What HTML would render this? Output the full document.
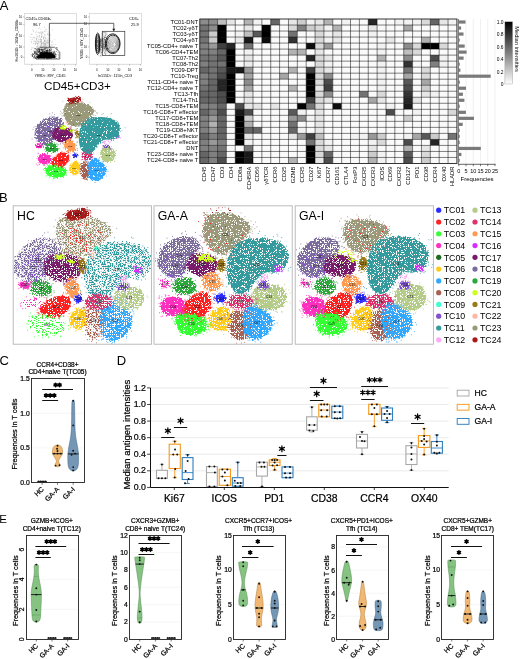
<!DOCTYPE html><html><head><meta charset="utf-8"><style>html,body{margin:0;padding:0;background:#fff;overflow:hidden}svg{display:block;will-change:transform}text{font-family:"Liberation Sans",sans-serif;fill:#000}.b text,text.b{stroke:#000;stroke-width:0.22px}</style></head><body>
<svg width="520" height="659" viewBox="0 0 520 659">
<rect width="520" height="659" fill="#fff"/>
<defs><filter id="sp0" x="-10%" y="-10%" width="120%" height="120%" color-interpolation-filters="sRGB"><feTurbulence type="fractalNoise" baseFrequency="0.5" numOctaves="2" seed="3" result="n"/><feDisplacementMap in="SourceGraphic" in2="n" scale="6" xChannelSelector="R" yChannelSelector="G" result="d"/><feTurbulence type="fractalNoise" baseFrequency="1.5" numOctaves="1" seed="11" result="n2"/><feColorMatrix in="n2" type="matrix" values="0 0 0 0 0 0 0 0 0 0 0 0 0 0 0 25 0 0 0 -7.750" result="m"/><feComposite in="d" in2="m" operator="in"/></filter><filter id="sp1" x="-10%" y="-10%" width="120%" height="120%" color-interpolation-filters="sRGB"><feTurbulence type="fractalNoise" baseFrequency="0.5" numOctaves="2" seed="4" result="n"/><feDisplacementMap in="SourceGraphic" in2="n" scale="6" xChannelSelector="R" yChannelSelector="G" result="d"/><feTurbulence type="fractalNoise" baseFrequency="1.5" numOctaves="1" seed="12" result="n2"/><feColorMatrix in="n2" type="matrix" values="0 0 0 0 0 0 0 0 0 0 0 0 0 0 0 25 0 0 0 -9.750" result="m"/><feComposite in="d" in2="m" operator="in"/></filter><filter id="sp2" x="-10%" y="-10%" width="120%" height="120%" color-interpolation-filters="sRGB"><feTurbulence type="fractalNoise" baseFrequency="0.5" numOctaves="2" seed="5" result="n"/><feDisplacementMap in="SourceGraphic" in2="n" scale="6" xChannelSelector="R" yChannelSelector="G" result="d"/><feTurbulence type="fractalNoise" baseFrequency="1.5" numOctaves="1" seed="13" result="n2"/><feColorMatrix in="n2" type="matrix" values="0 0 0 0 0 0 0 0 0 0 0 0 0 0 0 25 0 0 0 -11.125" result="m"/><feComposite in="d" in2="m" operator="in"/></filter><filter id="sp3" x="-10%" y="-10%" width="120%" height="120%" color-interpolation-filters="sRGB"><feTurbulence type="fractalNoise" baseFrequency="0.5" numOctaves="2" seed="6" result="n"/><feDisplacementMap in="SourceGraphic" in2="n" scale="6" xChannelSelector="R" yChannelSelector="G" result="d"/><feTurbulence type="fractalNoise" baseFrequency="1.5" numOctaves="1" seed="14" result="n2"/><feColorMatrix in="n2" type="matrix" values="0 0 0 0 0 0 0 0 0 0 0 0 0 0 0 25 0 0 0 -12.175" result="m"/><feComposite in="d" in2="m" operator="in"/></filter><filter id="sp4" x="-10%" y="-10%" width="120%" height="120%" color-interpolation-filters="sRGB"><feTurbulence type="fractalNoise" baseFrequency="0.5" numOctaves="2" seed="7" result="n"/><feDisplacementMap in="SourceGraphic" in2="n" scale="6" xChannelSelector="R" yChannelSelector="G" result="d"/><feTurbulence type="fractalNoise" baseFrequency="1.5" numOctaves="1" seed="15" result="n2"/><feColorMatrix in="n2" type="matrix" values="0 0 0 0 0 0 0 0 0 0 0 0 0 0 0 25 0 0 0 -13.175" result="m"/><feComposite in="d" in2="m" operator="in"/></filter><filter id="sp5" x="-10%" y="-10%" width="120%" height="120%" color-interpolation-filters="sRGB"><feTurbulence type="fractalNoise" baseFrequency="0.5" numOctaves="2" seed="8" result="n"/><feDisplacementMap in="SourceGraphic" in2="n" scale="6" xChannelSelector="R" yChannelSelector="G" result="d"/><feTurbulence type="fractalNoise" baseFrequency="1.5" numOctaves="1" seed="16" result="n2"/><feColorMatrix in="n2" type="matrix" values="0 0 0 0 0 0 0 0 0 0 0 0 0 0 0 25 0 0 0 -14.075" result="m"/><feComposite in="d" in2="m" operator="in"/></filter><filter id="sp6" x="-10%" y="-10%" width="120%" height="120%" color-interpolation-filters="sRGB"><feTurbulence type="fractalNoise" baseFrequency="0.5" numOctaves="2" seed="9" result="n"/><feDisplacementMap in="SourceGraphic" in2="n" scale="6" xChannelSelector="R" yChannelSelector="G" result="d"/><feTurbulence type="fractalNoise" baseFrequency="1.5" numOctaves="1" seed="17" result="n2"/><feColorMatrix in="n2" type="matrix" values="0 0 0 0 0 0 0 0 0 0 0 0 0 0 0 25 0 0 0 -15.250" result="m"/><feComposite in="d" in2="m" operator="in"/></filter><filter id="sp7" x="-10%" y="-10%" width="120%" height="120%" color-interpolation-filters="sRGB"><feTurbulence type="fractalNoise" baseFrequency="0.5" numOctaves="2" seed="10" result="n"/><feDisplacementMap in="SourceGraphic" in2="n" scale="6" xChannelSelector="R" yChannelSelector="G" result="d"/><feTurbulence type="fractalNoise" baseFrequency="1.5" numOctaves="1" seed="18" result="n2"/><feColorMatrix in="n2" type="matrix" values="0 0 0 0 0 0 0 0 0 0 0 0 0 0 0 25 0 0 0 -16.500" result="m"/><feComposite in="d" in2="m" operator="in"/></filter><filter id="spa0" x="-10%" y="-10%" width="120%" height="120%" color-interpolation-filters="sRGB"><feTurbulence type="fractalNoise" baseFrequency="0.8" numOctaves="2" seed="3" result="n"/><feDisplacementMap in="SourceGraphic" in2="n" scale="4" xChannelSelector="R" yChannelSelector="G" result="d"/><feTurbulence type="fractalNoise" baseFrequency="1.8" numOctaves="1" seed="11" result="n2"/><feColorMatrix in="n2" type="matrix" values="0 0 0 0 0 0 0 0 0 0 0 0 0 0 0 25 0 0 0 -7.750" result="m"/><feComposite in="d" in2="m" operator="in"/></filter><filter id="spa1" x="-10%" y="-10%" width="120%" height="120%" color-interpolation-filters="sRGB"><feTurbulence type="fractalNoise" baseFrequency="0.8" numOctaves="2" seed="4" result="n"/><feDisplacementMap in="SourceGraphic" in2="n" scale="4" xChannelSelector="R" yChannelSelector="G" result="d"/><feTurbulence type="fractalNoise" baseFrequency="1.8" numOctaves="1" seed="12" result="n2"/><feColorMatrix in="n2" type="matrix" values="0 0 0 0 0 0 0 0 0 0 0 0 0 0 0 25 0 0 0 -9.750" result="m"/><feComposite in="d" in2="m" operator="in"/></filter><filter id="spa2" x="-10%" y="-10%" width="120%" height="120%" color-interpolation-filters="sRGB"><feTurbulence type="fractalNoise" baseFrequency="0.8" numOctaves="2" seed="5" result="n"/><feDisplacementMap in="SourceGraphic" in2="n" scale="4" xChannelSelector="R" yChannelSelector="G" result="d"/><feTurbulence type="fractalNoise" baseFrequency="1.8" numOctaves="1" seed="13" result="n2"/><feColorMatrix in="n2" type="matrix" values="0 0 0 0 0 0 0 0 0 0 0 0 0 0 0 25 0 0 0 -11.125" result="m"/><feComposite in="d" in2="m" operator="in"/></filter><filter id="spa3" x="-10%" y="-10%" width="120%" height="120%" color-interpolation-filters="sRGB"><feTurbulence type="fractalNoise" baseFrequency="0.8" numOctaves="2" seed="6" result="n"/><feDisplacementMap in="SourceGraphic" in2="n" scale="4" xChannelSelector="R" yChannelSelector="G" result="d"/><feTurbulence type="fractalNoise" baseFrequency="1.8" numOctaves="1" seed="14" result="n2"/><feColorMatrix in="n2" type="matrix" values="0 0 0 0 0 0 0 0 0 0 0 0 0 0 0 25 0 0 0 -12.175" result="m"/><feComposite in="d" in2="m" operator="in"/></filter><filter id="spa4" x="-10%" y="-10%" width="120%" height="120%" color-interpolation-filters="sRGB"><feTurbulence type="fractalNoise" baseFrequency="0.8" numOctaves="2" seed="7" result="n"/><feDisplacementMap in="SourceGraphic" in2="n" scale="4" xChannelSelector="R" yChannelSelector="G" result="d"/><feTurbulence type="fractalNoise" baseFrequency="1.8" numOctaves="1" seed="15" result="n2"/><feColorMatrix in="n2" type="matrix" values="0 0 0 0 0 0 0 0 0 0 0 0 0 0 0 25 0 0 0 -13.175" result="m"/><feComposite in="d" in2="m" operator="in"/></filter><filter id="spa5" x="-10%" y="-10%" width="120%" height="120%" color-interpolation-filters="sRGB"><feTurbulence type="fractalNoise" baseFrequency="0.8" numOctaves="2" seed="8" result="n"/><feDisplacementMap in="SourceGraphic" in2="n" scale="4" xChannelSelector="R" yChannelSelector="G" result="d"/><feTurbulence type="fractalNoise" baseFrequency="1.8" numOctaves="1" seed="16" result="n2"/><feColorMatrix in="n2" type="matrix" values="0 0 0 0 0 0 0 0 0 0 0 0 0 0 0 25 0 0 0 -14.075" result="m"/><feComposite in="d" in2="m" operator="in"/></filter><filter id="spa6" x="-10%" y="-10%" width="120%" height="120%" color-interpolation-filters="sRGB"><feTurbulence type="fractalNoise" baseFrequency="0.8" numOctaves="2" seed="9" result="n"/><feDisplacementMap in="SourceGraphic" in2="n" scale="4" xChannelSelector="R" yChannelSelector="G" result="d"/><feTurbulence type="fractalNoise" baseFrequency="1.8" numOctaves="1" seed="17" result="n2"/><feColorMatrix in="n2" type="matrix" values="0 0 0 0 0 0 0 0 0 0 0 0 0 0 0 25 0 0 0 -15.250" result="m"/><feComposite in="d" in2="m" operator="in"/></filter><filter id="spa7" x="-10%" y="-10%" width="120%" height="120%" color-interpolation-filters="sRGB"><feTurbulence type="fractalNoise" baseFrequency="0.8" numOctaves="2" seed="10" result="n"/><feDisplacementMap in="SourceGraphic" in2="n" scale="4" xChannelSelector="R" yChannelSelector="G" result="d"/><feTurbulence type="fractalNoise" baseFrequency="1.8" numOctaves="1" seed="18" result="n2"/><feColorMatrix in="n2" type="matrix" values="0 0 0 0 0 0 0 0 0 0 0 0 0 0 0 25 0 0 0 -16.500" result="m"/><feComposite in="d" in2="m" operator="in"/></filter></defs>
<text x="-0.30" y="9.60" font-size="13" text-anchor="start" >A</text>
<text x="-0.90" y="202.30" font-size="13" text-anchor="start" >B</text>
<text x="-0.60" y="365.00" font-size="13" text-anchor="start" >C</text>
<text x="116.80" y="364.80" font-size="13" text-anchor="start" >D</text>
<text x="-0.80" y="522.60" font-size="11.5" text-anchor="start" >E</text>
<rect x="24.4" y="13.5" width="52.1" height="50.7" fill="none" stroke="#d0d0d0" stroke-width="0.7"/>
<line x1="23.0" y1="57.3" x2="24.4" y2="57.3" stroke="#888" stroke-width="0.5"/>
<text x="22.20" y="58.30" font-size="2.8" text-anchor="end" fill="#666">0</text>
<line x1="23.0" y1="46.9" x2="24.4" y2="46.9" stroke="#888" stroke-width="0.5"/>
<text x="22.20" y="47.90" font-size="2.8" text-anchor="end" fill="#666">10</text>
<line x1="23.0" y1="36.0" x2="24.4" y2="36.0" stroke="#888" stroke-width="0.5"/>
<text x="22.20" y="37.00" font-size="2.8" text-anchor="end" fill="#666">10</text>
<line x1="23.0" y1="24.4" x2="24.4" y2="24.4" stroke="#888" stroke-width="0.5"/>
<text x="22.20" y="25.40" font-size="2.8" text-anchor="end" fill="#666">10</text>
<line x1="23.0" y1="16.9" x2="24.4" y2="16.9" stroke="#888" stroke-width="0.5"/>
<text x="22.20" y="17.90" font-size="2.8" text-anchor="end" fill="#666">10</text>
<line x1="31.9" y1="64.2" x2="31.9" y2="65.6" stroke="#888" stroke-width="0.5"/>
<text x="31.90" y="70.80" font-size="2.8" text-anchor="middle" fill="#666">0</text>
<line x1="42.8" y1="64.2" x2="42.8" y2="65.6" stroke="#888" stroke-width="0.5"/>
<text x="42.80" y="70.80" font-size="2.8" text-anchor="middle" fill="#666">10</text>
<line x1="53.7" y1="64.2" x2="53.7" y2="65.6" stroke="#888" stroke-width="0.5"/>
<text x="53.70" y="70.80" font-size="2.8" text-anchor="middle" fill="#666">10</text>
<line x1="64.6" y1="64.2" x2="64.6" y2="65.6" stroke="#888" stroke-width="0.5"/>
<text x="64.60" y="70.80" font-size="2.8" text-anchor="middle" fill="#666">10</text>
<line x1="75.4" y1="64.2" x2="75.4" y2="65.6" stroke="#888" stroke-width="0.5"/>
<text x="75.40" y="70.80" font-size="2.8" text-anchor="middle" fill="#666">10</text>
<line x1="27.4" y1="64.2" x2="27.4" y2="64.9" stroke="#aaa" stroke-width="0.3"/>
<line x1="29.6" y1="64.2" x2="29.6" y2="64.9" stroke="#aaa" stroke-width="0.3"/>
<line x1="31.8" y1="64.2" x2="31.8" y2="64.9" stroke="#aaa" stroke-width="0.3"/>
<line x1="34.0" y1="64.2" x2="34.0" y2="64.9" stroke="#aaa" stroke-width="0.3"/>
<line x1="36.2" y1="64.2" x2="36.2" y2="64.9" stroke="#aaa" stroke-width="0.3"/>
<line x1="38.4" y1="64.2" x2="38.4" y2="64.9" stroke="#aaa" stroke-width="0.3"/>
<line x1="40.6" y1="64.2" x2="40.6" y2="64.9" stroke="#aaa" stroke-width="0.3"/>
<line x1="42.8" y1="64.2" x2="42.8" y2="64.9" stroke="#aaa" stroke-width="0.3"/>
<line x1="45.0" y1="64.2" x2="45.0" y2="64.9" stroke="#aaa" stroke-width="0.3"/>
<line x1="47.2" y1="64.2" x2="47.2" y2="64.9" stroke="#aaa" stroke-width="0.3"/>
<line x1="49.4" y1="64.2" x2="49.4" y2="64.9" stroke="#aaa" stroke-width="0.3"/>
<line x1="51.6" y1="64.2" x2="51.6" y2="64.9" stroke="#aaa" stroke-width="0.3"/>
<line x1="53.8" y1="64.2" x2="53.8" y2="64.9" stroke="#aaa" stroke-width="0.3"/>
<line x1="56.0" y1="64.2" x2="56.0" y2="64.9" stroke="#aaa" stroke-width="0.3"/>
<line x1="58.2" y1="64.2" x2="58.2" y2="64.9" stroke="#aaa" stroke-width="0.3"/>
<line x1="60.4" y1="64.2" x2="60.4" y2="64.9" stroke="#aaa" stroke-width="0.3"/>
<line x1="62.6" y1="64.2" x2="62.6" y2="64.9" stroke="#aaa" stroke-width="0.3"/>
<line x1="64.8" y1="64.2" x2="64.8" y2="64.9" stroke="#aaa" stroke-width="0.3"/>
<line x1="67.0" y1="64.2" x2="67.0" y2="64.9" stroke="#aaa" stroke-width="0.3"/>
<line x1="69.2" y1="64.2" x2="69.2" y2="64.9" stroke="#aaa" stroke-width="0.3"/>
<line x1="71.4" y1="64.2" x2="71.4" y2="64.9" stroke="#aaa" stroke-width="0.3"/>
<line x1="73.6" y1="64.2" x2="73.6" y2="64.9" stroke="#aaa" stroke-width="0.3"/>
<line x1="75.8" y1="64.2" x2="75.8" y2="64.9" stroke="#aaa" stroke-width="0.3"/>
<rect x="89.4" y="13.5" width="52.1" height="50.7" fill="none" stroke="#d0d0d0" stroke-width="0.7"/>
<line x1="88.0" y1="57.3" x2="89.4" y2="57.3" stroke="#888" stroke-width="0.5"/>
<text x="87.20" y="58.30" font-size="2.8" text-anchor="end" fill="#666">0</text>
<line x1="88.0" y1="46.9" x2="89.4" y2="46.9" stroke="#888" stroke-width="0.5"/>
<text x="87.20" y="47.90" font-size="2.8" text-anchor="end" fill="#666">10</text>
<line x1="88.0" y1="36.0" x2="89.4" y2="36.0" stroke="#888" stroke-width="0.5"/>
<text x="87.20" y="37.00" font-size="2.8" text-anchor="end" fill="#666">10</text>
<line x1="88.0" y1="24.4" x2="89.4" y2="24.4" stroke="#888" stroke-width="0.5"/>
<text x="87.20" y="25.40" font-size="2.8" text-anchor="end" fill="#666">10</text>
<line x1="88.0" y1="16.9" x2="89.4" y2="16.9" stroke="#888" stroke-width="0.5"/>
<text x="87.20" y="17.90" font-size="2.8" text-anchor="end" fill="#666">10</text>
<line x1="96.9" y1="64.2" x2="96.9" y2="65.6" stroke="#888" stroke-width="0.5"/>
<text x="96.90" y="70.80" font-size="2.8" text-anchor="middle" fill="#666">0</text>
<line x1="107.8" y1="64.2" x2="107.8" y2="65.6" stroke="#888" stroke-width="0.5"/>
<text x="107.80" y="70.80" font-size="2.8" text-anchor="middle" fill="#666">10</text>
<line x1="118.7" y1="64.2" x2="118.7" y2="65.6" stroke="#888" stroke-width="0.5"/>
<text x="118.70" y="70.80" font-size="2.8" text-anchor="middle" fill="#666">10</text>
<line x1="129.6" y1="64.2" x2="129.6" y2="65.6" stroke="#888" stroke-width="0.5"/>
<text x="129.60" y="70.80" font-size="2.8" text-anchor="middle" fill="#666">10</text>
<line x1="140.4" y1="64.2" x2="140.4" y2="65.6" stroke="#888" stroke-width="0.5"/>
<text x="140.40" y="70.80" font-size="2.8" text-anchor="middle" fill="#666">10</text>
<line x1="92.4" y1="64.2" x2="92.4" y2="64.9" stroke="#aaa" stroke-width="0.3"/>
<line x1="94.6" y1="64.2" x2="94.6" y2="64.9" stroke="#aaa" stroke-width="0.3"/>
<line x1="96.8" y1="64.2" x2="96.8" y2="64.9" stroke="#aaa" stroke-width="0.3"/>
<line x1="99.0" y1="64.2" x2="99.0" y2="64.9" stroke="#aaa" stroke-width="0.3"/>
<line x1="101.2" y1="64.2" x2="101.2" y2="64.9" stroke="#aaa" stroke-width="0.3"/>
<line x1="103.4" y1="64.2" x2="103.4" y2="64.9" stroke="#aaa" stroke-width="0.3"/>
<line x1="105.6" y1="64.2" x2="105.6" y2="64.9" stroke="#aaa" stroke-width="0.3"/>
<line x1="107.8" y1="64.2" x2="107.8" y2="64.9" stroke="#aaa" stroke-width="0.3"/>
<line x1="110.0" y1="64.2" x2="110.0" y2="64.9" stroke="#aaa" stroke-width="0.3"/>
<line x1="112.2" y1="64.2" x2="112.2" y2="64.9" stroke="#aaa" stroke-width="0.3"/>
<line x1="114.4" y1="64.2" x2="114.4" y2="64.9" stroke="#aaa" stroke-width="0.3"/>
<line x1="116.6" y1="64.2" x2="116.6" y2="64.9" stroke="#aaa" stroke-width="0.3"/>
<line x1="118.8" y1="64.2" x2="118.8" y2="64.9" stroke="#aaa" stroke-width="0.3"/>
<line x1="121.0" y1="64.2" x2="121.0" y2="64.9" stroke="#aaa" stroke-width="0.3"/>
<line x1="123.2" y1="64.2" x2="123.2" y2="64.9" stroke="#aaa" stroke-width="0.3"/>
<line x1="125.4" y1="64.2" x2="125.4" y2="64.9" stroke="#aaa" stroke-width="0.3"/>
<line x1="127.6" y1="64.2" x2="127.6" y2="64.9" stroke="#aaa" stroke-width="0.3"/>
<line x1="129.8" y1="64.2" x2="129.8" y2="64.9" stroke="#aaa" stroke-width="0.3"/>
<line x1="132.0" y1="64.2" x2="132.0" y2="64.9" stroke="#aaa" stroke-width="0.3"/>
<line x1="134.2" y1="64.2" x2="134.2" y2="64.9" stroke="#aaa" stroke-width="0.3"/>
<line x1="136.4" y1="64.2" x2="136.4" y2="64.9" stroke="#aaa" stroke-width="0.3"/>
<line x1="138.6" y1="64.2" x2="138.6" y2="64.9" stroke="#aaa" stroke-width="0.3"/>
<line x1="140.8" y1="64.2" x2="140.8" y2="64.9" stroke="#aaa" stroke-width="0.3"/>
<text x="50.00" y="77.30" font-size="3.7" text-anchor="middle" fill="#333">Y89Di : 89Y_CD45</text>
<text x="115.00" y="77.30" font-size="3.7" text-anchor="middle" fill="#333">In115Di : 115In_CD3</text>
<text transform="translate(17.80,40.50) rotate(-90)" font-size="3.7" text-anchor="middle" fill="#333">Ho165Di : 165Ho_CD66b</text>
<text transform="translate(82.60,43.50) rotate(-90)" font-size="3.7" text-anchor="middle" fill="#333">Y89Di : 89Y_CD45</text>
<text x="25.60" y="19.80" font-size="3.9" text-anchor="start" fill="#222">CD45+CD66b-</text>
<text x="36.80" y="25.50" font-size="3.9" text-anchor="middle" fill="#222">96.7</text>
<text x="139.00" y="19.80" font-size="3.9" text-anchor="end" fill="#222">CD3+</text>
<text x="134.90" y="25.50" font-size="3.9" text-anchor="middle" fill="#222">25.9</text>
<path d="M40.6 45.6h0M40.8 39.8h0M36.9 40.5h0M48.1 45.0h0M47.7 43.7h0M44.2 43.3h0M32.8 48.0h0M44.8 45.5h0M32.7 29.8h0M37.1 38.7h0M43.7 41.7h0M44.9 37.5h0M43.7 44.8h0M45.1 50.4h0M38.6 36.8h0M40.1 41.3h0M45.5 43.7h0M39.5 35.3h0M39.1 50.5h0M37.6 43.7h0M44.3 31.6h0M42.3 51.1h0M30.9 39.7h0M41.4 36.3h0M44.7 41.6h0M33.9 47.8h0M45.7 48.6h0M49.9 44.5h0M42.7 32.9h0M45.4 37.7h0M39.5 33.1h0M36.7 38.3h0M49.1 27.8h0M34.0 43.7h0M49.9 46.0h0M44.0 36.8h0M35.8 48.8h0M48.1 43.1h0M43.4 45.0h0M50.8 46.3h0M44.9 45.8h0M33.4 51.0h0M47.3 45.7h0M31.1 37.6h0M46.6 29.3h0M41.0 49.1h0M45.0 40.9h0M43.8 46.5h0M42.7 50.0h0M38.4 39.1h0M47.7 42.2h0M37.2 48.6h0M50.1 38.9h0M34.4 41.1h0M41.2 39.9h0M49.7 34.8h0M48.9 33.1h0M37.7 46.4h0M48.2 48.0h0M43.9 43.0h0M42.8 46.0h0M41.0 43.9h0M45.1 42.0h0M46.2 46.0h0M53.1 44.3h0M39.6 39.4h0M41.9 48.5h0M40.1 44.7h0M35.8 43.7h0M44.2 43.7h0M39.6 46.6h0M43.6 38.3h0M55.4 44.5h0M39.0 41.3h0M40.8 41.6h0M47.5 33.8h0M41.6 48.7h0M32.6 39.5h0M40.1 46.4h0M48.0 31.9h0M45.8 31.6h0M43.0 50.4h0M41.2 43.3h0M46.4 43.0h0M47.8 39.9h0M47.0 40.1h0M42.7 46.9h0M43.2 46.5h0M33.6 31.4h0M45.4 35.3h0M36.4 31.7h0M49.0 47.2h0M50.1 35.4h0M42.0 34.0h0M47.4 40.8h0M31.2 51.8h0M41.5 37.8h0M44.2 44.9h0M50.2 34.9h0M50.0 40.7h0M37.9 49.1h0M42.6 42.9h0M49.8 40.2h0M31.8 47.7h0M43.7 37.7h0M41.9 47.8h0M42.4 51.3h0M41.7 49.3h0M38.3 48.2h0M31.7 34.4h0M31.2 49.5h0M35.2 41.9h0M40.9 41.8h0M38.7 43.6h0M51.9 42.3h0M44.9 49.0h0M40.9 33.2h0M38.9 49.5h0M32.9 37.8h0M47.5 47.5h0M42.0 47.6h0M42.9 33.7h0M33.4 37.5h0M47.1 38.0h0M37.0 36.6h0M33.6 41.2h0M35.5 44.5h0M38.5 28.4h0M46.0 40.1h0M43.6 38.8h0M46.3 47.2h0M45.7 44.3h0M49.3 46.6h0M44.5 27.4h0M46.9 51.2h0M40.4 38.7h0M52.7 29.7h0M36.9 46.8h0M52.4 41.2h0M45.1 48.3h0M37.0 41.4h0M43.6 47.8h0M41.8 40.6h0M36.4 39.5h0M46.9 42.7h0M37.3 36.1h0M45.4 45.4h0M51.3 45.0h0M41.6 45.7h0M31.3 49.2h0M43.8 37.1h0M34.3 37.3h0M43.6 43.3h0M39.8 35.2h0M53.7 49.3h0M35.4 32.6h0M51.4 48.9h0M52.0 47.7h0M37.2 43.8h0M30.1 36.8h0M41.7 45.7h0M38.0 41.1h0M44.5 44.6h0M45.5 43.5h0M40.2 47.5h0M42.3 36.2h0M38.6 42.0h0M41.4 43.1h0M42.0 43.2h0M41.3 33.2h0M44.3 49.4h0M44.4 40.7h0M44.5 35.2h0M31.6 42.4h0M36.9 47.2h0M39.9 32.4h0M37.8 45.6h0M44.7 43.2h0M50.2 46.9h0M41.9 46.2h0M51.1 48.8h0M47.6 34.4h0M41.2 47.1h0M40.4 49.5h0M45.3 48.4h0M48.8 40.5h0M40.1 48.1h0M47.4 42.0h0M35.6 43.3h0M44.0 49.9h0M46.3 42.2h0M46.7 45.8h0M43.1 42.4h0M40.7 46.8h0M36.2 37.6h0M42.0 31.8h0M39.6 27.9h0M38.2 46.0h0M45.1 41.6h0M40.7 32.1h0M52.1 45.6h0M48.0 35.8h0M41.0 29.3h0M46.3 48.5h0M31.6 41.6h0M45.5 29.7h0M32.0 34.5h0M38.5 32.2h0M42.2 43.7h0M45.5 46.9h0M50.3 50.2h0M34.8 38.5h0M36.2 34.5h0M41.6 42.0h0M44.7 30.9h0M35.2 41.8h0M40.9 39.8h0M41.7 36.7h0M45.9 44.5h0M41.5 37.3h0M36.6 42.3h0M33.7 43.4h0M42.8 32.4h0M40.6 39.8h0M44.5 46.3h0M41.8 36.0h0M41.2 41.5h0M46.0 44.1h0M38.0 32.5h0M39.9 36.8h0M35.9 41.2h0M39.3 42.7h0M44.9 39.1h0M54.8 39.7h0M48.1 42.9h0M37.9 43.7h0M43.8 51.0h0M46.2 48.6h0M44.8 40.9h0M44.8 34.5h0M48.5 34.9h0M40.8 42.1h0M48.4 42.2h0M37.6 43.8h0M45.2 47.0h0M51.2 42.1h0M43.5 39.0h0M49.8 37.1h0M45.7 38.6h0M38.2 47.0h0M49.3 41.9h0M38.3 47.7h0M41.7 44.2h0M50.4 49.9h0M42.0 47.5h0M38.4 41.7h0M49.5 33.5h0M33.7 30.7h0M48.5 38.8h0M41.7 39.8h0M41.3 34.4h0M42.1 31.9h0M41.6 44.2h0M44.6 40.4h0M37.0 43.1h0M46.2 41.2h0M39.4 37.1h0M36.8 39.5h0" stroke="#333" stroke-width="0.4" stroke-linecap="round" fill="none" opacity="0.55"/>
<path d="M46.6 55.8h0M41.1 54.5h0M42.1 54.9h0M45.8 55.6h0M43.7 55.5h0M45.3 56.5h0M34.6 52.2h0M45.0 51.8h0M39.3 56.1h0M41.4 56.2h0M49.1 55.3h0M47.8 54.2h0M37.2 54.4h0M47.5 53.1h0M44.5 56.4h0M40.2 56.2h0M55.2 53.1h0M45.8 54.1h0M53.5 55.3h0M49.9 52.7h0M44.9 54.5h0M35.2 58.2h0M49.9 50.0h0M49.1 54.2h0M47.5 55.5h0M36.8 53.9h0M53.2 53.0h0M39.4 51.0h0M38.3 55.4h0M54.3 55.6h0M42.1 52.7h0M47.9 55.9h0M39.4 51.5h0M46.6 55.1h0M37.8 54.0h0M42.0 55.7h0M44.4 54.3h0M43.1 57.2h0M52.6 53.5h0M49.7 52.5h0M45.4 56.4h0M53.3 53.5h0M44.6 55.0h0M36.8 54.5h0M41.3 55.5h0M38.8 49.4h0M45.2 55.2h0M42.0 56.8h0M43.5 52.9h0M47.6 50.4h0M41.3 54.4h0M49.7 54.1h0M46.7 52.8h0M41.5 54.5h0M46.0 57.2h0M38.2 49.0h0M48.3 56.6h0M46.1 55.2h0M50.1 55.5h0M54.2 51.3h0M49.5 53.5h0M45.0 53.8h0M42.3 52.3h0M41.5 56.2h0M45.2 54.7h0M44.0 56.9h0M47.7 54.1h0M48.7 54.1h0M38.7 58.3h0M47.6 52.0h0M50.9 55.4h0M36.4 58.7h0M46.8 56.8h0M46.1 54.1h0M36.5 57.0h0M45.2 53.8h0M46.9 54.7h0M48.7 53.5h0M44.8 48.9h0M42.7 56.3h0M52.4 53.6h0M44.3 58.6h0M43.2 56.4h0M54.2 54.6h0M51.7 52.7h0M46.1 54.3h0M45.6 57.4h0M58.1 52.8h0M41.8 55.8h0M39.2 55.8h0M48.1 53.8h0M47.9 50.5h0M49.2 50.5h0M41.2 53.1h0M42.8 56.7h0M45.4 53.5h0M48.0 58.6h0M45.0 55.5h0M51.8 55.2h0M57.1 49.3h0M44.8 55.6h0M50.3 56.2h0M43.5 51.8h0M45.6 57.2h0M39.0 51.8h0M44.9 49.5h0M43.6 53.4h0M47.5 52.7h0M40.1 53.5h0M44.7 52.8h0M45.1 56.5h0M40.7 53.4h0M41.0 54.4h0M47.9 51.0h0M47.6 54.4h0M35.0 55.3h0M51.6 49.6h0M49.4 55.0h0M47.6 55.6h0M52.2 53.9h0M49.8 53.4h0M49.0 52.4h0M47.5 54.1h0M38.7 52.4h0M46.1 56.9h0M47.3 55.9h0M44.8 58.0h0M42.9 53.1h0M49.9 54.7h0M43.5 53.0h0M43.6 56.1h0M46.9 51.4h0M47.3 55.0h0M39.5 56.5h0M43.5 53.6h0M49.4 57.9h0M41.2 55.6h0M42.3 57.6h0M41.4 56.6h0M57.2 47.9h0M42.6 55.8h0M44.5 52.8h0M56.8 54.7h0M36.0 56.7h0M35.5 57.5h0M41.8 54.9h0M51.9 54.8h0M37.3 50.1h0M51.5 56.4h0M40.5 56.7h0M47.7 56.2h0M32.6 53.7h0M50.0 56.4h0M49.8 48.1h0M45.9 55.8h0M43.2 54.6h0M49.9 53.3h0M51.3 52.5h0M46.5 53.1h0M45.9 52.7h0M36.2 57.3h0M46.7 53.0h0M46.1 57.1h0M39.6 54.2h0M48.0 55.9h0M43.2 49.0h0M51.8 55.4h0M45.1 53.8h0M46.4 53.4h0M39.4 52.6h0M41.7 52.9h0M38.6 56.2h0M37.8 56.2h0M39.4 55.4h0M52.6 55.0h0M41.0 54.6h0M45.8 50.0h0M41.7 54.9h0M42.4 54.7h0M49.0 56.5h0M50.0 56.0h0M43.4 54.5h0M43.5 53.7h0M44.0 50.0h0M43.2 54.4h0M39.6 54.4h0M47.8 54.1h0M56.4 47.7h0M43.9 49.8h0M31.2 54.8h0M47.9 53.7h0M48.0 48.7h0M49.7 55.5h0M45.1 53.0h0M48.5 53.2h0M46.2 53.2h0M32.6 54.4h0M46.1 56.5h0M40.2 54.4h0M48.4 54.9h0M40.0 49.5h0M49.7 58.5h0M50.1 56.6h0M41.6 52.6h0M49.9 52.1h0M35.0 51.9h0M41.2 52.6h0M46.3 52.6h0M52.2 54.3h0M39.0 57.9h0M41.8 55.1h0M44.9 53.7h0M46.8 52.7h0M34.9 48.8h0M38.0 52.5h0M44.9 54.6h0M48.1 54.8h0M40.6 52.7h0M33.3 54.1h0M47.7 55.9h0M44.3 54.0h0M50.1 54.5h0M49.1 56.0h0M46.2 57.9h0M41.9 53.6h0M40.6 52.4h0M45.1 56.0h0M51.5 56.6h0M51.6 51.2h0M41.5 55.7h0M52.9 54.8h0M40.3 53.6h0M41.4 52.3h0M53.3 52.9h0M51.5 55.4h0M41.6 55.6h0M53.9 56.1h0M51.9 54.8h0M47.8 54.0h0M47.3 57.9h0M37.1 54.3h0M46.3 53.0h0M43.3 56.5h0M56.0 56.1h0M46.8 50.5h0M55.6 54.7h0M44.8 51.6h0M44.7 51.7h0M45.4 55.7h0M45.2 55.2h0M40.3 58.2h0M41.4 49.8h0M44.0 52.5h0M39.4 53.6h0M46.6 51.4h0M44.2 58.2h0M48.8 54.1h0M45.7 54.2h0M44.7 56.4h0M44.5 48.2h0M44.9 52.2h0M48.6 52.9h0M39.2 51.6h0M37.2 48.3h0M34.7 55.4h0M41.5 49.6h0M36.8 56.1h0M40.7 53.5h0M46.8 58.0h0M55.7 57.2h0M45.8 55.0h0M54.9 58.2h0M43.3 55.7h0M46.6 54.6h0M42.2 51.1h0M42.1 50.5h0M51.7 55.9h0M38.4 58.1h0M49.9 49.5h0M55.1 56.6h0M56.4 51.3h0M47.9 55.6h0M46.1 54.9h0M50.8 50.6h0M38.2 50.9h0M41.9 52.9h0M47.0 55.2h0M45.2 52.7h0M42.6 57.0h0M49.2 54.8h0M43.2 58.5h0M41.7 56.2h0M51.3 53.8h0M49.5 51.6h0M50.6 55.0h0M36.3 56.2h0M40.1 57.8h0M41.3 54.1h0M46.6 53.6h0M46.4 53.1h0M48.7 54.5h0M46.2 47.3h0M51.4 54.6h0M35.2 54.7h0M47.6 57.3h0M39.0 58.5h0M44.2 56.3h0M43.0 51.6h0M51.0 56.9h0M53.5 56.7h0M41.8 50.2h0M41.4 52.7h0M40.5 56.0h0M46.8 53.8h0M45.9 54.1h0M46.2 56.5h0M50.3 52.7h0M36.7 58.2h0M45.6 57.4h0M36.0 53.6h0M45.1 50.8h0M42.2 56.4h0M50.9 58.6h0M40.3 50.9h0M47.9 56.9h0M46.1 51.1h0M49.3 56.6h0M48.0 53.2h0M46.7 56.6h0M41.9 49.7h0M46.8 55.8h0M45.1 56.8h0M41.8 54.3h0M43.3 56.0h0M53.8 53.8h0M56.3 58.5h0M49.3 56.0h0M54.7 54.0h0M44.4 51.7h0M47.6 58.0h0M47.9 55.6h0M43.9 54.9h0M37.2 57.2h0M42.7 51.6h0M40.9 52.4h0M49.7 57.3h0M37.5 56.9h0M49.9 53.0h0M36.8 52.6h0M41.5 55.4h0M43.0 49.2h0M46.3 50.5h0M50.0 51.4h0M41.2 52.3h0M42.0 57.9h0M49.7 56.1h0M46.8 50.5h0M42.1 53.1h0M39.6 55.8h0M40.9 52.7h0M39.3 49.2h0M48.3 58.0h0M46.0 52.0h0M51.7 55.3h0M50.1 58.3h0M51.2 53.4h0M50.8 56.5h0M36.5 53.4h0M37.2 54.2h0M48.2 51.7h0M33.7 57.9h0M47.1 58.3h0M37.7 57.3h0M43.8 55.2h0M44.2 57.1h0M50.7 54.7h0M37.5 56.4h0M42.4 56.1h0M46.4 58.7h0M51.3 53.3h0M42.0 55.6h0M51.5 57.8h0M47.9 51.1h0M38.1 55.1h0M40.3 57.5h0M49.2 50.2h0M40.5 54.9h0M42.3 54.1h0M47.6 52.4h0M47.6 52.8h0M42.0 55.9h0M41.8 55.2h0M53.8 54.6h0M44.2 56.4h0M43.0 57.3h0M37.9 56.1h0M42.2 52.4h0M54.7 52.3h0M54.7 56.2h0M53.0 52.0h0M51.6 58.3h0M44.4 54.2h0M58.5 55.0h0M42.7 52.9h0M47.5 55.4h0M43.2 55.7h0M53.0 51.9h0M37.5 51.6h0M39.3 49.7h0M47.5 49.7h0M47.7 58.3h0M36.1 53.7h0M34.5 56.5h0M40.9 53.8h0M45.3 55.9h0M43.1 54.5h0M42.0 54.8h0M38.6 54.7h0M34.4 53.2h0M55.5 54.7h0M38.1 55.2h0M39.7 50.2h0M40.9 56.4h0M47.1 54.2h0M39.9 51.7h0M52.4 55.1h0M39.8 49.0h0M38.7 54.3h0M46.2 54.1h0M43.5 50.9h0M40.8 56.7h0M35.7 53.8h0M46.4 57.2h0M38.8 56.0h0M47.1 52.6h0M47.6 52.2h0M40.6 54.5h0M39.5 50.7h0M42.7 56.5h0M42.8 57.8h0M38.6 51.1h0M53.5 55.5h0M50.2 52.4h0M49.4 55.2h0M48.6 54.6h0M51.6 52.8h0M39.7 50.7h0M51.4 52.6h0M39.3 52.1h0M42.6 51.2h0M43.4 52.9h0M42.0 52.0h0M45.2 53.3h0M45.6 55.1h0M46.9 48.8h0M42.1 52.4h0M49.3 50.4h0M41.1 53.7h0M43.2 57.1h0M42.6 57.0h0M36.9 49.8h0M51.7 55.6h0M47.7 54.8h0M47.7 51.3h0M50.2 53.1h0M50.4 54.7h0M34.1 51.2h0M51.2 54.1h0M42.8 55.1h0M42.7 53.1h0M45.6 54.9h0M53.3 54.6h0M54.4 57.3h0M45.7 54.9h0M44.2 52.6h0M44.6 52.8h0M54.0 55.9h0M42.5 49.5h0M44.7 53.4h0M39.0 51.5h0M32.6 56.0h0M44.8 54.1h0M52.9 54.8h0M45.9 53.5h0M41.7 58.4h0M43.1 54.6h0M40.2 57.0h0M37.3 56.0h0M51.0 58.2h0M39.8 57.3h0M41.1 52.5h0M37.7 57.5h0M54.1 53.0h0M40.8 53.6h0M58.8 57.1h0M42.0 49.8h0M41.3 57.6h0M55.3 53.8h0M41.2 53.2h0M34.6 56.9h0M39.0 57.3h0M35.6 51.2h0M46.6 52.5h0M49.3 54.5h0M38.5 56.1h0M49.6 49.5h0M55.0 55.8h0M49.2 49.7h0M41.0 53.6h0M50.9 50.7h0M40.1 49.2h0M43.7 55.4h0M35.7 53.0h0M47.8 58.6h0M48.7 53.7h0M38.5 52.1h0M41.3 54.9h0M46.6 51.7h0M53.5 57.0h0M45.6 52.6h0M34.7 51.8h0M50.0 52.4h0M37.7 55.0h0M46.3 56.1h0M48.6 58.2h0M40.4 57.0h0M39.6 56.3h0M46.0 55.1h0M50.3 54.5h0M51.1 56.8h0M45.7 53.0h0M40.9 53.1h0M43.9 54.4h0M49.2 52.3h0M41.1 53.7h0M46.1 51.8h0M53.9 53.0h0M50.9 48.4h0M45.0 55.2h0M46.1 56.1h0M46.5 54.9h0M34.6 52.6h0M32.1 56.1h0M46.7 54.0h0M40.5 53.0h0M44.7 57.8h0M36.3 49.5h0M42.3 52.2h0M41.9 55.0h0M45.3 55.2h0M44.8 56.9h0M54.8 51.3h0M45.9 53.8h0M47.0 50.5h0M35.3 48.5h0M47.9 55.0h0M45.4 48.3h0M42.9 52.5h0M37.2 52.1h0M48.8 55.9h0M44.9 55.8h0M41.7 54.7h0M45.2 55.9h0" stroke="#111" stroke-width="0.6" stroke-linecap="round" fill="none"/>
<path d="M36.5 58.2Q39 53.5 45 52.3Q51 51.8 54.5 55Q56 57 55 58.2Z" fill="#000"/>
<path d="M36.2 59H59.8V52.1L54.6 47.3H40L32.1 56Z" fill="none" stroke="#333" stroke-width="0.7"/>
<path d="M49.4 47.3V23.3H113.8V29.4" fill="none" stroke="#222" stroke-width="0.7"/>
<path d="M112.4 28.8L113.8 31.4L115.2 28.8Z" fill="#111"/>
<path d="M102.8 43.1h0M102.6 40.1h0M109.7 47.1h0M107.2 34.7h0M105.1 49.0h0M108.7 51.9h0M105.3 36.9h0M100.4 45.6h0M104.5 37.9h0M101.8 41.6h0M103.2 46.0h0M102.1 36.6h0M106.7 53.6h0M102.7 50.1h0M104.3 48.0h0M104.4 39.4h0M104.7 50.1h0M100.3 55.8h0M109.3 54.9h0M109.0 48.5h0M102.0 40.4h0M100.6 44.7h0M102.9 48.0h0M109.8 43.8h0M105.0 46.9h0M103.8 42.7h0M102.6 39.1h0M103.5 43.9h0M104.0 38.9h0M103.1 44.3h0M104.8 37.6h0M104.3 49.9h0M104.8 41.8h0M101.5 42.6h0M105.2 53.3h0M102.5 40.1h0M104.1 45.2h0M100.3 39.6h0M102.7 48.0h0M99.4 37.9h0M104.5 36.7h0M103.3 46.1h0M102.7 37.9h0M102.8 42.0h0M104.0 39.0h0M106.3 33.9h0M102.5 44.0h0M105.9 40.3h0M104.6 40.6h0M105.2 54.4h0M101.8 46.7h0M100.2 49.8h0M106.6 44.2h0M99.6 46.4h0M106.4 50.5h0M105.4 33.0h0M101.0 52.5h0M99.3 50.8h0M108.6 48.6h0M106.4 42.0h0M99.3 43.4h0M102.4 43.7h0M105.1 43.1h0M103.6 46.5h0M103.0 55.1h0M104.3 44.5h0M102.4 40.2h0M107.0 44.9h0M99.8 40.6h0M102.6 41.3h0M106.3 37.0h0M104.5 44.9h0M99.5 44.3h0M102.7 47.0h0M101.6 45.8h0M98.0 37.5h0M105.4 50.2h0M103.0 40.4h0M100.6 48.0h0M105.0 37.8h0M97.3 52.7h0M103.5 38.6h0M103.2 49.4h0M105.3 33.3h0M106.4 46.4h0M109.8 40.3h0M103.0 50.3h0M101.1 39.8h0M101.9 43.6h0M99.8 46.9h0M104.6 44.4h0M108.1 42.0h0M106.9 40.7h0M105.3 32.4h0M103.6 42.9h0M101.5 40.3h0M102.0 39.7h0M96.4 40.4h0M101.4 40.9h0M99.8 43.2h0M105.4 42.5h0M101.5 52.1h0M105.9 49.5h0M106.5 42.0h0M102.6 50.7h0M101.3 43.3h0M104.1 46.2h0M102.2 49.9h0M102.5 48.4h0M106.2 48.0h0M105.2 37.0h0M99.1 40.3h0M104.4 53.0h0M99.3 45.8h0M100.4 39.6h0M102.2 48.2h0M103.6 51.1h0M100.0 49.3h0M105.8 44.4h0M104.4 40.6h0M99.7 41.6h0M101.5 53.9h0M103.6 45.9h0M105.2 39.3h0M105.7 46.3h0M98.5 47.6h0M104.7 46.7h0M107.8 41.5h0M104.5 48.5h0M100.3 51.2h0M98.6 36.2h0M104.6 37.5h0M102.7 34.1h0M103.2 37.2h0M104.0 34.8h0M104.3 42.4h0M103.2 43.6h0M103.4 36.1h0M100.2 41.3h0M104.3 32.1h0M100.7 40.3h0M99.8 46.0h0M102.6 39.1h0M100.0 48.8h0M101.0 47.5h0M104.3 32.6h0M99.7 44.0h0M104.0 48.7h0M105.4 50.2h0M101.9 42.7h0M105.3 41.4h0M106.2 34.5h0M105.0 43.0h0M97.1 49.9h0M103.9 44.1h0M99.8 41.2h0M107.5 39.0h0M99.4 43.2h0M101.8 38.5h0M100.5 50.3h0M98.7 55.7h0M101.4 37.4h0M105.4 47.4h0M99.9 48.5h0M97.5 38.5h0M106.4 42.5h0M99.1 47.1h0M105.8 43.9h0M97.6 41.9h0M104.3 48.6h0M108.6 42.5h0M101.6 43.8h0M106.6 38.4h0M105.4 39.9h0M104.4 48.1h0M99.5 43.5h0M103.7 47.5h0M100.2 38.1h0M102.4 42.7h0M98.5 49.6h0M101.4 52.6h0M105.6 44.1h0M105.2 37.3h0M102.0 40.5h0M99.2 44.1h0M102.6 52.6h0M100.2 41.2h0M104.3 46.4h0M103.1 41.2h0M104.5 46.2h0M97.5 42.4h0M98.9 36.9h0M103.4 44.4h0M103.3 38.7h0M102.4 38.5h0M104.1 48.1h0M108.3 51.6h0M100.6 41.3h0M100.2 45.8h0M108.9 48.3h0M96.4 36.5h0M99.1 47.1h0M103.0 45.8h0M108.3 39.0h0M100.5 55.8h0M104.0 39.3h0M96.9 34.9h0M103.1 50.0h0M102.6 39.8h0M100.8 55.4h0M97.7 45.0h0M103.1 47.7h0M101.8 47.0h0M105.4 43.1h0M101.6 42.9h0M100.1 42.8h0M102.1 45.3h0M107.0 51.8h0M101.7 47.6h0M103.9 48.6h0M103.1 45.6h0M101.6 39.3h0M105.6 51.8h0M105.0 46.6h0M103.8 41.3h0M97.7 48.0h0M103.6 40.7h0M100.1 51.7h0M97.6 54.6h0M100.8 43.9h0M101.5 44.9h0M102.4 39.5h0M106.2 39.3h0M101.5 47.3h0M101.4 41.4h0M104.1 41.8h0M99.3 43.4h0M102.3 54.2h0M99.7 49.8h0M100.6 41.9h0M102.0 45.6h0M105.6 54.5h0M101.1 52.0h0M106.0 48.9h0M100.7 49.4h0M102.7 46.1h0M102.2 48.0h0M106.3 50.8h0M102.4 50.0h0M107.4 38.4h0M107.4 36.0h0M104.6 47.6h0M107.4 45.7h0M101.6 39.2h0M99.2 48.6h0M102.3 39.7h0M104.6 39.4h0M101.7 41.2h0M108.0 52.8h0M102.5 34.6h0M103.8 44.4h0M104.0 47.4h0M102.0 49.6h0M105.5 45.3h0M101.8 41.1h0M105.1 37.4h0M102.5 39.5h0M98.8 47.6h0M102.9 44.2h0M105.6 35.0h0M102.8 45.7h0M105.5 37.5h0M105.1 45.3h0M107.1 50.8h0M103.0 41.5h0M102.0 38.4h0M102.9 32.7h0M102.7 46.6h0M106.0 41.9h0M107.2 40.1h0M102.6 32.7h0M100.7 39.3h0M107.4 47.1h0M99.8 47.1h0M104.4 42.6h0M103.1 42.2h0M101.4 33.6h0M102.7 51.5h0M107.2 42.4h0M100.8 42.8h0M105.6 46.1h0M101.3 46.1h0M102.4 47.0h0M101.8 35.4h0M103.2 48.5h0M99.8 43.4h0M105.6 41.8h0M101.1 55.9h0M105.4 50.0h0M100.2 53.5h0M98.2 41.0h0M105.2 51.8h0M100.3 40.1h0M103.6 32.7h0M104.9 47.3h0M101.7 47.1h0M105.3 45.8h0M104.5 52.8h0M101.6 44.9h0M101.5 50.0h0M101.8 46.8h0M103.4 44.4h0M108.0 43.5h0M107.1 48.8h0M106.8 43.0h0M105.7 48.4h0M101.2 45.6h0M102.6 43.8h0M106.8 39.8h0M98.1 33.9h0M101.7 40.3h0M103.0 47.3h0M108.1 45.8h0M104.3 39.7h0M104.7 51.9h0M106.9 32.7h0M105.6 53.2h0M105.4 35.4h0M102.1 47.4h0M104.2 39.3h0M100.4 49.6h0M99.1 52.3h0M103.1 45.7h0M99.1 40.6h0M105.0 35.5h0M109.0 35.9h0" stroke="#444" stroke-width="0.5" stroke-linecap="round" fill="none" opacity="0.7"/>
<ellipse cx="97.7" cy="43.7" rx="2.30" ry="10.70" fill="none" stroke="#111" stroke-width="0.9"/>
<ellipse cx="97.7" cy="43.7" rx="1.91" ry="8.88" fill="none" stroke="#111" stroke-width="0.9"/>
<ellipse cx="97.7" cy="43.7" rx="1.52" ry="7.06" fill="none" stroke="#111" stroke-width="0.5"/>
<ellipse cx="97.7" cy="43.7" rx="1.13" ry="5.24" fill="none" stroke="#111" stroke-width="0.5"/>
<ellipse cx="97.7" cy="43.7" rx="0.74" ry="3.42" fill="none" stroke="#111" stroke-width="0.5"/>
<ellipse cx="112.70" cy="43.70" rx="7.40" ry="9.90" fill="none" stroke="#111" stroke-width="0.9"/>
<ellipse cx="112.95" cy="43.80" rx="6.55" ry="8.76" fill="none" stroke="#111" stroke-width="0.9"/>
<ellipse cx="113.20" cy="43.90" rx="5.70" ry="7.62" fill="none" stroke="#666" stroke-width="0.45"/>
<ellipse cx="113.45" cy="44.00" rx="4.85" ry="6.48" fill="none" stroke="#666" stroke-width="0.45"/>
<ellipse cx="113.70" cy="44.10" rx="4.00" ry="5.35" fill="none" stroke="#666" stroke-width="0.45"/>
<ellipse cx="113.95" cy="44.20" rx="3.14" ry="4.21" fill="none" stroke="#666" stroke-width="0.45"/>
<ellipse cx="114.20" cy="44.30" rx="2.29" ry="3.07" fill="none" stroke="#666" stroke-width="0.45"/>
<ellipse cx="114.45" cy="44.40" rx="1.44" ry="1.93" fill="none" stroke="#666" stroke-width="0.45"/>
<rect x="102.3" y="31.3" width="22.5" height="24.3" fill="none" stroke="#333" stroke-width="0.7"/>
<text x="77.40" y="89.80" font-size="11.7" text-anchor="middle" >CD45+CD3+</text>
<rect x="199.80" y="19.00" width="8.92" height="6.07" fill="rgb(140,140,140)"/>
<rect x="208.67" y="19.00" width="8.92" height="6.07" fill="rgb(140,140,140)"/>
<rect x="217.53" y="19.00" width="8.92" height="6.07" fill="rgb(191,191,191)"/>
<rect x="226.40" y="19.00" width="8.92" height="6.07" fill="rgb(230,230,230)"/>
<rect x="235.26" y="19.00" width="8.92" height="6.07" fill="rgb(250,250,250)"/>
<rect x="244.13" y="19.00" width="8.92" height="6.07" fill="rgb(178,178,178)"/>
<rect x="253.00" y="19.00" width="8.92" height="6.07" fill="rgb(242,242,242)"/>
<rect x="261.86" y="19.00" width="8.92" height="6.07" fill="rgb(250,250,250)"/>
<rect x="270.73" y="19.00" width="8.92" height="6.07" fill="rgb(102,102,102)"/>
<rect x="279.59" y="19.00" width="8.92" height="6.07" fill="rgb(250,250,250)"/>
<rect x="288.46" y="19.00" width="8.92" height="6.07" fill="rgb(230,230,230)"/>
<rect x="297.33" y="19.00" width="8.92" height="6.07" fill="rgb(204,204,204)"/>
<rect x="306.19" y="19.00" width="8.92" height="6.07" fill="rgb(242,242,242)"/>
<rect x="315.06" y="19.00" width="8.92" height="6.07" fill="rgb(230,230,230)"/>
<rect x="323.92" y="19.00" width="8.92" height="6.07" fill="rgb(178,178,178)"/>
<rect x="332.79" y="19.00" width="8.92" height="6.07" fill="rgb(250,250,250)"/>
<rect x="341.66" y="19.00" width="8.92" height="6.07" fill="rgb(242,242,242)"/>
<rect x="350.52" y="19.00" width="8.92" height="6.07" fill="rgb(250,250,250)"/>
<rect x="359.39" y="19.00" width="8.92" height="6.07" fill="rgb(250,250,250)"/>
<rect x="368.25" y="19.00" width="8.92" height="6.07" fill="rgb(38,38,38)"/>
<rect x="377.12" y="19.00" width="8.92" height="6.07" fill="rgb(250,250,250)"/>
<rect x="385.99" y="19.00" width="8.92" height="6.07" fill="rgb(250,250,250)"/>
<rect x="394.85" y="19.00" width="8.92" height="6.07" fill="rgb(242,242,242)"/>
<rect x="403.72" y="19.00" width="8.92" height="6.07" fill="rgb(242,242,242)"/>
<rect x="412.58" y="19.00" width="8.92" height="6.07" fill="rgb(242,242,242)"/>
<rect x="421.45" y="19.00" width="8.92" height="6.07" fill="rgb(217,217,217)"/>
<rect x="430.32" y="19.00" width="8.92" height="6.07" fill="rgb(102,102,102)"/>
<rect x="439.18" y="19.00" width="8.92" height="6.07" fill="rgb(230,230,230)"/>
<rect x="448.05" y="19.00" width="8.92" height="6.07" fill="rgb(242,242,242)"/>
<rect x="199.80" y="25.02" width="8.92" height="6.07" fill="rgb(115,115,115)"/>
<rect x="208.67" y="25.02" width="8.92" height="6.07" fill="rgb(140,140,140)"/>
<rect x="217.53" y="25.02" width="8.92" height="6.07" fill="rgb(0,0,0)"/>
<rect x="226.40" y="25.02" width="8.92" height="6.07" fill="rgb(250,250,250)"/>
<rect x="235.26" y="25.02" width="8.92" height="6.07" fill="rgb(250,250,250)"/>
<rect x="244.13" y="25.02" width="8.92" height="6.07" fill="rgb(230,230,230)"/>
<rect x="253.00" y="25.02" width="8.92" height="6.07" fill="rgb(250,250,250)"/>
<rect x="261.86" y="25.02" width="8.92" height="6.07" fill="rgb(0,0,0)"/>
<rect x="270.73" y="25.02" width="8.92" height="6.07" fill="rgb(250,250,250)"/>
<rect x="279.59" y="25.02" width="8.92" height="6.07" fill="rgb(250,250,250)"/>
<rect x="288.46" y="25.02" width="8.92" height="6.07" fill="rgb(217,217,217)"/>
<rect x="297.33" y="25.02" width="8.92" height="6.07" fill="rgb(128,128,128)"/>
<rect x="306.19" y="25.02" width="8.92" height="6.07" fill="rgb(204,204,204)"/>
<rect x="315.06" y="25.02" width="8.92" height="6.07" fill="rgb(217,217,217)"/>
<rect x="323.92" y="25.02" width="8.92" height="6.07" fill="rgb(242,242,242)"/>
<rect x="332.79" y="25.02" width="8.92" height="6.07" fill="rgb(178,178,178)"/>
<rect x="341.66" y="25.02" width="8.92" height="6.07" fill="rgb(250,250,250)"/>
<rect x="350.52" y="25.02" width="8.92" height="6.07" fill="rgb(250,250,250)"/>
<rect x="359.39" y="25.02" width="8.92" height="6.07" fill="rgb(250,250,250)"/>
<rect x="368.25" y="25.02" width="8.92" height="6.07" fill="rgb(230,230,230)"/>
<rect x="377.12" y="25.02" width="8.92" height="6.07" fill="rgb(250,250,250)"/>
<rect x="385.99" y="25.02" width="8.92" height="6.07" fill="rgb(250,250,250)"/>
<rect x="394.85" y="25.02" width="8.92" height="6.07" fill="rgb(250,250,250)"/>
<rect x="403.72" y="25.02" width="8.92" height="6.07" fill="rgb(166,166,166)"/>
<rect x="412.58" y="25.02" width="8.92" height="6.07" fill="rgb(250,250,250)"/>
<rect x="421.45" y="25.02" width="8.92" height="6.07" fill="rgb(250,250,250)"/>
<rect x="430.32" y="25.02" width="8.92" height="6.07" fill="rgb(250,250,250)"/>
<rect x="439.18" y="25.02" width="8.92" height="6.07" fill="rgb(250,250,250)"/>
<rect x="448.05" y="25.02" width="8.92" height="6.07" fill="rgb(250,250,250)"/>
<rect x="199.80" y="31.04" width="8.92" height="6.07" fill="rgb(115,115,115)"/>
<rect x="208.67" y="31.04" width="8.92" height="6.07" fill="rgb(204,204,204)"/>
<rect x="217.53" y="31.04" width="8.92" height="6.07" fill="rgb(0,0,0)"/>
<rect x="226.40" y="31.04" width="8.92" height="6.07" fill="rgb(250,250,250)"/>
<rect x="235.26" y="31.04" width="8.92" height="6.07" fill="rgb(242,242,242)"/>
<rect x="244.13" y="31.04" width="8.92" height="6.07" fill="rgb(191,191,191)"/>
<rect x="253.00" y="31.04" width="8.92" height="6.07" fill="rgb(89,89,89)"/>
<rect x="261.86" y="31.04" width="8.92" height="6.07" fill="rgb(0,0,0)"/>
<rect x="270.73" y="31.04" width="8.92" height="6.07" fill="rgb(250,250,250)"/>
<rect x="279.59" y="31.04" width="8.92" height="6.07" fill="rgb(250,250,250)"/>
<rect x="288.46" y="31.04" width="8.92" height="6.07" fill="rgb(115,115,115)"/>
<rect x="297.33" y="31.04" width="8.92" height="6.07" fill="rgb(250,250,250)"/>
<rect x="306.19" y="31.04" width="8.92" height="6.07" fill="rgb(250,250,250)"/>
<rect x="315.06" y="31.04" width="8.92" height="6.07" fill="rgb(217,217,217)"/>
<rect x="323.92" y="31.04" width="8.92" height="6.07" fill="rgb(242,242,242)"/>
<rect x="332.79" y="31.04" width="8.92" height="6.07" fill="rgb(230,230,230)"/>
<rect x="341.66" y="31.04" width="8.92" height="6.07" fill="rgb(250,250,250)"/>
<rect x="350.52" y="31.04" width="8.92" height="6.07" fill="rgb(250,250,250)"/>
<rect x="359.39" y="31.04" width="8.92" height="6.07" fill="rgb(250,250,250)"/>
<rect x="368.25" y="31.04" width="8.92" height="6.07" fill="rgb(242,242,242)"/>
<rect x="377.12" y="31.04" width="8.92" height="6.07" fill="rgb(250,250,250)"/>
<rect x="385.99" y="31.04" width="8.92" height="6.07" fill="rgb(250,250,250)"/>
<rect x="394.85" y="31.04" width="8.92" height="6.07" fill="rgb(250,250,250)"/>
<rect x="403.72" y="31.04" width="8.92" height="6.07" fill="rgb(250,250,250)"/>
<rect x="412.58" y="31.04" width="8.92" height="6.07" fill="rgb(250,250,250)"/>
<rect x="421.45" y="31.04" width="8.92" height="6.07" fill="rgb(250,250,250)"/>
<rect x="430.32" y="31.04" width="8.92" height="6.07" fill="rgb(250,250,250)"/>
<rect x="439.18" y="31.04" width="8.92" height="6.07" fill="rgb(250,250,250)"/>
<rect x="448.05" y="31.04" width="8.92" height="6.07" fill="rgb(250,250,250)"/>
<rect x="199.80" y="37.06" width="8.92" height="6.07" fill="rgb(115,115,115)"/>
<rect x="208.67" y="37.06" width="8.92" height="6.07" fill="rgb(204,204,204)"/>
<rect x="217.53" y="37.06" width="8.92" height="6.07" fill="rgb(0,0,0)"/>
<rect x="226.40" y="37.06" width="8.92" height="6.07" fill="rgb(250,250,250)"/>
<rect x="235.26" y="37.06" width="8.92" height="6.07" fill="rgb(235,235,235)"/>
<rect x="244.13" y="37.06" width="8.92" height="6.07" fill="rgb(25,25,25)"/>
<rect x="253.00" y="37.06" width="8.92" height="6.07" fill="rgb(250,250,250)"/>
<rect x="261.86" y="37.06" width="8.92" height="6.07" fill="rgb(13,13,13)"/>
<rect x="270.73" y="37.06" width="8.92" height="6.07" fill="rgb(250,250,250)"/>
<rect x="279.59" y="37.06" width="8.92" height="6.07" fill="rgb(250,250,250)"/>
<rect x="288.46" y="37.06" width="8.92" height="6.07" fill="rgb(51,51,51)"/>
<rect x="297.33" y="37.06" width="8.92" height="6.07" fill="rgb(250,250,250)"/>
<rect x="306.19" y="37.06" width="8.92" height="6.07" fill="rgb(250,250,250)"/>
<rect x="315.06" y="37.06" width="8.92" height="6.07" fill="rgb(217,217,217)"/>
<rect x="323.92" y="37.06" width="8.92" height="6.07" fill="rgb(242,242,242)"/>
<rect x="332.79" y="37.06" width="8.92" height="6.07" fill="rgb(230,230,230)"/>
<rect x="341.66" y="37.06" width="8.92" height="6.07" fill="rgb(250,250,250)"/>
<rect x="350.52" y="37.06" width="8.92" height="6.07" fill="rgb(250,250,250)"/>
<rect x="359.39" y="37.06" width="8.92" height="6.07" fill="rgb(250,250,250)"/>
<rect x="368.25" y="37.06" width="8.92" height="6.07" fill="rgb(250,250,250)"/>
<rect x="377.12" y="37.06" width="8.92" height="6.07" fill="rgb(250,250,250)"/>
<rect x="385.99" y="37.06" width="8.92" height="6.07" fill="rgb(230,230,230)"/>
<rect x="394.85" y="37.06" width="8.92" height="6.07" fill="rgb(250,250,250)"/>
<rect x="403.72" y="37.06" width="8.92" height="6.07" fill="rgb(250,250,250)"/>
<rect x="412.58" y="37.06" width="8.92" height="6.07" fill="rgb(250,250,250)"/>
<rect x="421.45" y="37.06" width="8.92" height="6.07" fill="rgb(178,178,178)"/>
<rect x="430.32" y="37.06" width="8.92" height="6.07" fill="rgb(250,250,250)"/>
<rect x="439.18" y="37.06" width="8.92" height="6.07" fill="rgb(250,250,250)"/>
<rect x="448.05" y="37.06" width="8.92" height="6.07" fill="rgb(250,250,250)"/>
<rect x="199.80" y="43.08" width="8.92" height="6.07" fill="rgb(128,128,128)"/>
<rect x="208.67" y="43.08" width="8.92" height="6.07" fill="rgb(153,153,153)"/>
<rect x="217.53" y="43.08" width="8.92" height="6.07" fill="rgb(64,64,64)"/>
<rect x="226.40" y="43.08" width="8.92" height="6.07" fill="rgb(38,38,38)"/>
<rect x="235.26" y="43.08" width="8.92" height="6.07" fill="rgb(250,250,250)"/>
<rect x="244.13" y="43.08" width="8.92" height="6.07" fill="rgb(115,115,115)"/>
<rect x="253.00" y="43.08" width="8.92" height="6.07" fill="rgb(250,250,250)"/>
<rect x="261.86" y="43.08" width="8.92" height="6.07" fill="rgb(250,250,250)"/>
<rect x="270.73" y="43.08" width="8.92" height="6.07" fill="rgb(250,250,250)"/>
<rect x="279.59" y="43.08" width="8.92" height="6.07" fill="rgb(250,250,250)"/>
<rect x="288.46" y="43.08" width="8.92" height="6.07" fill="rgb(250,250,250)"/>
<rect x="297.33" y="43.08" width="8.92" height="6.07" fill="rgb(250,250,250)"/>
<rect x="306.19" y="43.08" width="8.92" height="6.07" fill="rgb(13,13,13)"/>
<rect x="315.06" y="43.08" width="8.92" height="6.07" fill="rgb(217,217,217)"/>
<rect x="323.92" y="43.08" width="8.92" height="6.07" fill="rgb(153,153,153)"/>
<rect x="332.79" y="43.08" width="8.92" height="6.07" fill="rgb(250,250,250)"/>
<rect x="341.66" y="43.08" width="8.92" height="6.07" fill="rgb(250,250,250)"/>
<rect x="350.52" y="43.08" width="8.92" height="6.07" fill="rgb(250,250,250)"/>
<rect x="359.39" y="43.08" width="8.92" height="6.07" fill="rgb(250,250,250)"/>
<rect x="368.25" y="43.08" width="8.92" height="6.07" fill="rgb(250,250,250)"/>
<rect x="377.12" y="43.08" width="8.92" height="6.07" fill="rgb(242,242,242)"/>
<rect x="385.99" y="43.08" width="8.92" height="6.07" fill="rgb(250,250,250)"/>
<rect x="394.85" y="43.08" width="8.92" height="6.07" fill="rgb(250,250,250)"/>
<rect x="403.72" y="43.08" width="8.92" height="6.07" fill="rgb(140,140,140)"/>
<rect x="412.58" y="43.08" width="8.92" height="6.07" fill="rgb(217,217,217)"/>
<rect x="421.45" y="43.08" width="8.92" height="6.07" fill="rgb(0,0,0)"/>
<rect x="430.32" y="43.08" width="8.92" height="6.07" fill="rgb(0,0,0)"/>
<rect x="439.18" y="43.08" width="8.92" height="6.07" fill="rgb(217,217,217)"/>
<rect x="448.05" y="43.08" width="8.92" height="6.07" fill="rgb(250,250,250)"/>
<rect x="199.80" y="49.10" width="8.92" height="6.07" fill="rgb(128,128,128)"/>
<rect x="208.67" y="49.10" width="8.92" height="6.07" fill="rgb(128,128,128)"/>
<rect x="217.53" y="49.10" width="8.92" height="6.07" fill="rgb(102,102,102)"/>
<rect x="226.40" y="49.10" width="8.92" height="6.07" fill="rgb(0,0,0)"/>
<rect x="235.26" y="49.10" width="8.92" height="6.07" fill="rgb(250,250,250)"/>
<rect x="244.13" y="49.10" width="8.92" height="6.07" fill="rgb(242,242,242)"/>
<rect x="253.00" y="49.10" width="8.92" height="6.07" fill="rgb(250,250,250)"/>
<rect x="261.86" y="49.10" width="8.92" height="6.07" fill="rgb(250,250,250)"/>
<rect x="270.73" y="49.10" width="8.92" height="6.07" fill="rgb(250,250,250)"/>
<rect x="279.59" y="49.10" width="8.92" height="6.07" fill="rgb(250,250,250)"/>
<rect x="288.46" y="49.10" width="8.92" height="6.07" fill="rgb(178,178,178)"/>
<rect x="297.33" y="49.10" width="8.92" height="6.07" fill="rgb(178,178,178)"/>
<rect x="306.19" y="49.10" width="8.92" height="6.07" fill="rgb(250,250,250)"/>
<rect x="315.06" y="49.10" width="8.92" height="6.07" fill="rgb(230,230,230)"/>
<rect x="323.92" y="49.10" width="8.92" height="6.07" fill="rgb(250,250,250)"/>
<rect x="332.79" y="49.10" width="8.92" height="6.07" fill="rgb(250,250,250)"/>
<rect x="341.66" y="49.10" width="8.92" height="6.07" fill="rgb(250,250,250)"/>
<rect x="350.52" y="49.10" width="8.92" height="6.07" fill="rgb(250,250,250)"/>
<rect x="359.39" y="49.10" width="8.92" height="6.07" fill="rgb(250,250,250)"/>
<rect x="368.25" y="49.10" width="8.92" height="6.07" fill="rgb(250,250,250)"/>
<rect x="377.12" y="49.10" width="8.92" height="6.07" fill="rgb(242,242,242)"/>
<rect x="385.99" y="49.10" width="8.92" height="6.07" fill="rgb(250,250,250)"/>
<rect x="394.85" y="49.10" width="8.92" height="6.07" fill="rgb(250,250,250)"/>
<rect x="403.72" y="49.10" width="8.92" height="6.07" fill="rgb(191,191,191)"/>
<rect x="412.58" y="49.10" width="8.92" height="6.07" fill="rgb(217,217,217)"/>
<rect x="421.45" y="49.10" width="8.92" height="6.07" fill="rgb(250,250,250)"/>
<rect x="430.32" y="49.10" width="8.92" height="6.07" fill="rgb(250,250,250)"/>
<rect x="439.18" y="49.10" width="8.92" height="6.07" fill="rgb(250,250,250)"/>
<rect x="448.05" y="49.10" width="8.92" height="6.07" fill="rgb(250,250,250)"/>
<rect x="199.80" y="55.12" width="8.92" height="6.07" fill="rgb(115,115,115)"/>
<rect x="208.67" y="55.12" width="8.92" height="6.07" fill="rgb(115,115,115)"/>
<rect x="217.53" y="55.12" width="8.92" height="6.07" fill="rgb(89,89,89)"/>
<rect x="226.40" y="55.12" width="8.92" height="6.07" fill="rgb(0,0,0)"/>
<rect x="235.26" y="55.12" width="8.92" height="6.07" fill="rgb(250,250,250)"/>
<rect x="244.13" y="55.12" width="8.92" height="6.07" fill="rgb(230,230,230)"/>
<rect x="253.00" y="55.12" width="8.92" height="6.07" fill="rgb(250,250,250)"/>
<rect x="261.86" y="55.12" width="8.92" height="6.07" fill="rgb(250,250,250)"/>
<rect x="270.73" y="55.12" width="8.92" height="6.07" fill="rgb(250,250,250)"/>
<rect x="279.59" y="55.12" width="8.92" height="6.07" fill="rgb(250,250,250)"/>
<rect x="288.46" y="55.12" width="8.92" height="6.07" fill="rgb(250,250,250)"/>
<rect x="297.33" y="55.12" width="8.92" height="6.07" fill="rgb(250,250,250)"/>
<rect x="306.19" y="55.12" width="8.92" height="6.07" fill="rgb(38,38,38)"/>
<rect x="315.06" y="55.12" width="8.92" height="6.07" fill="rgb(217,217,217)"/>
<rect x="323.92" y="55.12" width="8.92" height="6.07" fill="rgb(230,230,230)"/>
<rect x="332.79" y="55.12" width="8.92" height="6.07" fill="rgb(250,250,250)"/>
<rect x="341.66" y="55.12" width="8.92" height="6.07" fill="rgb(250,250,250)"/>
<rect x="350.52" y="55.12" width="8.92" height="6.07" fill="rgb(250,250,250)"/>
<rect x="359.39" y="55.12" width="8.92" height="6.07" fill="rgb(250,250,250)"/>
<rect x="368.25" y="55.12" width="8.92" height="6.07" fill="rgb(250,250,250)"/>
<rect x="377.12" y="55.12" width="8.92" height="6.07" fill="rgb(178,178,178)"/>
<rect x="385.99" y="55.12" width="8.92" height="6.07" fill="rgb(250,250,250)"/>
<rect x="394.85" y="55.12" width="8.92" height="6.07" fill="rgb(250,250,250)"/>
<rect x="403.72" y="55.12" width="8.92" height="6.07" fill="rgb(140,140,140)"/>
<rect x="412.58" y="55.12" width="8.92" height="6.07" fill="rgb(250,250,250)"/>
<rect x="421.45" y="55.12" width="8.92" height="6.07" fill="rgb(250,250,250)"/>
<rect x="430.32" y="55.12" width="8.92" height="6.07" fill="rgb(77,77,77)"/>
<rect x="439.18" y="55.12" width="8.92" height="6.07" fill="rgb(242,242,242)"/>
<rect x="448.05" y="55.12" width="8.92" height="6.07" fill="rgb(250,250,250)"/>
<rect x="199.80" y="61.14" width="8.92" height="6.07" fill="rgb(128,128,128)"/>
<rect x="208.67" y="61.14" width="8.92" height="6.07" fill="rgb(115,115,115)"/>
<rect x="217.53" y="61.14" width="8.92" height="6.07" fill="rgb(115,115,115)"/>
<rect x="226.40" y="61.14" width="8.92" height="6.07" fill="rgb(0,0,0)"/>
<rect x="235.26" y="61.14" width="8.92" height="6.07" fill="rgb(250,250,250)"/>
<rect x="244.13" y="61.14" width="8.92" height="6.07" fill="rgb(235,235,235)"/>
<rect x="253.00" y="61.14" width="8.92" height="6.07" fill="rgb(250,250,250)"/>
<rect x="261.86" y="61.14" width="8.92" height="6.07" fill="rgb(250,250,250)"/>
<rect x="270.73" y="61.14" width="8.92" height="6.07" fill="rgb(250,250,250)"/>
<rect x="279.59" y="61.14" width="8.92" height="6.07" fill="rgb(250,250,250)"/>
<rect x="288.46" y="61.14" width="8.92" height="6.07" fill="rgb(250,250,250)"/>
<rect x="297.33" y="61.14" width="8.92" height="6.07" fill="rgb(250,250,250)"/>
<rect x="306.19" y="61.14" width="8.92" height="6.07" fill="rgb(250,250,250)"/>
<rect x="315.06" y="61.14" width="8.92" height="6.07" fill="rgb(217,217,217)"/>
<rect x="323.92" y="61.14" width="8.92" height="6.07" fill="rgb(242,242,242)"/>
<rect x="332.79" y="61.14" width="8.92" height="6.07" fill="rgb(250,250,250)"/>
<rect x="341.66" y="61.14" width="8.92" height="6.07" fill="rgb(250,250,250)"/>
<rect x="350.52" y="61.14" width="8.92" height="6.07" fill="rgb(250,250,250)"/>
<rect x="359.39" y="61.14" width="8.92" height="6.07" fill="rgb(250,250,250)"/>
<rect x="368.25" y="61.14" width="8.92" height="6.07" fill="rgb(250,250,250)"/>
<rect x="377.12" y="61.14" width="8.92" height="6.07" fill="rgb(242,242,242)"/>
<rect x="385.99" y="61.14" width="8.92" height="6.07" fill="rgb(250,250,250)"/>
<rect x="394.85" y="61.14" width="8.92" height="6.07" fill="rgb(250,250,250)"/>
<rect x="403.72" y="61.14" width="8.92" height="6.07" fill="rgb(51,51,51)"/>
<rect x="412.58" y="61.14" width="8.92" height="6.07" fill="rgb(250,250,250)"/>
<rect x="421.45" y="61.14" width="8.92" height="6.07" fill="rgb(250,250,250)"/>
<rect x="430.32" y="61.14" width="8.92" height="6.07" fill="rgb(128,128,128)"/>
<rect x="439.18" y="61.14" width="8.92" height="6.07" fill="rgb(242,242,242)"/>
<rect x="448.05" y="61.14" width="8.92" height="6.07" fill="rgb(250,250,250)"/>
<rect x="199.80" y="67.16" width="8.92" height="6.07" fill="rgb(102,102,102)"/>
<rect x="208.67" y="67.16" width="8.92" height="6.07" fill="rgb(115,115,115)"/>
<rect x="217.53" y="67.16" width="8.92" height="6.07" fill="rgb(89,89,89)"/>
<rect x="226.40" y="67.16" width="8.92" height="6.07" fill="rgb(25,25,25)"/>
<rect x="235.26" y="67.16" width="8.92" height="6.07" fill="rgb(25,25,25)"/>
<rect x="244.13" y="67.16" width="8.92" height="6.07" fill="rgb(153,153,153)"/>
<rect x="253.00" y="67.16" width="8.92" height="6.07" fill="rgb(250,250,250)"/>
<rect x="261.86" y="67.16" width="8.92" height="6.07" fill="rgb(250,250,250)"/>
<rect x="270.73" y="67.16" width="8.92" height="6.07" fill="rgb(250,250,250)"/>
<rect x="279.59" y="67.16" width="8.92" height="6.07" fill="rgb(250,250,250)"/>
<rect x="288.46" y="67.16" width="8.92" height="6.07" fill="rgb(178,178,178)"/>
<rect x="297.33" y="67.16" width="8.92" height="6.07" fill="rgb(250,250,250)"/>
<rect x="306.19" y="67.16" width="8.92" height="6.07" fill="rgb(64,64,64)"/>
<rect x="315.06" y="67.16" width="8.92" height="6.07" fill="rgb(217,217,217)"/>
<rect x="323.92" y="67.16" width="8.92" height="6.07" fill="rgb(230,230,230)"/>
<rect x="332.79" y="67.16" width="8.92" height="6.07" fill="rgb(250,250,250)"/>
<rect x="341.66" y="67.16" width="8.92" height="6.07" fill="rgb(250,250,250)"/>
<rect x="350.52" y="67.16" width="8.92" height="6.07" fill="rgb(250,250,250)"/>
<rect x="359.39" y="67.16" width="8.92" height="6.07" fill="rgb(250,250,250)"/>
<rect x="368.25" y="67.16" width="8.92" height="6.07" fill="rgb(250,250,250)"/>
<rect x="377.12" y="67.16" width="8.92" height="6.07" fill="rgb(242,242,242)"/>
<rect x="385.99" y="67.16" width="8.92" height="6.07" fill="rgb(250,250,250)"/>
<rect x="394.85" y="67.16" width="8.92" height="6.07" fill="rgb(250,250,250)"/>
<rect x="403.72" y="67.16" width="8.92" height="6.07" fill="rgb(115,115,115)"/>
<rect x="412.58" y="67.16" width="8.92" height="6.07" fill="rgb(250,250,250)"/>
<rect x="421.45" y="67.16" width="8.92" height="6.07" fill="rgb(217,217,217)"/>
<rect x="430.32" y="67.16" width="8.92" height="6.07" fill="rgb(250,250,250)"/>
<rect x="439.18" y="67.16" width="8.92" height="6.07" fill="rgb(250,250,250)"/>
<rect x="448.05" y="67.16" width="8.92" height="6.07" fill="rgb(250,250,250)"/>
<rect x="199.80" y="73.18" width="8.92" height="6.07" fill="rgb(128,128,128)"/>
<rect x="208.67" y="73.18" width="8.92" height="6.07" fill="rgb(115,115,115)"/>
<rect x="217.53" y="73.18" width="8.92" height="6.07" fill="rgb(77,77,77)"/>
<rect x="226.40" y="73.18" width="8.92" height="6.07" fill="rgb(0,0,0)"/>
<rect x="235.26" y="73.18" width="8.92" height="6.07" fill="rgb(250,250,250)"/>
<rect x="244.13" y="73.18" width="8.92" height="6.07" fill="rgb(166,166,166)"/>
<rect x="253.00" y="73.18" width="8.92" height="6.07" fill="rgb(250,250,250)"/>
<rect x="261.86" y="73.18" width="8.92" height="6.07" fill="rgb(250,250,250)"/>
<rect x="270.73" y="73.18" width="8.92" height="6.07" fill="rgb(250,250,250)"/>
<rect x="279.59" y="73.18" width="8.92" height="6.07" fill="rgb(166,166,166)"/>
<rect x="288.46" y="73.18" width="8.92" height="6.07" fill="rgb(250,250,250)"/>
<rect x="297.33" y="73.18" width="8.92" height="6.07" fill="rgb(250,250,250)"/>
<rect x="306.19" y="73.18" width="8.92" height="6.07" fill="rgb(0,0,0)"/>
<rect x="315.06" y="73.18" width="8.92" height="6.07" fill="rgb(217,217,217)"/>
<rect x="323.92" y="73.18" width="8.92" height="6.07" fill="rgb(140,140,140)"/>
<rect x="332.79" y="73.18" width="8.92" height="6.07" fill="rgb(250,250,250)"/>
<rect x="341.66" y="73.18" width="8.92" height="6.07" fill="rgb(250,250,250)"/>
<rect x="350.52" y="73.18" width="8.92" height="6.07" fill="rgb(250,250,250)"/>
<rect x="359.39" y="73.18" width="8.92" height="6.07" fill="rgb(250,250,250)"/>
<rect x="368.25" y="73.18" width="8.92" height="6.07" fill="rgb(250,250,250)"/>
<rect x="377.12" y="73.18" width="8.92" height="6.07" fill="rgb(242,242,242)"/>
<rect x="385.99" y="73.18" width="8.92" height="6.07" fill="rgb(250,250,250)"/>
<rect x="394.85" y="73.18" width="8.92" height="6.07" fill="rgb(250,250,250)"/>
<rect x="403.72" y="73.18" width="8.92" height="6.07" fill="rgb(166,166,166)"/>
<rect x="412.58" y="73.18" width="8.92" height="6.07" fill="rgb(250,250,250)"/>
<rect x="421.45" y="73.18" width="8.92" height="6.07" fill="rgb(217,217,217)"/>
<rect x="430.32" y="73.18" width="8.92" height="6.07" fill="rgb(250,250,250)"/>
<rect x="439.18" y="73.18" width="8.92" height="6.07" fill="rgb(250,250,250)"/>
<rect x="448.05" y="73.18" width="8.92" height="6.07" fill="rgb(250,250,250)"/>
<rect x="199.80" y="79.20" width="8.92" height="6.07" fill="rgb(128,128,128)"/>
<rect x="208.67" y="79.20" width="8.92" height="6.07" fill="rgb(102,102,102)"/>
<rect x="217.53" y="79.20" width="8.92" height="6.07" fill="rgb(38,38,38)"/>
<rect x="226.40" y="79.20" width="8.92" height="6.07" fill="rgb(0,0,0)"/>
<rect x="235.26" y="79.20" width="8.92" height="6.07" fill="rgb(250,250,250)"/>
<rect x="244.13" y="79.20" width="8.92" height="6.07" fill="rgb(140,140,140)"/>
<rect x="253.00" y="79.20" width="8.92" height="6.07" fill="rgb(250,250,250)"/>
<rect x="261.86" y="79.20" width="8.92" height="6.07" fill="rgb(250,250,250)"/>
<rect x="270.73" y="79.20" width="8.92" height="6.07" fill="rgb(250,250,250)"/>
<rect x="279.59" y="79.20" width="8.92" height="6.07" fill="rgb(250,250,250)"/>
<rect x="288.46" y="79.20" width="8.92" height="6.07" fill="rgb(250,250,250)"/>
<rect x="297.33" y="79.20" width="8.92" height="6.07" fill="rgb(250,250,250)"/>
<rect x="306.19" y="79.20" width="8.92" height="6.07" fill="rgb(0,0,0)"/>
<rect x="315.06" y="79.20" width="8.92" height="6.07" fill="rgb(217,217,217)"/>
<rect x="323.92" y="79.20" width="8.92" height="6.07" fill="rgb(77,77,77)"/>
<rect x="332.79" y="79.20" width="8.92" height="6.07" fill="rgb(250,250,250)"/>
<rect x="341.66" y="79.20" width="8.92" height="6.07" fill="rgb(250,250,250)"/>
<rect x="350.52" y="79.20" width="8.92" height="6.07" fill="rgb(250,250,250)"/>
<rect x="359.39" y="79.20" width="8.92" height="6.07" fill="rgb(250,250,250)"/>
<rect x="368.25" y="79.20" width="8.92" height="6.07" fill="rgb(250,250,250)"/>
<rect x="377.12" y="79.20" width="8.92" height="6.07" fill="rgb(242,242,242)"/>
<rect x="385.99" y="79.20" width="8.92" height="6.07" fill="rgb(250,250,250)"/>
<rect x="394.85" y="79.20" width="8.92" height="6.07" fill="rgb(250,250,250)"/>
<rect x="403.72" y="79.20" width="8.92" height="6.07" fill="rgb(89,89,89)"/>
<rect x="412.58" y="79.20" width="8.92" height="6.07" fill="rgb(250,250,250)"/>
<rect x="421.45" y="79.20" width="8.92" height="6.07" fill="rgb(166,166,166)"/>
<rect x="430.32" y="79.20" width="8.92" height="6.07" fill="rgb(250,250,250)"/>
<rect x="439.18" y="79.20" width="8.92" height="6.07" fill="rgb(250,250,250)"/>
<rect x="448.05" y="79.20" width="8.92" height="6.07" fill="rgb(250,250,250)"/>
<rect x="199.80" y="85.22" width="8.92" height="6.07" fill="rgb(115,115,115)"/>
<rect x="208.67" y="85.22" width="8.92" height="6.07" fill="rgb(102,102,102)"/>
<rect x="217.53" y="85.22" width="8.92" height="6.07" fill="rgb(38,38,38)"/>
<rect x="226.40" y="85.22" width="8.92" height="6.07" fill="rgb(0,0,0)"/>
<rect x="235.26" y="85.22" width="8.92" height="6.07" fill="rgb(250,250,250)"/>
<rect x="244.13" y="85.22" width="8.92" height="6.07" fill="rgb(166,166,166)"/>
<rect x="253.00" y="85.22" width="8.92" height="6.07" fill="rgb(250,250,250)"/>
<rect x="261.86" y="85.22" width="8.92" height="6.07" fill="rgb(250,250,250)"/>
<rect x="270.73" y="85.22" width="8.92" height="6.07" fill="rgb(250,250,250)"/>
<rect x="279.59" y="85.22" width="8.92" height="6.07" fill="rgb(250,250,250)"/>
<rect x="288.46" y="85.22" width="8.92" height="6.07" fill="rgb(178,178,178)"/>
<rect x="297.33" y="85.22" width="8.92" height="6.07" fill="rgb(250,250,250)"/>
<rect x="306.19" y="85.22" width="8.92" height="6.07" fill="rgb(0,0,0)"/>
<rect x="315.06" y="85.22" width="8.92" height="6.07" fill="rgb(230,230,230)"/>
<rect x="323.92" y="85.22" width="8.92" height="6.07" fill="rgb(64,64,64)"/>
<rect x="332.79" y="85.22" width="8.92" height="6.07" fill="rgb(250,250,250)"/>
<rect x="341.66" y="85.22" width="8.92" height="6.07" fill="rgb(250,250,250)"/>
<rect x="350.52" y="85.22" width="8.92" height="6.07" fill="rgb(250,250,250)"/>
<rect x="359.39" y="85.22" width="8.92" height="6.07" fill="rgb(250,250,250)"/>
<rect x="368.25" y="85.22" width="8.92" height="6.07" fill="rgb(250,250,250)"/>
<rect x="377.12" y="85.22" width="8.92" height="6.07" fill="rgb(242,242,242)"/>
<rect x="385.99" y="85.22" width="8.92" height="6.07" fill="rgb(250,250,250)"/>
<rect x="394.85" y="85.22" width="8.92" height="6.07" fill="rgb(250,250,250)"/>
<rect x="403.72" y="85.22" width="8.92" height="6.07" fill="rgb(77,77,77)"/>
<rect x="412.58" y="85.22" width="8.92" height="6.07" fill="rgb(250,250,250)"/>
<rect x="421.45" y="85.22" width="8.92" height="6.07" fill="rgb(204,204,204)"/>
<rect x="430.32" y="85.22" width="8.92" height="6.07" fill="rgb(250,250,250)"/>
<rect x="439.18" y="85.22" width="8.92" height="6.07" fill="rgb(250,250,250)"/>
<rect x="448.05" y="85.22" width="8.92" height="6.07" fill="rgb(250,250,250)"/>
<rect x="199.80" y="91.24" width="8.92" height="6.07" fill="rgb(102,102,102)"/>
<rect x="208.67" y="91.24" width="8.92" height="6.07" fill="rgb(102,102,102)"/>
<rect x="217.53" y="91.24" width="8.92" height="6.07" fill="rgb(77,77,77)"/>
<rect x="226.40" y="91.24" width="8.92" height="6.07" fill="rgb(0,0,0)"/>
<rect x="235.26" y="91.24" width="8.92" height="6.07" fill="rgb(250,250,250)"/>
<rect x="244.13" y="91.24" width="8.92" height="6.07" fill="rgb(230,230,230)"/>
<rect x="253.00" y="91.24" width="8.92" height="6.07" fill="rgb(250,250,250)"/>
<rect x="261.86" y="91.24" width="8.92" height="6.07" fill="rgb(250,250,250)"/>
<rect x="270.73" y="91.24" width="8.92" height="6.07" fill="rgb(250,250,250)"/>
<rect x="279.59" y="91.24" width="8.92" height="6.07" fill="rgb(250,250,250)"/>
<rect x="288.46" y="91.24" width="8.92" height="6.07" fill="rgb(250,250,250)"/>
<rect x="297.33" y="91.24" width="8.92" height="6.07" fill="rgb(250,250,250)"/>
<rect x="306.19" y="91.24" width="8.92" height="6.07" fill="rgb(0,0,0)"/>
<rect x="315.06" y="91.24" width="8.92" height="6.07" fill="rgb(217,217,217)"/>
<rect x="323.92" y="91.24" width="8.92" height="6.07" fill="rgb(140,140,140)"/>
<rect x="332.79" y="91.24" width="8.92" height="6.07" fill="rgb(250,250,250)"/>
<rect x="341.66" y="91.24" width="8.92" height="6.07" fill="rgb(250,250,250)"/>
<rect x="350.52" y="91.24" width="8.92" height="6.07" fill="rgb(250,250,250)"/>
<rect x="359.39" y="91.24" width="8.92" height="6.07" fill="rgb(115,115,115)"/>
<rect x="368.25" y="91.24" width="8.92" height="6.07" fill="rgb(250,250,250)"/>
<rect x="377.12" y="91.24" width="8.92" height="6.07" fill="rgb(217,217,217)"/>
<rect x="385.99" y="91.24" width="8.92" height="6.07" fill="rgb(250,250,250)"/>
<rect x="394.85" y="91.24" width="8.92" height="6.07" fill="rgb(250,250,250)"/>
<rect x="403.72" y="91.24" width="8.92" height="6.07" fill="rgb(51,51,51)"/>
<rect x="412.58" y="91.24" width="8.92" height="6.07" fill="rgb(250,250,250)"/>
<rect x="421.45" y="91.24" width="8.92" height="6.07" fill="rgb(230,230,230)"/>
<rect x="430.32" y="91.24" width="8.92" height="6.07" fill="rgb(242,242,242)"/>
<rect x="439.18" y="91.24" width="8.92" height="6.07" fill="rgb(250,250,250)"/>
<rect x="448.05" y="91.24" width="8.92" height="6.07" fill="rgb(250,250,250)"/>
<rect x="199.80" y="97.26" width="8.92" height="6.07" fill="rgb(102,102,102)"/>
<rect x="208.67" y="97.26" width="8.92" height="6.07" fill="rgb(102,102,102)"/>
<rect x="217.53" y="97.26" width="8.92" height="6.07" fill="rgb(77,77,77)"/>
<rect x="226.40" y="97.26" width="8.92" height="6.07" fill="rgb(0,0,0)"/>
<rect x="235.26" y="97.26" width="8.92" height="6.07" fill="rgb(250,250,250)"/>
<rect x="244.13" y="97.26" width="8.92" height="6.07" fill="rgb(230,230,230)"/>
<rect x="253.00" y="97.26" width="8.92" height="6.07" fill="rgb(250,250,250)"/>
<rect x="261.86" y="97.26" width="8.92" height="6.07" fill="rgb(250,250,250)"/>
<rect x="270.73" y="97.26" width="8.92" height="6.07" fill="rgb(250,250,250)"/>
<rect x="279.59" y="97.26" width="8.92" height="6.07" fill="rgb(250,250,250)"/>
<rect x="288.46" y="97.26" width="8.92" height="6.07" fill="rgb(250,250,250)"/>
<rect x="297.33" y="97.26" width="8.92" height="6.07" fill="rgb(250,250,250)"/>
<rect x="306.19" y="97.26" width="8.92" height="6.07" fill="rgb(64,64,64)"/>
<rect x="315.06" y="97.26" width="8.92" height="6.07" fill="rgb(217,217,217)"/>
<rect x="323.92" y="97.26" width="8.92" height="6.07" fill="rgb(230,230,230)"/>
<rect x="332.79" y="97.26" width="8.92" height="6.07" fill="rgb(250,250,250)"/>
<rect x="341.66" y="97.26" width="8.92" height="6.07" fill="rgb(250,250,250)"/>
<rect x="350.52" y="97.26" width="8.92" height="6.07" fill="rgb(250,250,250)"/>
<rect x="359.39" y="97.26" width="8.92" height="6.07" fill="rgb(250,250,250)"/>
<rect x="368.25" y="97.26" width="8.92" height="6.07" fill="rgb(166,166,166)"/>
<rect x="377.12" y="97.26" width="8.92" height="6.07" fill="rgb(230,230,230)"/>
<rect x="385.99" y="97.26" width="8.92" height="6.07" fill="rgb(250,250,250)"/>
<rect x="394.85" y="97.26" width="8.92" height="6.07" fill="rgb(250,250,250)"/>
<rect x="403.72" y="97.26" width="8.92" height="6.07" fill="rgb(38,38,38)"/>
<rect x="412.58" y="97.26" width="8.92" height="6.07" fill="rgb(230,230,230)"/>
<rect x="421.45" y="97.26" width="8.92" height="6.07" fill="rgb(250,250,250)"/>
<rect x="430.32" y="97.26" width="8.92" height="6.07" fill="rgb(250,250,250)"/>
<rect x="439.18" y="97.26" width="8.92" height="6.07" fill="rgb(250,250,250)"/>
<rect x="448.05" y="97.26" width="8.92" height="6.07" fill="rgb(250,250,250)"/>
<rect x="199.80" y="103.28" width="8.92" height="6.07" fill="rgb(128,128,128)"/>
<rect x="208.67" y="103.28" width="8.92" height="6.07" fill="rgb(128,128,128)"/>
<rect x="217.53" y="103.28" width="8.92" height="6.07" fill="rgb(102,102,102)"/>
<rect x="226.40" y="103.28" width="8.92" height="6.07" fill="rgb(250,250,250)"/>
<rect x="235.26" y="103.28" width="8.92" height="6.07" fill="rgb(77,77,77)"/>
<rect x="244.13" y="103.28" width="8.92" height="6.07" fill="rgb(230,230,230)"/>
<rect x="253.00" y="103.28" width="8.92" height="6.07" fill="rgb(230,230,230)"/>
<rect x="261.86" y="103.28" width="8.92" height="6.07" fill="rgb(250,250,250)"/>
<rect x="270.73" y="103.28" width="8.92" height="6.07" fill="rgb(230,230,230)"/>
<rect x="279.59" y="103.28" width="8.92" height="6.07" fill="rgb(250,250,250)"/>
<rect x="288.46" y="103.28" width="8.92" height="6.07" fill="rgb(250,250,250)"/>
<rect x="297.33" y="103.28" width="8.92" height="6.07" fill="rgb(0,0,0)"/>
<rect x="306.19" y="103.28" width="8.92" height="6.07" fill="rgb(115,115,115)"/>
<rect x="315.06" y="103.28" width="8.92" height="6.07" fill="rgb(217,217,217)"/>
<rect x="323.92" y="103.28" width="8.92" height="6.07" fill="rgb(250,250,250)"/>
<rect x="332.79" y="103.28" width="8.92" height="6.07" fill="rgb(13,13,13)"/>
<rect x="341.66" y="103.28" width="8.92" height="6.07" fill="rgb(250,250,250)"/>
<rect x="350.52" y="103.28" width="8.92" height="6.07" fill="rgb(250,250,250)"/>
<rect x="359.39" y="103.28" width="8.92" height="6.07" fill="rgb(250,250,250)"/>
<rect x="368.25" y="103.28" width="8.92" height="6.07" fill="rgb(250,250,250)"/>
<rect x="377.12" y="103.28" width="8.92" height="6.07" fill="rgb(250,250,250)"/>
<rect x="385.99" y="103.28" width="8.92" height="6.07" fill="rgb(242,242,242)"/>
<rect x="394.85" y="103.28" width="8.92" height="6.07" fill="rgb(250,250,250)"/>
<rect x="403.72" y="103.28" width="8.92" height="6.07" fill="rgb(25,25,25)"/>
<rect x="412.58" y="103.28" width="8.92" height="6.07" fill="rgb(250,250,250)"/>
<rect x="421.45" y="103.28" width="8.92" height="6.07" fill="rgb(250,250,250)"/>
<rect x="430.32" y="103.28" width="8.92" height="6.07" fill="rgb(250,250,250)"/>
<rect x="439.18" y="103.28" width="8.92" height="6.07" fill="rgb(250,250,250)"/>
<rect x="448.05" y="103.28" width="8.92" height="6.07" fill="rgb(250,250,250)"/>
<rect x="199.80" y="109.30" width="8.92" height="6.07" fill="rgb(102,102,102)"/>
<rect x="208.67" y="109.30" width="8.92" height="6.07" fill="rgb(128,128,128)"/>
<rect x="217.53" y="109.30" width="8.92" height="6.07" fill="rgb(77,77,77)"/>
<rect x="226.40" y="109.30" width="8.92" height="6.07" fill="rgb(250,250,250)"/>
<rect x="235.26" y="109.30" width="8.92" height="6.07" fill="rgb(25,25,25)"/>
<rect x="244.13" y="109.30" width="8.92" height="6.07" fill="rgb(77,77,77)"/>
<rect x="253.00" y="109.30" width="8.92" height="6.07" fill="rgb(250,250,250)"/>
<rect x="261.86" y="109.30" width="8.92" height="6.07" fill="rgb(250,250,250)"/>
<rect x="270.73" y="109.30" width="8.92" height="6.07" fill="rgb(250,250,250)"/>
<rect x="279.59" y="109.30" width="8.92" height="6.07" fill="rgb(250,250,250)"/>
<rect x="288.46" y="109.30" width="8.92" height="6.07" fill="rgb(89,89,89)"/>
<rect x="297.33" y="109.30" width="8.92" height="6.07" fill="rgb(242,242,242)"/>
<rect x="306.19" y="109.30" width="8.92" height="6.07" fill="rgb(250,250,250)"/>
<rect x="315.06" y="109.30" width="8.92" height="6.07" fill="rgb(230,230,230)"/>
<rect x="323.92" y="109.30" width="8.92" height="6.07" fill="rgb(250,250,250)"/>
<rect x="332.79" y="109.30" width="8.92" height="6.07" fill="rgb(250,250,250)"/>
<rect x="341.66" y="109.30" width="8.92" height="6.07" fill="rgb(250,250,250)"/>
<rect x="350.52" y="109.30" width="8.92" height="6.07" fill="rgb(250,250,250)"/>
<rect x="359.39" y="109.30" width="8.92" height="6.07" fill="rgb(250,250,250)"/>
<rect x="368.25" y="109.30" width="8.92" height="6.07" fill="rgb(250,250,250)"/>
<rect x="377.12" y="109.30" width="8.92" height="6.07" fill="rgb(250,250,250)"/>
<rect x="385.99" y="109.30" width="8.92" height="6.07" fill="rgb(77,77,77)"/>
<rect x="394.85" y="109.30" width="8.92" height="6.07" fill="rgb(250,250,250)"/>
<rect x="403.72" y="109.30" width="8.92" height="6.07" fill="rgb(250,250,250)"/>
<rect x="412.58" y="109.30" width="8.92" height="6.07" fill="rgb(242,242,242)"/>
<rect x="421.45" y="109.30" width="8.92" height="6.07" fill="rgb(250,250,250)"/>
<rect x="430.32" y="109.30" width="8.92" height="6.07" fill="rgb(250,250,250)"/>
<rect x="439.18" y="109.30" width="8.92" height="6.07" fill="rgb(250,250,250)"/>
<rect x="448.05" y="109.30" width="8.92" height="6.07" fill="rgb(217,217,217)"/>
<rect x="199.80" y="115.32" width="8.92" height="6.07" fill="rgb(128,128,128)"/>
<rect x="208.67" y="115.32" width="8.92" height="6.07" fill="rgb(153,153,153)"/>
<rect x="217.53" y="115.32" width="8.92" height="6.07" fill="rgb(102,102,102)"/>
<rect x="226.40" y="115.32" width="8.92" height="6.07" fill="rgb(250,250,250)"/>
<rect x="235.26" y="115.32" width="8.92" height="6.07" fill="rgb(0,0,0)"/>
<rect x="244.13" y="115.32" width="8.92" height="6.07" fill="rgb(204,204,204)"/>
<rect x="253.00" y="115.32" width="8.92" height="6.07" fill="rgb(250,250,250)"/>
<rect x="261.86" y="115.32" width="8.92" height="6.07" fill="rgb(250,250,250)"/>
<rect x="270.73" y="115.32" width="8.92" height="6.07" fill="rgb(250,250,250)"/>
<rect x="279.59" y="115.32" width="8.92" height="6.07" fill="rgb(250,250,250)"/>
<rect x="288.46" y="115.32" width="8.92" height="6.07" fill="rgb(153,153,153)"/>
<rect x="297.33" y="115.32" width="8.92" height="6.07" fill="rgb(140,140,140)"/>
<rect x="306.19" y="115.32" width="8.92" height="6.07" fill="rgb(242,242,242)"/>
<rect x="315.06" y="115.32" width="8.92" height="6.07" fill="rgb(230,230,230)"/>
<rect x="323.92" y="115.32" width="8.92" height="6.07" fill="rgb(250,250,250)"/>
<rect x="332.79" y="115.32" width="8.92" height="6.07" fill="rgb(250,250,250)"/>
<rect x="341.66" y="115.32" width="8.92" height="6.07" fill="rgb(250,250,250)"/>
<rect x="350.52" y="115.32" width="8.92" height="6.07" fill="rgb(250,250,250)"/>
<rect x="359.39" y="115.32" width="8.92" height="6.07" fill="rgb(250,250,250)"/>
<rect x="368.25" y="115.32" width="8.92" height="6.07" fill="rgb(250,250,250)"/>
<rect x="377.12" y="115.32" width="8.92" height="6.07" fill="rgb(250,250,250)"/>
<rect x="385.99" y="115.32" width="8.92" height="6.07" fill="rgb(250,250,250)"/>
<rect x="394.85" y="115.32" width="8.92" height="6.07" fill="rgb(250,250,250)"/>
<rect x="403.72" y="115.32" width="8.92" height="6.07" fill="rgb(204,204,204)"/>
<rect x="412.58" y="115.32" width="8.92" height="6.07" fill="rgb(250,250,250)"/>
<rect x="421.45" y="115.32" width="8.92" height="6.07" fill="rgb(250,250,250)"/>
<rect x="430.32" y="115.32" width="8.92" height="6.07" fill="rgb(250,250,250)"/>
<rect x="439.18" y="115.32" width="8.92" height="6.07" fill="rgb(250,250,250)"/>
<rect x="448.05" y="115.32" width="8.92" height="6.07" fill="rgb(250,250,250)"/>
<rect x="199.80" y="121.34" width="8.92" height="6.07" fill="rgb(128,128,128)"/>
<rect x="208.67" y="121.34" width="8.92" height="6.07" fill="rgb(178,178,178)"/>
<rect x="217.53" y="121.34" width="8.92" height="6.07" fill="rgb(102,102,102)"/>
<rect x="226.40" y="121.34" width="8.92" height="6.07" fill="rgb(250,250,250)"/>
<rect x="235.26" y="121.34" width="8.92" height="6.07" fill="rgb(0,0,0)"/>
<rect x="244.13" y="121.34" width="8.92" height="6.07" fill="rgb(178,178,178)"/>
<rect x="253.00" y="121.34" width="8.92" height="6.07" fill="rgb(250,250,250)"/>
<rect x="261.86" y="121.34" width="8.92" height="6.07" fill="rgb(250,250,250)"/>
<rect x="270.73" y="121.34" width="8.92" height="6.07" fill="rgb(250,250,250)"/>
<rect x="279.59" y="121.34" width="8.92" height="6.07" fill="rgb(250,250,250)"/>
<rect x="288.46" y="121.34" width="8.92" height="6.07" fill="rgb(115,115,115)"/>
<rect x="297.33" y="121.34" width="8.92" height="6.07" fill="rgb(250,250,250)"/>
<rect x="306.19" y="121.34" width="8.92" height="6.07" fill="rgb(250,250,250)"/>
<rect x="315.06" y="121.34" width="8.92" height="6.07" fill="rgb(230,230,230)"/>
<rect x="323.92" y="121.34" width="8.92" height="6.07" fill="rgb(250,250,250)"/>
<rect x="332.79" y="121.34" width="8.92" height="6.07" fill="rgb(250,250,250)"/>
<rect x="341.66" y="121.34" width="8.92" height="6.07" fill="rgb(250,250,250)"/>
<rect x="350.52" y="121.34" width="8.92" height="6.07" fill="rgb(250,250,250)"/>
<rect x="359.39" y="121.34" width="8.92" height="6.07" fill="rgb(250,250,250)"/>
<rect x="368.25" y="121.34" width="8.92" height="6.07" fill="rgb(250,250,250)"/>
<rect x="377.12" y="121.34" width="8.92" height="6.07" fill="rgb(250,250,250)"/>
<rect x="385.99" y="121.34" width="8.92" height="6.07" fill="rgb(250,250,250)"/>
<rect x="394.85" y="121.34" width="8.92" height="6.07" fill="rgb(250,250,250)"/>
<rect x="403.72" y="121.34" width="8.92" height="6.07" fill="rgb(250,250,250)"/>
<rect x="412.58" y="121.34" width="8.92" height="6.07" fill="rgb(250,250,250)"/>
<rect x="421.45" y="121.34" width="8.92" height="6.07" fill="rgb(250,250,250)"/>
<rect x="430.32" y="121.34" width="8.92" height="6.07" fill="rgb(250,250,250)"/>
<rect x="439.18" y="121.34" width="8.92" height="6.07" fill="rgb(250,250,250)"/>
<rect x="448.05" y="121.34" width="8.92" height="6.07" fill="rgb(250,250,250)"/>
<rect x="199.80" y="127.36" width="8.92" height="6.07" fill="rgb(128,128,128)"/>
<rect x="208.67" y="127.36" width="8.92" height="6.07" fill="rgb(153,153,153)"/>
<rect x="217.53" y="127.36" width="8.92" height="6.07" fill="rgb(102,102,102)"/>
<rect x="226.40" y="127.36" width="8.92" height="6.07" fill="rgb(250,250,250)"/>
<rect x="235.26" y="127.36" width="8.92" height="6.07" fill="rgb(0,0,0)"/>
<rect x="244.13" y="127.36" width="8.92" height="6.07" fill="rgb(102,102,102)"/>
<rect x="253.00" y="127.36" width="8.92" height="6.07" fill="rgb(102,102,102)"/>
<rect x="261.86" y="127.36" width="8.92" height="6.07" fill="rgb(250,250,250)"/>
<rect x="270.73" y="127.36" width="8.92" height="6.07" fill="rgb(250,250,250)"/>
<rect x="279.59" y="127.36" width="8.92" height="6.07" fill="rgb(250,250,250)"/>
<rect x="288.46" y="127.36" width="8.92" height="6.07" fill="rgb(102,102,102)"/>
<rect x="297.33" y="127.36" width="8.92" height="6.07" fill="rgb(242,242,242)"/>
<rect x="306.19" y="127.36" width="8.92" height="6.07" fill="rgb(250,250,250)"/>
<rect x="315.06" y="127.36" width="8.92" height="6.07" fill="rgb(230,230,230)"/>
<rect x="323.92" y="127.36" width="8.92" height="6.07" fill="rgb(250,250,250)"/>
<rect x="332.79" y="127.36" width="8.92" height="6.07" fill="rgb(250,250,250)"/>
<rect x="341.66" y="127.36" width="8.92" height="6.07" fill="rgb(250,250,250)"/>
<rect x="350.52" y="127.36" width="8.92" height="6.07" fill="rgb(250,250,250)"/>
<rect x="359.39" y="127.36" width="8.92" height="6.07" fill="rgb(250,250,250)"/>
<rect x="368.25" y="127.36" width="8.92" height="6.07" fill="rgb(250,250,250)"/>
<rect x="377.12" y="127.36" width="8.92" height="6.07" fill="rgb(250,250,250)"/>
<rect x="385.99" y="127.36" width="8.92" height="6.07" fill="rgb(250,250,250)"/>
<rect x="394.85" y="127.36" width="8.92" height="6.07" fill="rgb(250,250,250)"/>
<rect x="403.72" y="127.36" width="8.92" height="6.07" fill="rgb(250,250,250)"/>
<rect x="412.58" y="127.36" width="8.92" height="6.07" fill="rgb(250,250,250)"/>
<rect x="421.45" y="127.36" width="8.92" height="6.07" fill="rgb(250,250,250)"/>
<rect x="430.32" y="127.36" width="8.92" height="6.07" fill="rgb(250,250,250)"/>
<rect x="439.18" y="127.36" width="8.92" height="6.07" fill="rgb(250,250,250)"/>
<rect x="448.05" y="127.36" width="8.92" height="6.07" fill="rgb(250,250,250)"/>
<rect x="199.80" y="133.38" width="8.92" height="6.07" fill="rgb(102,102,102)"/>
<rect x="208.67" y="133.38" width="8.92" height="6.07" fill="rgb(128,128,128)"/>
<rect x="217.53" y="133.38" width="8.92" height="6.07" fill="rgb(102,102,102)"/>
<rect x="226.40" y="133.38" width="8.92" height="6.07" fill="rgb(250,250,250)"/>
<rect x="235.26" y="133.38" width="8.92" height="6.07" fill="rgb(0,0,0)"/>
<rect x="244.13" y="133.38" width="8.92" height="6.07" fill="rgb(230,230,230)"/>
<rect x="253.00" y="133.38" width="8.92" height="6.07" fill="rgb(250,250,250)"/>
<rect x="261.86" y="133.38" width="8.92" height="6.07" fill="rgb(250,250,250)"/>
<rect x="270.73" y="133.38" width="8.92" height="6.07" fill="rgb(250,250,250)"/>
<rect x="279.59" y="133.38" width="8.92" height="6.07" fill="rgb(250,250,250)"/>
<rect x="288.46" y="133.38" width="8.92" height="6.07" fill="rgb(230,230,230)"/>
<rect x="297.33" y="133.38" width="8.92" height="6.07" fill="rgb(153,153,153)"/>
<rect x="306.19" y="133.38" width="8.92" height="6.07" fill="rgb(64,64,64)"/>
<rect x="315.06" y="133.38" width="8.92" height="6.07" fill="rgb(191,191,191)"/>
<rect x="323.92" y="133.38" width="8.92" height="6.07" fill="rgb(250,250,250)"/>
<rect x="332.79" y="133.38" width="8.92" height="6.07" fill="rgb(250,250,250)"/>
<rect x="341.66" y="133.38" width="8.92" height="6.07" fill="rgb(250,250,250)"/>
<rect x="350.52" y="133.38" width="8.92" height="6.07" fill="rgb(242,242,242)"/>
<rect x="359.39" y="133.38" width="8.92" height="6.07" fill="rgb(242,242,242)"/>
<rect x="368.25" y="133.38" width="8.92" height="6.07" fill="rgb(153,153,153)"/>
<rect x="377.12" y="133.38" width="8.92" height="6.07" fill="rgb(204,204,204)"/>
<rect x="385.99" y="133.38" width="8.92" height="6.07" fill="rgb(250,250,250)"/>
<rect x="394.85" y="133.38" width="8.92" height="6.07" fill="rgb(250,250,250)"/>
<rect x="403.72" y="133.38" width="8.92" height="6.07" fill="rgb(242,242,242)"/>
<rect x="412.58" y="133.38" width="8.92" height="6.07" fill="rgb(166,166,166)"/>
<rect x="421.45" y="133.38" width="8.92" height="6.07" fill="rgb(89,89,89)"/>
<rect x="430.32" y="133.38" width="8.92" height="6.07" fill="rgb(204,204,204)"/>
<rect x="439.18" y="133.38" width="8.92" height="6.07" fill="rgb(250,250,250)"/>
<rect x="448.05" y="133.38" width="8.92" height="6.07" fill="rgb(115,115,115)"/>
<rect x="199.80" y="139.40" width="8.92" height="6.07" fill="rgb(128,128,128)"/>
<rect x="208.67" y="139.40" width="8.92" height="6.07" fill="rgb(153,153,153)"/>
<rect x="217.53" y="139.40" width="8.92" height="6.07" fill="rgb(128,128,128)"/>
<rect x="226.40" y="139.40" width="8.92" height="6.07" fill="rgb(250,250,250)"/>
<rect x="235.26" y="139.40" width="8.92" height="6.07" fill="rgb(0,0,0)"/>
<rect x="244.13" y="139.40" width="8.92" height="6.07" fill="rgb(242,242,242)"/>
<rect x="253.00" y="139.40" width="8.92" height="6.07" fill="rgb(250,250,250)"/>
<rect x="261.86" y="139.40" width="8.92" height="6.07" fill="rgb(250,250,250)"/>
<rect x="270.73" y="139.40" width="8.92" height="6.07" fill="rgb(250,250,250)"/>
<rect x="279.59" y="139.40" width="8.92" height="6.07" fill="rgb(250,250,250)"/>
<rect x="288.46" y="139.40" width="8.92" height="6.07" fill="rgb(250,250,250)"/>
<rect x="297.33" y="139.40" width="8.92" height="6.07" fill="rgb(250,250,250)"/>
<rect x="306.19" y="139.40" width="8.92" height="6.07" fill="rgb(115,115,115)"/>
<rect x="315.06" y="139.40" width="8.92" height="6.07" fill="rgb(217,217,217)"/>
<rect x="323.92" y="139.40" width="8.92" height="6.07" fill="rgb(242,242,242)"/>
<rect x="332.79" y="139.40" width="8.92" height="6.07" fill="rgb(250,250,250)"/>
<rect x="341.66" y="139.40" width="8.92" height="6.07" fill="rgb(250,250,250)"/>
<rect x="350.52" y="139.40" width="8.92" height="6.07" fill="rgb(250,250,250)"/>
<rect x="359.39" y="139.40" width="8.92" height="6.07" fill="rgb(250,250,250)"/>
<rect x="368.25" y="139.40" width="8.92" height="6.07" fill="rgb(242,242,242)"/>
<rect x="377.12" y="139.40" width="8.92" height="6.07" fill="rgb(217,217,217)"/>
<rect x="385.99" y="139.40" width="8.92" height="6.07" fill="rgb(250,250,250)"/>
<rect x="394.85" y="139.40" width="8.92" height="6.07" fill="rgb(250,250,250)"/>
<rect x="403.72" y="139.40" width="8.92" height="6.07" fill="rgb(77,77,77)"/>
<rect x="412.58" y="139.40" width="8.92" height="6.07" fill="rgb(250,250,250)"/>
<rect x="421.45" y="139.40" width="8.92" height="6.07" fill="rgb(250,250,250)"/>
<rect x="430.32" y="139.40" width="8.92" height="6.07" fill="rgb(38,38,38)"/>
<rect x="439.18" y="139.40" width="8.92" height="6.07" fill="rgb(250,250,250)"/>
<rect x="448.05" y="139.40" width="8.92" height="6.07" fill="rgb(250,250,250)"/>
<rect x="199.80" y="145.42" width="8.92" height="6.07" fill="rgb(128,128,128)"/>
<rect x="208.67" y="145.42" width="8.92" height="6.07" fill="rgb(128,128,128)"/>
<rect x="217.53" y="145.42" width="8.92" height="6.07" fill="rgb(115,115,115)"/>
<rect x="226.40" y="145.42" width="8.92" height="6.07" fill="rgb(250,250,250)"/>
<rect x="235.26" y="145.42" width="8.92" height="6.07" fill="rgb(250,250,250)"/>
<rect x="244.13" y="145.42" width="8.92" height="6.07" fill="rgb(115,115,115)"/>
<rect x="253.00" y="145.42" width="8.92" height="6.07" fill="rgb(250,250,250)"/>
<rect x="261.86" y="145.42" width="8.92" height="6.07" fill="rgb(250,250,250)"/>
<rect x="270.73" y="145.42" width="8.92" height="6.07" fill="rgb(250,250,250)"/>
<rect x="279.59" y="145.42" width="8.92" height="6.07" fill="rgb(250,250,250)"/>
<rect x="288.46" y="145.42" width="8.92" height="6.07" fill="rgb(250,250,250)"/>
<rect x="297.33" y="145.42" width="8.92" height="6.07" fill="rgb(250,250,250)"/>
<rect x="306.19" y="145.42" width="8.92" height="6.07" fill="rgb(0,0,0)"/>
<rect x="315.06" y="145.42" width="8.92" height="6.07" fill="rgb(217,217,217)"/>
<rect x="323.92" y="145.42" width="8.92" height="6.07" fill="rgb(230,230,230)"/>
<rect x="332.79" y="145.42" width="8.92" height="6.07" fill="rgb(250,250,250)"/>
<rect x="341.66" y="145.42" width="8.92" height="6.07" fill="rgb(250,250,250)"/>
<rect x="350.52" y="145.42" width="8.92" height="6.07" fill="rgb(250,250,250)"/>
<rect x="359.39" y="145.42" width="8.92" height="6.07" fill="rgb(250,250,250)"/>
<rect x="368.25" y="145.42" width="8.92" height="6.07" fill="rgb(230,230,230)"/>
<rect x="377.12" y="145.42" width="8.92" height="6.07" fill="rgb(250,250,250)"/>
<rect x="385.99" y="145.42" width="8.92" height="6.07" fill="rgb(250,250,250)"/>
<rect x="394.85" y="145.42" width="8.92" height="6.07" fill="rgb(250,250,250)"/>
<rect x="403.72" y="145.42" width="8.92" height="6.07" fill="rgb(178,178,178)"/>
<rect x="412.58" y="145.42" width="8.92" height="6.07" fill="rgb(250,250,250)"/>
<rect x="421.45" y="145.42" width="8.92" height="6.07" fill="rgb(230,230,230)"/>
<rect x="430.32" y="145.42" width="8.92" height="6.07" fill="rgb(250,250,250)"/>
<rect x="439.18" y="145.42" width="8.92" height="6.07" fill="rgb(250,250,250)"/>
<rect x="448.05" y="145.42" width="8.92" height="6.07" fill="rgb(250,250,250)"/>
<rect x="199.80" y="151.44" width="8.92" height="6.07" fill="rgb(102,102,102)"/>
<rect x="208.67" y="151.44" width="8.92" height="6.07" fill="rgb(128,128,128)"/>
<rect x="217.53" y="151.44" width="8.92" height="6.07" fill="rgb(102,102,102)"/>
<rect x="226.40" y="151.44" width="8.92" height="6.07" fill="rgb(250,250,250)"/>
<rect x="235.26" y="151.44" width="8.92" height="6.07" fill="rgb(0,0,0)"/>
<rect x="244.13" y="151.44" width="8.92" height="6.07" fill="rgb(25,25,25)"/>
<rect x="253.00" y="151.44" width="8.92" height="6.07" fill="rgb(250,250,250)"/>
<rect x="261.86" y="151.44" width="8.92" height="6.07" fill="rgb(250,250,250)"/>
<rect x="270.73" y="151.44" width="8.92" height="6.07" fill="rgb(250,250,250)"/>
<rect x="279.59" y="151.44" width="8.92" height="6.07" fill="rgb(250,250,250)"/>
<rect x="288.46" y="151.44" width="8.92" height="6.07" fill="rgb(250,250,250)"/>
<rect x="297.33" y="151.44" width="8.92" height="6.07" fill="rgb(250,250,250)"/>
<rect x="306.19" y="151.44" width="8.92" height="6.07" fill="rgb(0,0,0)"/>
<rect x="315.06" y="151.44" width="8.92" height="6.07" fill="rgb(217,217,217)"/>
<rect x="323.92" y="151.44" width="8.92" height="6.07" fill="rgb(102,102,102)"/>
<rect x="332.79" y="151.44" width="8.92" height="6.07" fill="rgb(250,250,250)"/>
<rect x="341.66" y="151.44" width="8.92" height="6.07" fill="rgb(250,250,250)"/>
<rect x="350.52" y="151.44" width="8.92" height="6.07" fill="rgb(250,250,250)"/>
<rect x="359.39" y="151.44" width="8.92" height="6.07" fill="rgb(250,250,250)"/>
<rect x="368.25" y="151.44" width="8.92" height="6.07" fill="rgb(204,204,204)"/>
<rect x="377.12" y="151.44" width="8.92" height="6.07" fill="rgb(242,242,242)"/>
<rect x="385.99" y="151.44" width="8.92" height="6.07" fill="rgb(250,250,250)"/>
<rect x="394.85" y="151.44" width="8.92" height="6.07" fill="rgb(250,250,250)"/>
<rect x="403.72" y="151.44" width="8.92" height="6.07" fill="rgb(89,89,89)"/>
<rect x="412.58" y="151.44" width="8.92" height="6.07" fill="rgb(250,250,250)"/>
<rect x="421.45" y="151.44" width="8.92" height="6.07" fill="rgb(217,217,217)"/>
<rect x="430.32" y="151.44" width="8.92" height="6.07" fill="rgb(250,250,250)"/>
<rect x="439.18" y="151.44" width="8.92" height="6.07" fill="rgb(250,250,250)"/>
<rect x="448.05" y="151.44" width="8.92" height="6.07" fill="rgb(250,250,250)"/>
<rect x="199.80" y="157.46" width="8.92" height="6.07" fill="rgb(102,102,102)"/>
<rect x="208.67" y="157.46" width="8.92" height="6.07" fill="rgb(128,128,128)"/>
<rect x="217.53" y="157.46" width="8.92" height="6.07" fill="rgb(77,77,77)"/>
<rect x="226.40" y="157.46" width="8.92" height="6.07" fill="rgb(250,250,250)"/>
<rect x="235.26" y="157.46" width="8.92" height="6.07" fill="rgb(0,0,0)"/>
<rect x="244.13" y="157.46" width="8.92" height="6.07" fill="rgb(25,25,25)"/>
<rect x="253.00" y="157.46" width="8.92" height="6.07" fill="rgb(250,250,250)"/>
<rect x="261.86" y="157.46" width="8.92" height="6.07" fill="rgb(250,250,250)"/>
<rect x="270.73" y="157.46" width="8.92" height="6.07" fill="rgb(250,250,250)"/>
<rect x="279.59" y="157.46" width="8.92" height="6.07" fill="rgb(250,250,250)"/>
<rect x="288.46" y="157.46" width="8.92" height="6.07" fill="rgb(178,178,178)"/>
<rect x="297.33" y="157.46" width="8.92" height="6.07" fill="rgb(250,250,250)"/>
<rect x="306.19" y="157.46" width="8.92" height="6.07" fill="rgb(0,0,0)"/>
<rect x="315.06" y="157.46" width="8.92" height="6.07" fill="rgb(230,230,230)"/>
<rect x="323.92" y="157.46" width="8.92" height="6.07" fill="rgb(77,77,77)"/>
<rect x="332.79" y="157.46" width="8.92" height="6.07" fill="rgb(250,250,250)"/>
<rect x="341.66" y="157.46" width="8.92" height="6.07" fill="rgb(250,250,250)"/>
<rect x="350.52" y="157.46" width="8.92" height="6.07" fill="rgb(250,250,250)"/>
<rect x="359.39" y="157.46" width="8.92" height="6.07" fill="rgb(250,250,250)"/>
<rect x="368.25" y="157.46" width="8.92" height="6.07" fill="rgb(178,178,178)"/>
<rect x="377.12" y="157.46" width="8.92" height="6.07" fill="rgb(242,242,242)"/>
<rect x="385.99" y="157.46" width="8.92" height="6.07" fill="rgb(250,250,250)"/>
<rect x="394.85" y="157.46" width="8.92" height="6.07" fill="rgb(250,250,250)"/>
<rect x="403.72" y="157.46" width="8.92" height="6.07" fill="rgb(77,77,77)"/>
<rect x="412.58" y="157.46" width="8.92" height="6.07" fill="rgb(250,250,250)"/>
<rect x="421.45" y="157.46" width="8.92" height="6.07" fill="rgb(204,204,204)"/>
<rect x="430.32" y="157.46" width="8.92" height="6.07" fill="rgb(250,250,250)"/>
<rect x="439.18" y="157.46" width="8.92" height="6.07" fill="rgb(250,250,250)"/>
<rect x="448.05" y="157.46" width="8.92" height="6.07" fill="rgb(250,250,250)"/>
<path d="M208.67 19.0V163.48M217.53 19.0V163.48M226.40 19.0V163.48M235.26 19.0V163.48M244.13 19.0V163.48M253.00 19.0V163.48M261.86 19.0V163.48M270.73 19.0V163.48M279.59 19.0V163.48M288.46 19.0V163.48M297.33 19.0V163.48M306.19 19.0V163.48M315.06 19.0V163.48M323.92 19.0V163.48M332.79 19.0V163.48M341.66 19.0V163.48M350.52 19.0V163.48M359.39 19.0V163.48M368.25 19.0V163.48M377.12 19.0V163.48M385.99 19.0V163.48M394.85 19.0V163.48M403.72 19.0V163.48M412.58 19.0V163.48M421.45 19.0V163.48M430.32 19.0V163.48M439.18 19.0V163.48M448.05 19.0V163.48M199.8 25.02H456.91M199.8 31.04H456.91M199.8 37.06H456.91M199.8 43.08H456.91M199.8 49.10H456.91M199.8 55.12H456.91M199.8 61.14H456.91M199.8 67.16H456.91M199.8 73.18H456.91M199.8 79.20H456.91M199.8 85.22H456.91M199.8 91.24H456.91M199.8 97.26H456.91M199.8 103.28H456.91M199.8 109.30H456.91M199.8 115.32H456.91M199.8 121.34H456.91M199.8 127.36H456.91M199.8 133.38H456.91M199.8 139.40H456.91M199.8 145.42H456.91M199.8 151.44H456.91M199.8 157.46H456.91" stroke="#000" stroke-width="0.5" fill="none"/>
<rect x="199.8" y="19.0" width="257.11" height="144.48" fill="none" stroke="#222" stroke-width="0.9"/>
<text x="198.2" y="24.01" font-size="5.75" text-anchor="end">TC01-DNT</text>
<text x="198.2" y="30.03" font-size="5.75" text-anchor="end">TC02-γδT</text>
<text x="198.2" y="36.05" font-size="5.75" text-anchor="end">TC03-γδT</text>
<text x="198.2" y="42.07" font-size="5.75" text-anchor="end">TC04-γδT</text>
<text x="198.2" y="48.09" font-size="5.75" text-anchor="end">TC05-CD4+ naive  T</text>
<text x="198.2" y="54.11" font-size="5.75" text-anchor="end">TC06-CD4+TEM</text>
<text x="198.2" y="60.13" font-size="5.75" text-anchor="end">TC07-Th2</text>
<text x="198.2" y="66.15" font-size="5.75" text-anchor="end">TC08-Th2</text>
<text x="198.2" y="72.17" font-size="5.75" text-anchor="end">TC09-DPT</text>
<text x="198.2" y="78.19" font-size="5.75" text-anchor="end">TC10-Treg</text>
<text x="198.2" y="84.21" font-size="5.75" text-anchor="end">TC11-CD4+ naive  T</text>
<text x="198.2" y="90.23" font-size="5.75" text-anchor="end">TC12-CD4+ naive  T</text>
<text x="198.2" y="96.25" font-size="5.75" text-anchor="end">TC13-Tfh</text>
<text x="198.2" y="102.27" font-size="5.75" text-anchor="end">TC14-Th1</text>
<text x="198.2" y="108.29" font-size="5.75" text-anchor="end">TC15-CD8+TEM</text>
<text x="198.2" y="114.31" font-size="5.75" text-anchor="end">TC16-CD8+T effector</text>
<text x="198.2" y="120.33" font-size="5.75" text-anchor="end">TC17-CD8+TEM</text>
<text x="198.2" y="126.35" font-size="5.75" text-anchor="end">TC18-CD8+TEM</text>
<text x="198.2" y="132.37" font-size="5.75" text-anchor="end">TC19-CD8+NKT</text>
<text x="198.2" y="138.39" font-size="5.75" text-anchor="end">TC20-CD8+T effector</text>
<text x="198.2" y="144.41" font-size="5.75" text-anchor="end">TC21-CD8+T effector</text>
<text x="198.2" y="150.43" font-size="5.75" text-anchor="end">DNT</text>
<text x="198.2" y="156.45" font-size="5.75" text-anchor="end">TC23-CD8+ naive  T</text>
<text x="198.2" y="162.47" font-size="5.75" text-anchor="end">TC24-CD8+ naive  T</text>
<text transform="translate(206.23,166.6) rotate(-90)" font-size="5.8" text-anchor="end">CD45</text>
<text transform="translate(215.10,166.6) rotate(-90)" font-size="5.8" text-anchor="end">CD47</text>
<text transform="translate(223.97,166.6) rotate(-90)" font-size="5.8" text-anchor="end">CD3</text>
<text transform="translate(232.83,166.6) rotate(-90)" font-size="5.8" text-anchor="end">CD4</text>
<text transform="translate(241.70,166.6) rotate(-90)" font-size="5.8" text-anchor="end">CD8a</text>
<text transform="translate(250.56,166.6) rotate(-90)" font-size="5.8" text-anchor="end">CD45RA</text>
<text transform="translate(259.43,166.6) rotate(-90)" font-size="5.8" text-anchor="end">CD56</text>
<text transform="translate(268.30,166.6) rotate(-90)" font-size="5.8" text-anchor="end">γδTCR</text>
<text transform="translate(277.16,166.6) rotate(-90)" font-size="5.8" text-anchor="end">CCR6</text>
<text transform="translate(286.03,166.6) rotate(-90)" font-size="5.8" text-anchor="end">CD25</text>
<text transform="translate(294.89,166.6) rotate(-90)" font-size="5.8" text-anchor="end">GZMB</text>
<text transform="translate(303.76,166.6) rotate(-90)" font-size="5.8" text-anchor="end">CCR5</text>
<text transform="translate(312.62,166.6) rotate(-90)" font-size="5.8" text-anchor="end">CD27</text>
<text transform="translate(321.49,166.6) rotate(-90)" font-size="5.8" text-anchor="end">Ki67</text>
<text transform="translate(330.36,166.6) rotate(-90)" font-size="5.8" text-anchor="end">CCR7</text>
<text transform="translate(339.22,166.6) rotate(-90)" font-size="5.8" text-anchor="end">CD161</text>
<text transform="translate(348.09,166.6) rotate(-90)" font-size="5.8" text-anchor="end">CTLA4</text>
<text transform="translate(356.95,166.6) rotate(-90)" font-size="5.8" text-anchor="end">FoxP3</text>
<text transform="translate(365.82,166.6) rotate(-90)" font-size="5.8" text-anchor="end">CXCR5</text>
<text transform="translate(374.69,166.6) rotate(-90)" font-size="5.8" text-anchor="end">CXCR3</text>
<text transform="translate(383.55,166.6) rotate(-90)" font-size="5.8" text-anchor="end">ICOS</text>
<text transform="translate(392.42,166.6) rotate(-90)" font-size="5.8" text-anchor="end">CD69</text>
<text transform="translate(401.28,166.6) rotate(-90)" font-size="5.8" text-anchor="end">CXCR2</text>
<text transform="translate(410.15,166.6) rotate(-90)" font-size="5.8" text-anchor="end">CD127</text>
<text transform="translate(419.02,166.6) rotate(-90)" font-size="5.8" text-anchor="end">PD1</text>
<text transform="translate(427.88,166.6) rotate(-90)" font-size="5.8" text-anchor="end">CD38</text>
<text transform="translate(436.75,166.6) rotate(-90)" font-size="5.8" text-anchor="end">CCR4</text>
<text transform="translate(445.62,166.6) rotate(-90)" font-size="5.8" text-anchor="end">OX40</text>
<text transform="translate(454.48,166.6) rotate(-90)" font-size="5.8" text-anchor="end">HLADR</text>
<line x1="466.03" y1="19.0" x2="466.03" y2="164.3" stroke="#e6e6e6" stroke-width="0.6"/>
<line x1="473.26" y1="19.0" x2="473.26" y2="164.3" stroke="#e6e6e6" stroke-width="0.6"/>
<line x1="480.49" y1="19.0" x2="480.49" y2="164.3" stroke="#e6e6e6" stroke-width="0.6"/>
<line x1="487.72" y1="19.0" x2="487.72" y2="164.3" stroke="#e6e6e6" stroke-width="0.6"/>
<line x1="494.95" y1="19.0" x2="494.95" y2="164.3" stroke="#e6e6e6" stroke-width="0.6"/>
<rect x="458.80" y="20.41" width="6.70" height="3.2" fill="#7a7a7a"/>
<rect x="458.80" y="26.43" width="2.30" height="3.2" fill="#7a7a7a"/>
<rect x="458.80" y="32.45" width="4.70" height="3.2" fill="#7a7a7a"/>
<rect x="458.80" y="38.47" width="0.90" height="3.2" fill="#7a7a7a"/>
<rect x="458.80" y="44.49" width="5.90" height="3.2" fill="#7a7a7a"/>
<rect x="458.80" y="50.51" width="7.80" height="3.2" fill="#7a7a7a"/>
<rect x="458.80" y="56.53" width="4.80" height="3.2" fill="#7a7a7a"/>
<rect x="458.80" y="62.55" width="0.90" height="3.2" fill="#7a7a7a"/>
<rect x="458.80" y="68.57" width="1.60" height="3.2" fill="#7a7a7a"/>
<rect x="458.80" y="74.59" width="31.90" height="3.2" fill="#7a7a7a"/>
<rect x="458.80" y="80.61" width="1.00" height="3.2" fill="#7a7a7a"/>
<rect x="458.80" y="86.63" width="7.20" height="3.2" fill="#7a7a7a"/>
<rect x="458.80" y="92.65" width="4.10" height="3.2" fill="#7a7a7a"/>
<rect x="458.80" y="98.67" width="5.60" height="3.2" fill="#7a7a7a"/>
<rect x="458.80" y="104.69" width="0.90" height="3.2" fill="#7a7a7a"/>
<rect x="458.80" y="110.71" width="7.10" height="3.2" fill="#7a7a7a"/>
<rect x="458.80" y="116.73" width="15.20" height="3.2" fill="#7a7a7a"/>
<rect x="458.80" y="122.75" width="3.90" height="3.2" fill="#7a7a7a"/>
<rect x="458.80" y="128.77" width="0.90" height="3.2" fill="#7a7a7a"/>
<rect x="458.80" y="134.79" width="0.90" height="3.2" fill="#7a7a7a"/>
<rect x="458.80" y="140.81" width="0.90" height="3.2" fill="#7a7a7a"/>
<rect x="458.80" y="146.83" width="22.00" height="3.2" fill="#7a7a7a"/>
<rect x="458.80" y="152.85" width="2.60" height="3.2" fill="#7a7a7a"/>
<rect x="458.80" y="158.87" width="0.90" height="3.2" fill="#7a7a7a"/>
<path d="M458.3 19.0V164.3H495.6" stroke="#222" stroke-width="0.7" fill="none"/>
<line x1="458.80" y1="164.3" x2="458.80" y2="166.2" stroke="#222" stroke-width="0.6"/>
<text x="458.80" y="173.2" font-size="5.5" text-anchor="middle">0</text>
<line x1="466.03" y1="164.3" x2="466.03" y2="166.2" stroke="#222" stroke-width="0.6"/>
<text x="466.03" y="173.2" font-size="5.5" text-anchor="middle">5</text>
<line x1="473.26" y1="164.3" x2="473.26" y2="166.2" stroke="#222" stroke-width="0.6"/>
<text x="473.26" y="173.2" font-size="5.5" text-anchor="middle">10</text>
<line x1="480.49" y1="164.3" x2="480.49" y2="166.2" stroke="#222" stroke-width="0.6"/>
<text x="480.49" y="173.2" font-size="5.5" text-anchor="middle">15</text>
<line x1="487.72" y1="164.3" x2="487.72" y2="166.2" stroke="#222" stroke-width="0.6"/>
<text x="487.72" y="173.2" font-size="5.5" text-anchor="middle">20</text>
<line x1="494.95" y1="164.3" x2="494.95" y2="166.2" stroke="#222" stroke-width="0.6"/>
<text x="494.95" y="173.2" font-size="5.5" text-anchor="middle">25</text>
<text x="477" y="181.3" font-size="6" text-anchor="middle">Frequencies</text>
<defs><linearGradient id="cb" x1="0" y1="0" x2="0" y2="1"><stop offset="0" stop-color="#000"/><stop offset="1" stop-color="#fff"/></linearGradient></defs>
<rect x="504.9" y="21.8" width="7.7" height="62.2" fill="url(#cb)" stroke="#999" stroke-width="0.4"/>
<text x="503.6" y="23.80" font-size="4.9" text-anchor="end">1.0</text>
<text x="503.6" y="36.24" font-size="4.9" text-anchor="end">0.8</text>
<text x="503.6" y="48.68" font-size="4.9" text-anchor="end">0.6</text>
<text x="503.6" y="61.12" font-size="4.9" text-anchor="end">0.4</text>
<text x="503.6" y="73.56" font-size="4.9" text-anchor="end">0.2</text>
<text x="503.6" y="86.00" font-size="4.9" text-anchor="end">0</text>
<text transform="translate(514.8,49) rotate(90)" font-size="5.7" text-anchor="middle">Median intensities</text>
<g filter="url(#spa7)"><path d="M65.6 113.9Q64.6 105.0 79.4 106.0Q94.1 106.9 93.1 113.9Q92.0 120.9 84.6 123.9Q77.3 126.9 72.0 124.9Q66.7 122.9 65.6 113.9Z" fill="#ff2020"/></g>
<g filter="url(#spa4)"><path d="M36.7 134.9Q35.6 128.4 44.1 126.4Q52.5 124.4 53.6 130.4Q54.6 136.4 51.5 139.9Q48.3 143.3 43.0 142.3Q37.7 141.3 36.7 134.9Z" fill="#8050d0"/></g>
<g filter="url(#spa2)"><path d="M103.0 142.2Q103.0 140.2 106.2 140.2Q109.4 140.2 109.4 142.2Q109.4 144.2 106.2 144.2Q103.0 144.2 103.0 142.2Z" fill="#ffaaf5"/><path d="M83.8 126.9Q83.8 125.4 85.4 125.4Q87.0 125.4 87.0 126.9Q87.0 128.4 85.4 128.4Q83.8 128.4 83.8 126.9Z" fill="#ffb8a8"/></g>
<g filter="url(#spa1)"><path d="M34.8 131.3Q35.6 127.5 37.5 125.2Q39.4 122.8 42.3 120.4Q45.2 118.0 49.0 117.1Q52.9 116.1 56.2 116.6Q59.6 117.1 61.5 118.5Q63.4 119.9 63.9 122.3Q64.4 124.7 62.5 127.1Q60.5 129.4 58.6 130.8Q56.7 132.3 55.7 135.1Q54.8 138.0 53.8 140.3Q52.9 142.7 50.0 144.1Q47.1 145.6 44.2 145.1Q41.3 144.6 38.9 142.7Q36.5 140.8 35.3 138.0Q34.0 135.1 34.8 131.3Z" fill="#7c6c9c"/><path d="M35.4 146.1Q35.4 143.6 39.1 143.6Q42.8 143.6 42.8 146.1Q42.8 148.6 39.1 148.6Q35.4 148.6 35.4 146.1Z" fill="#ff30c0"/><path d="M79.5 168.6Q79.1 165.6 80.7 163.3Q82.3 161.0 84.4 161.4Q86.4 161.8 88.1 163.7Q89.7 165.6 90.1 168.6Q90.5 171.7 89.3 174.7Q88.1 177.8 86.4 178.9Q84.8 180.1 83.2 178.9Q81.5 177.8 80.7 174.7Q79.9 171.7 79.5 168.6Z" fill="#a86050"/><path d="M81.3 156.9Q81.0 155.0 82.6 153.1Q84.2 151.2 86.5 151.2Q88.7 151.2 90.7 152.2Q92.6 153.1 92.9 155.5Q93.2 157.8 91.3 159.3Q89.4 160.7 87.1 160.2Q84.8 159.7 83.2 159.3Q81.6 158.8 81.3 156.9Z" fill="#e0306e"/><path d="M114.4 136.1Q114.2 134.1 116.8 134.3Q119.5 134.5 119.6 136.3Q119.7 138.0 117.2 138.0Q114.6 138.0 114.4 136.1Z" fill="#d82bff"/><path d="M103.0 147.0Q103.0 144.5 106.7 144.5Q110.4 144.5 110.4 147.0Q110.4 149.5 106.7 149.5Q103.0 149.5 103.0 147.0Z" fill="#8050d0"/><path d="M87.6 122.1Q87.6 121.1 88.6 121.1Q89.7 121.1 89.7 122.1Q89.7 123.0 88.6 123.0Q87.6 123.0 87.6 122.1Z" fill="#40ffd0"/></g>
<g filter="url(#spa0)"><path d="M64.0 107.7Q64.9 104.2 66.6 103.3Q68.3 102.4 73.4 101.9Q78.5 101.5 81.9 102.4Q85.3 103.3 88.7 105.0Q92.1 106.8 93.3 108.6Q94.6 110.4 93.8 112.6Q92.9 114.8 90.8 116.6Q88.7 118.3 87.0 120.6Q85.3 122.8 83.6 123.7Q81.9 124.5 80.2 125.4Q78.5 126.3 76.4 126.8Q74.2 127.2 72.1 126.3Q70.0 125.4 68.3 123.7Q66.6 121.9 65.3 119.2Q64.0 116.6 63.6 113.9Q63.2 111.2 64.0 107.7Z" fill="#9a9a7a"/><path d="M68.5 103.1Q66.2 102.1 67.1 100.2Q68.0 98.4 70.7 97.9Q73.4 97.4 76.1 96.9Q78.8 96.5 80.1 97.4Q81.5 98.4 81.0 100.2Q80.6 102.1 78.3 102.6Q76.1 103.1 73.4 103.6Q70.7 104.0 68.5 103.1Z" fill="#a81a1a"/><path d="M52.0 135.3Q51.6 132.3 53.3 130.2Q54.9 128.1 57.5 127.2Q60.0 126.4 63.3 126.8Q66.7 127.2 69.2 128.5Q71.7 129.8 72.6 131.9Q73.4 134.0 72.6 136.6Q71.7 139.1 69.6 140.4Q67.5 141.7 64.6 142.1Q61.7 142.5 59.1 141.7Q56.6 140.8 54.5 139.5Q52.4 138.3 52.0 135.3Z" fill="#7a1a6a"/><path d="M79.0 133.9Q79.4 129.5 80.9 126.1Q82.3 122.7 85.1 120.8Q88.0 118.8 91.8 117.8Q95.6 116.9 100.4 116.9Q105.1 116.9 108.9 117.8Q112.7 118.8 115.6 120.8Q118.4 122.7 119.4 125.6Q120.3 128.5 119.8 131.4Q119.4 134.3 117.9 136.3Q116.5 138.2 114.1 139.2Q111.8 140.2 108.4 139.7Q105.1 139.2 102.7 140.7Q100.4 142.1 98.9 144.1Q97.5 146.0 95.6 148.9Q93.7 151.8 90.8 153.3Q88.0 154.7 85.1 153.3Q82.3 151.8 80.9 148.9Q79.4 146.0 79.0 142.1Q78.5 138.2 79.0 133.9Z" fill="#339a9e"/><path d="M45.2 148.1Q45.2 146.3 47.1 144.6Q49.0 142.8 51.9 143.0Q54.8 143.2 56.7 144.7Q58.6 146.3 58.6 148.5Q58.6 150.7 56.7 151.6Q54.8 152.5 51.9 152.5Q49.0 152.5 47.1 151.2Q45.2 149.8 45.2 148.1Z" fill="#2aa83a"/><path d="M37.9 159.1Q37.9 153.8 44.6 153.8Q51.3 153.8 51.3 159.1Q51.3 164.4 44.6 164.4Q37.9 164.4 37.9 159.1Z" fill="#ff30c0"/><path d="M51.1 161.8Q51.5 159.7 54.3 156.9Q57.0 154.2 60.1 153.1Q63.3 152.0 66.0 152.6Q68.8 153.1 69.2 155.8Q69.7 158.6 68.3 161.3Q66.9 164.0 64.7 165.7Q62.4 167.3 58.8 167.3Q55.2 167.3 52.9 165.7Q50.6 164.0 51.1 161.8Z" fill="#ff2020"/><path d="M45.5 171.0Q44.2 166.5 46.9 165.6Q49.6 164.7 54.2 165.2Q58.7 165.6 62.4 167.0Q66.0 168.3 66.5 171.0Q66.9 173.7 64.7 175.5Q62.4 177.3 57.8 177.7Q53.3 178.2 50.1 176.8Q46.9 175.5 45.5 171.0Z" fill="#33ff33"/><path d="M64.2 146.0Q63.6 142.4 66.0 140.4Q68.5 138.3 71.0 139.3Q73.5 140.4 74.7 143.4Q75.9 146.5 75.3 149.0Q74.7 151.6 72.2 152.1Q69.8 152.6 67.3 151.0Q64.8 149.5 64.2 146.0Z" fill="#ff9a50"/><path d="M72.5 155.8Q72.3 154.0 74.4 153.6Q76.4 153.1 77.5 154.4Q78.5 155.8 77.5 156.8Q76.4 157.9 74.6 157.7Q72.7 157.5 72.5 155.8Z" fill="#2b2bff"/><path d="M69.4 167.2Q69.6 165.2 71.4 163.2Q73.2 161.2 75.5 160.7Q77.7 160.2 78.6 162.7Q79.5 165.2 79.1 169.3Q78.6 173.3 76.8 174.3Q75.0 175.3 72.8 174.3Q70.5 173.3 69.8 171.3Q69.1 169.3 69.4 167.2Z" fill="#ffcc1a"/><path d="M88.1 166.7Q88.1 161.6 90.7 159.9Q93.3 158.2 95.9 158.7Q98.5 159.1 101.0 161.2Q103.6 163.3 105.3 165.9Q107.1 168.4 106.2 171.8Q105.3 175.2 102.8 177.7Q100.2 180.3 97.2 181.1Q94.2 182.0 91.6 180.3Q89.0 178.6 88.6 175.2Q88.1 171.8 88.1 166.7Z" fill="#30a8ff"/><path d="M100.5 152.0Q101.1 149.5 103.7 148.0Q106.3 146.5 109.3 147.0Q112.3 147.5 113.8 149.5Q115.3 151.5 115.3 154.6Q115.3 157.6 113.8 159.6Q112.3 161.6 109.3 162.1Q106.3 162.6 104.1 161.1Q101.8 159.6 100.9 157.1Q100.0 154.6 100.5 152.0Z" fill="#b4cc88"/><path d="M59.9 127.7Q59.9 125.7 63.2 125.7Q66.6 125.7 66.6 127.7Q66.6 129.6 63.2 129.6Q59.9 129.6 59.9 127.7Z" fill="#ccff1a"/><path d="M68.9 130.8Q68.9 129.8 71.0 129.8Q73.1 129.8 73.1 130.8Q73.1 131.8 71.0 131.8Q68.9 131.8 68.9 130.8Z" fill="#ccff1a"/><path d="M74.9 134.1Q74.7 130.3 76.9 130.3Q79.1 130.3 78.9 134.1Q78.7 137.8 76.9 137.8Q75.1 137.8 74.9 134.1Z" fill="#9a7a1a"/></g>
<path d="M60.4 111.4h0M60.8 114.0h0M93.2 115.5h0M94.5 110.8h0M83.0 99.8h0M74.2 101.4h0M61.8 112.9h0M96.5 112.8h0M78.9 102.1h0M88.1 122.1h0M76.3 129.0h0M87.1 121.6h0M81.6 102.3h0M83.3 102.6h0M86.1 120.1h0M89.9 102.7h0M70.5 124.2h0M62.8 101.3h0M71.9 98.8h0M67.6 124.8h0M89.5 117.5h0M80.3 103.3h0M65.4 117.7h0M85.5 120.8h0M63.9 112.4h0M90.6 116.3h0" stroke="#9a9a7a" stroke-width="0.80" stroke-linecap="round" fill="none"/>
<path d="M75.7 96.9h0M73.8 103.4h0M82.2 102.0h0M80.0 102.0h0M75.7 96.4h0M68.5 98.4h0M68.7 104.1h0M76.9 103.0h0M67.9 98.1h0M79.0 96.4h0M69.7 104.2h0" stroke="#a81a1a" stroke-width="0.80" stroke-linecap="round" fill="none"/>
<path d="M32.1 139.0h0M50.0 116.7h0M58.2 117.1h0M54.4 114.6h0M57.9 134.1h0M35.8 131.4h0M37.1 127.3h0M62.1 115.9h0M63.7 115.7h0M59.0 130.3h0M41.9 143.8h0M60.1 131.2h0M54.5 138.1h0M35.8 133.3h0M61.0 118.4h0M35.8 126.6h0M52.7 141.8h0M52.6 112.9h0M48.5 146.0h0M49.7 113.9h0M58.1 132.3h0M33.9 127.1h0M60.4 129.6h0M52.6 117.2h0M55.5 134.0h0M33.0 129.4h0" stroke="#7c6c9c" stroke-width="0.80" stroke-linecap="round" fill="none"/>
<path d="M53.3 139.4h0M50.5 124.4h0M50.6 123.9h0M36.0 132.7h0M45.9 126.6h0M53.8 122.3h0M53.2 139.7h0M36.2 135.5h0M36.2 141.2h0M41.2 127.7h0M110.1 148.5h0M105.7 149.7h0M103.2 146.1h0M110.1 149.4h0M110.1 148.9h0M102.6 148.6h0" stroke="#8050d0" stroke-width="0.80" stroke-linecap="round" fill="none"/>
<path d="M50.9 130.9h0M63.0 143.3h0M65.7 141.2h0M73.1 129.9h0M60.4 143.9h0M50.8 132.6h0M69.1 127.2h0M71.2 127.8h0M71.4 129.3h0M53.0 138.4h0M63.5 125.3h0M52.0 128.1h0M72.5 133.3h0M65.8 141.7h0M70.8 140.5h0M50.1 136.7h0M55.3 139.3h0M51.4 130.8h0" stroke="#7a1a6a" stroke-width="0.80" stroke-linecap="round" fill="none"/>
<path d="M117.9 136.6h0M79.6 137.9h0M91.6 155.4h0M117.7 135.2h0M88.5 119.8h0M102.0 114.6h0M100.8 143.0h0M119.7 127.6h0M80.1 123.5h0M83.4 122.1h0M103.4 142.2h0M77.6 150.5h0M97.8 147.0h0M125.1 127.8h0M100.1 143.1h0M78.7 126.2h0M75.7 150.1h0M90.2 157.2h0M103.2 113.6h0M97.4 113.1h0M95.1 115.4h0M111.7 140.7h0M81.7 127.7h0M91.4 153.7h0M116.2 136.1h0M91.9 119.4h0M75.7 144.9h0M111.2 113.6h0M77.3 148.7h0M82.7 155.6h0M121.9 130.7h0M77.2 141.6h0M76.6 145.3h0M118.0 125.0h0M77.0 142.7h0M118.0 125.7h0M82.7 126.2h0" stroke="#339a9e" stroke-width="0.80" stroke-linecap="round" fill="none"/>
<path d="M47.0 144.4h0M51.8 142.3h0M54.5 142.8h0M47.8 152.0h0M56.9 143.4h0M45.7 148.0h0M45.5 151.5h0M58.8 144.8h0M46.1 145.7h0M57.5 151.4h0M44.2 149.7h0" stroke="#2aa83a" stroke-width="0.80" stroke-linecap="round" fill="none"/>
<path d="M42.0 143.3h0M43.6 147.3h0M38.1 143.5h0M43.5 146.3h0M43.5 146.3h0M43.4 144.6h0M39.2 164.5h0M39.6 164.2h0M50.9 163.0h0M50.8 155.5h0M36.7 164.2h0M37.0 158.6h0M52.2 157.9h0M38.7 153.3h0M37.8 165.7h0M47.7 153.1h0M44.6 165.1h0M51.7 162.5h0M37.9 153.3h0M38.2 162.7h0" stroke="#ff30c0" stroke-width="0.80" stroke-linecap="round" fill="none"/>
<path d="M68.5 154.3h0M66.7 163.4h0M51.1 158.8h0M61.8 152.4h0M53.1 166.0h0M68.5 156.7h0M56.3 155.2h0M53.3 166.3h0M68.7 156.6h0M53.8 158.0h0M58.4 167.1h0M63.3 166.6h0M61.9 151.3h0M61.5 167.4h0M49.7 161.1h0M66.3 151.3h0M73.4 124.6h0M68.1 122.9h0M95.1 117.9h0M70.7 126.9h0M66.2 122.9h0M77.3 128.6h0M65.7 113.4h0M95.3 111.1h0" stroke="#ff2020" stroke-width="0.80" stroke-linecap="round" fill="none"/>
<path d="M56.9 165.4h0M49.6 164.6h0M43.0 164.9h0M66.6 175.4h0M62.9 166.9h0M43.6 169.5h0M47.8 175.1h0M56.4 165.5h0M49.1 177.7h0M53.2 178.1h0M63.4 177.5h0M46.2 176.0h0M55.3 164.2h0M54.4 164.4h0M44.1 164.6h0M50.5 176.7h0M44.3 170.6h0M46.8 175.8h0" stroke="#33ff33" stroke-width="0.80" stroke-linecap="round" fill="none"/>
<path d="M72.8 152.0h0M73.7 152.6h0M70.1 153.4h0M68.5 151.1h0M71.6 138.7h0M75.2 150.5h0M74.9 145.0h0M65.4 149.4h0M70.7 138.8h0M64.0 147.9h0M63.5 144.3h0M63.7 148.1h0" stroke="#ff9a50" stroke-width="0.80" stroke-linecap="round" fill="none"/>
<path d="M74.9 153.3h0M78.3 155.4h0M76.8 153.3h0M74.7 157.7h0M72.3 155.1h0" stroke="#2b2bff" stroke-width="0.80" stroke-linecap="round" fill="none"/>
<path d="M80.2 164.5h0M79.4 169.2h0M76.0 175.7h0M73.7 175.5h0M79.7 170.7h0M79.0 173.3h0M78.3 171.9h0M69.7 165.2h0M72.0 163.1h0M78.1 173.0h0M79.2 162.4h0M72.8 174.5h0" stroke="#ffcc1a" stroke-width="0.80" stroke-linecap="round" fill="none"/>
<path d="M87.3 179.9h0M85.7 161.2h0M90.9 168.0h0M82.1 178.4h0M87.5 179.8h0M87.9 163.2h0M84.2 161.3h0M79.4 171.3h0M79.9 173.0h0M79.5 165.4h0M85.2 160.9h0M87.0 178.0h0M85.9 179.4h0" stroke="#a86050" stroke-width="0.80" stroke-linecap="round" fill="none"/>
<path d="M94.9 157.9h0M86.2 160.8h0M108.0 171.7h0M106.1 171.5h0M88.6 177.1h0M106.4 176.1h0M88.4 167.9h0M87.8 168.0h0M103.4 161.9h0M99.1 158.9h0M105.5 173.8h0M90.4 158.8h0M90.5 157.5h0M96.3 158.7h0M89.5 177.4h0M97.9 159.8h0M99.4 157.6h0M98.7 180.4h0M88.2 176.7h0" stroke="#30a8ff" stroke-width="0.80" stroke-linecap="round" fill="none"/>
<path d="M88.0 161.4h0M91.0 151.8h0M87.5 150.2h0M81.3 159.8h0M85.2 160.6h0M88.5 150.1h0M82.0 152.6h0M86.1 151.0h0M89.5 151.9h0" stroke="#e0306e" stroke-width="0.80" stroke-linecap="round" fill="none"/>
<path d="M103.2 160.6h0M104.4 161.3h0M102.9 147.1h0M114.3 161.2h0M116.2 150.6h0M103.3 146.3h0M102.9 148.8h0M110.9 161.7h0M100.9 156.5h0M115.3 151.0h0M114.7 161.4h0M100.6 152.2h0M102.1 160.0h0M101.3 150.9h0" stroke="#b4cc88" stroke-width="0.80" stroke-linecap="round" fill="none"/>
<path d="M119.5 135.9h0M119.7 137.4h0M115.8 137.9h0M120.2 138.0h0M117.4 138.0h0" stroke="#d82bff" stroke-width="0.80" stroke-linecap="round" fill="none"/>
<path d="M103.2 141.8h0M109.2 143.2h0M110.2 142.9h0M106.1 144.0h0M110.0 139.8h0" stroke="#ffaaf5" stroke-width="0.80" stroke-linecap="round" fill="none"/>
<path d="M59.2 129.2h0M64.5 129.7h0M59.4 129.8h0M62.2 125.5h0M64.5 125.5h0M64.2 125.9h0M68.8 130.4h0M70.7 131.9h0M72.8 129.6h0" stroke="#ccff1a" stroke-width="0.80" stroke-linecap="round" fill="none"/>
<path d="M78.7 137.0h0M74.4 130.2h0M75.9 138.2h0M75.9 130.4h0M76.0 129.4h0M74.8 132.3h0" stroke="#9a7a1a" stroke-width="0.80" stroke-linecap="round" fill="none"/>
<path d="M83.9 128.0h0M84.1 125.2h0M87.0 125.9h0" stroke="#ffb8a8" stroke-width="0.80" stroke-linecap="round" fill="none"/>
<path d="M87.6 121.9h0M89.9 120.9h0" stroke="#40ffd0" stroke-width="0.80" stroke-linecap="round" fill="none"/>
<text x="78.1" y="116.0" font-size="2.4" text-anchor="middle" fill="#111">C23</text>
<text x="74.4" y="101.5" font-size="2.4" text-anchor="middle" fill="#111">C24</text>
<text x="49.6" y="131.5" font-size="2.4" text-anchor="middle" fill="#111">C18</text>
<text x="45.8" y="136.0" font-size="2.4" text-anchor="middle" fill="#111">C10</text>
<text x="62.6" y="135.8" font-size="2.4" text-anchor="middle" fill="#111">C17</text>
<text x="98.6" y="135.8" font-size="2.4" text-anchor="middle" fill="#111">C11</text>
<text x="51.9" y="149.2" font-size="2.4" text-anchor="middle" fill="#111">C19</text>
<text x="39.1" y="147.3" font-size="2.4" text-anchor="middle" fill="#111">C04</text>
<text x="44.6" y="160.3" font-size="2.4" text-anchor="middle" fill="#111">C04</text>
<text x="60.6" y="161.2" font-size="2.4" text-anchor="middle" fill="#111">C02</text>
<text x="56.0" y="172.4" font-size="2.4" text-anchor="middle" fill="#111">C03</text>
<text x="70.1" y="147.1" font-size="2.4" text-anchor="middle" fill="#111">C15</text>
<text x="75.3" y="156.9" font-size="2.4" text-anchor="middle" fill="#111">C01</text>
<text x="74.2" y="169.1" font-size="2.4" text-anchor="middle" fill="#111">C06</text>
<text x="84.7" y="171.5" font-size="2.4" text-anchor="middle" fill="#111">C08</text>
<text x="96.7" y="171.0" font-size="2.4" text-anchor="middle" fill="#111">C07</text>
<text x="86.9" y="157.1" font-size="2.4" text-anchor="middle" fill="#111">C14</text>
<text x="107.8" y="155.8" font-size="2.4" text-anchor="middle" fill="#111">C13</text>
<text x="106.7" y="148.2" font-size="2.4" text-anchor="middle" fill="#111">C10</text>
<text x="76.9" y="135.2" font-size="2.4" text-anchor="middle" fill="#111">C21</text>
<rect x="13.2" y="205.8" width="138.2" height="138.4" fill="none" stroke="#b4b4b4" stroke-width="0.9"/>
<text x="17.00" y="219.60" font-size="12.3" text-anchor="start" >HC</text>
<rect x="154.0" y="205.8" width="138.2" height="138.4" fill="none" stroke="#b4b4b4" stroke-width="0.9"/>
<text x="157.80" y="219.60" font-size="12.3" text-anchor="start" >GA-A</text>
<rect x="295.2" y="205.8" width="138.2" height="138.4" fill="none" stroke="#b4b4b4" stroke-width="0.9"/>
<text x="299.00" y="219.60" font-size="12.3" text-anchor="start" >GA-I</text>
<defs><clipPath id="c1"><rect x="13.7" y="206.3" width="137.2" height="137.4"/></clipPath><clipPath id="c2"><rect x="154.5" y="206.3" width="137.2" height="137.4"/></clipPath><clipPath id="c3"><rect x="295.7" y="206.3" width="137.2" height="137.4"/></clipPath></defs>
<g clip-path="url(#c1)"><g filter="url(#sp6)"><path d="M63.1 235.6Q61.5 221.8 83.0 223.3Q104.5 224.8 103.0 235.6Q101.4 246.3 90.7 250.9Q79.9 255.5 72.3 252.5Q64.6 249.4 63.1 235.6Z" fill="#ff2020"/></g>
<g filter="url(#sp5)"><path d="M22.5 302.6Q22.5 297.2 33.2 297.2Q43.9 297.2 43.9 302.6Q43.9 308.0 33.2 308.0Q22.5 308.0 22.5 302.6Z" fill="#ff30c0"/></g>
<g filter="url(#sp4)"><path d="M20.9 267.8Q19.4 257.8 31.7 254.7Q43.9 251.7 45.5 260.9Q47.0 270.1 42.4 275.5Q37.8 280.8 30.1 279.3Q22.5 277.8 20.9 267.8Z" fill="#8050d0"/><path d="M29.1 324.7Q26.8 317.0 31.4 315.5Q36.0 314.0 43.7 314.7Q51.4 315.5 57.5 317.8Q63.6 320.1 64.4 324.7Q65.2 329.3 61.3 332.4Q57.5 335.5 49.8 336.2Q42.1 337.0 36.8 334.7Q31.4 332.4 29.1 324.7Z" fill="#33ff33"/></g>
<g filter="url(#sp3)"><path d="M56.8 225.1Q58.4 219.0 61.4 217.5Q64.5 215.9 73.7 215.2Q82.9 214.4 89.1 215.9Q95.2 217.5 101.3 220.5Q107.5 223.6 109.8 226.7Q112.1 229.7 110.5 233.6Q109.0 237.4 105.2 240.5Q101.3 243.5 98.3 247.4Q95.2 251.2 92.1 252.8Q89.1 254.3 86.0 255.8Q82.9 257.4 79.1 258.1Q75.2 258.9 71.4 257.4Q67.6 255.8 64.5 252.8Q61.4 249.7 59.1 245.1Q56.8 240.5 56.1 235.9Q55.3 231.3 56.8 225.1Z" fill="#9a9a7a"/><path d="M14.5 261.6Q15.7 255.5 18.8 251.7Q21.8 247.8 26.5 244.0Q31.1 240.2 37.2 238.6Q43.3 237.1 48.7 237.8Q54.1 238.6 57.1 240.9Q60.2 243.2 61.0 247.1Q61.8 250.9 58.7 254.7Q55.6 258.6 52.5 260.9Q49.5 263.2 47.9 267.8Q46.4 272.4 44.9 276.2Q43.3 280.1 38.7 282.4Q34.1 284.7 29.5 283.9Q24.9 283.1 21.1 280.1Q17.2 277.0 15.2 272.4Q13.3 267.8 14.5 261.6Z" fill="#7c6c9c"/><path d="M85.0 268.6Q85.8 261.7 88.1 256.3Q90.4 250.9 95.0 247.9Q99.6 244.8 105.7 243.2Q111.9 241.7 119.5 241.7Q127.2 241.7 133.4 243.2Q139.5 244.8 144.1 247.9Q148.7 250.9 150.2 255.5Q151.8 260.1 151.0 264.7Q150.2 269.3 147.9 272.4Q145.6 275.5 141.8 277.0Q138.0 278.5 132.6 277.8Q127.2 277.0 123.4 279.3Q119.5 281.6 117.2 284.7Q114.9 287.8 111.9 292.4Q108.8 297.0 104.2 299.3Q99.6 301.6 95.0 299.3Q90.4 297.0 88.1 292.4Q85.8 287.8 85.0 281.6Q84.2 275.5 85.0 268.6Z" fill="#339a9e"/><path d="M83.8 317.6Q83.0 311.5 86.1 306.9Q89.2 302.3 93.0 303.0Q96.8 303.8 99.9 307.6Q103.0 311.5 103.8 317.6Q104.5 323.8 102.2 329.9Q99.9 336.0 96.8 338.3Q93.8 340.6 90.7 338.3Q87.6 336.0 86.1 329.9Q84.6 323.8 83.8 317.6Z" fill="#a86050"/></g>
<g filter="url(#sp2)"><path d="M43.6 269.1Q42.9 263.8 45.9 259.9Q49.0 256.1 53.6 254.6Q58.2 253.0 64.3 253.8Q70.5 254.6 75.1 256.9Q79.7 259.2 81.2 263.0Q82.8 266.8 81.2 271.4Q79.7 276.0 75.9 278.3Q72.0 280.6 66.6 281.4Q61.3 282.2 56.7 280.6Q52.1 279.1 48.2 276.8Q44.4 274.5 43.6 269.1Z" fill="#7a1a6a"/><path d="M30.5 288.6Q30.5 285.5 33.6 282.4Q36.7 279.4 41.3 279.7Q45.9 280.0 48.9 282.7Q52.0 285.5 52.0 289.3Q52.0 293.2 48.9 294.7Q45.9 296.2 41.3 296.2Q36.7 296.2 33.6 293.9Q30.5 291.6 30.5 288.6Z" fill="#2aa83a"/><path d="M99.8 314.6Q99.8 305.4 104.4 302.4Q109.0 299.3 113.6 300.1Q118.2 300.8 122.8 304.7Q127.4 308.5 130.5 313.1Q133.5 317.7 132.0 323.8Q130.5 330.0 125.9 334.6Q121.3 339.2 115.9 340.7Q110.5 342.3 105.9 339.2Q101.3 336.1 100.5 330.0Q99.8 323.8 99.8 314.6Z" fill="#30a8ff"/><path d="M84.7 303.5Q83.9 300.4 87.7 297.3Q91.6 294.3 97.0 294.3Q102.3 294.3 106.9 295.8Q111.5 297.3 112.3 301.2Q113.1 305.0 108.5 307.3Q103.9 309.6 98.5 308.8Q93.1 308.1 89.3 307.3Q85.4 306.5 84.7 303.5Z" fill="#e0306e"/><path d="M113.9 294.1Q115.0 290.2 120.4 287.9Q125.7 285.6 131.9 286.4Q138.0 287.1 141.1 290.2Q144.2 293.3 144.2 297.9Q144.2 302.5 141.1 305.6Q138.0 308.6 131.9 309.4Q125.7 310.2 121.1 307.9Q116.5 305.6 114.7 301.7Q112.9 297.9 113.9 294.1Z" fill="#b4cc88"/><path d="M117.4 279.0Q117.4 276.0 122.0 276.0Q126.7 276.0 126.7 279.0Q126.7 282.1 122.0 282.1Q117.4 282.1 117.4 279.0Z" fill="#ffaaf5"/><path d="M117.3 286.4Q117.3 282.6 122.7 282.6Q128.1 282.6 128.1 286.4Q128.1 290.3 122.7 290.3Q117.3 290.3 117.3 286.4Z" fill="#8050d0"/><path d="M89.5 255.5Q89.5 253.2 91.8 253.2Q94.1 253.2 94.1 255.5Q94.1 257.8 91.8 257.8Q89.5 257.8 89.5 255.5Z" fill="#ffb8a8"/></g>
<g filter="url(#sp1)"><path d="M40.1 309.0Q40.8 306.0 45.4 302.1Q50.0 298.3 55.4 296.8Q60.8 295.2 65.4 296.0Q70.0 296.8 70.8 300.6Q71.5 304.4 69.2 308.3Q66.9 312.1 63.1 314.4Q59.2 316.7 53.1 316.7Q47.0 316.7 43.1 314.4Q39.3 312.1 40.1 309.0Z" fill="#ff2020"/><path d="M65.3 287.9Q64.6 282.5 67.6 279.4Q70.7 276.4 73.8 277.9Q76.8 279.4 78.4 284.1Q79.9 288.7 79.1 292.5Q78.4 296.3 75.3 297.1Q72.2 297.9 69.2 295.6Q66.1 293.3 65.3 287.9Z" fill="#ff9a50"/><path d="M69.4 318.0Q69.9 314.9 73.0 311.9Q76.0 308.8 79.9 308.0Q83.7 307.2 85.3 311.1Q86.8 314.9 86.0 321.1Q85.3 327.2 82.2 328.7Q79.1 330.3 75.3 328.7Q71.4 327.2 70.2 324.1Q69.0 321.1 69.4 318.0Z" fill="#ffcc1a"/><path d="M134.0 269.6Q133.7 266.6 137.5 266.9Q141.3 267.2 141.5 269.9Q141.7 272.7 138.0 272.7Q134.3 272.7 134.0 269.6Z" fill="#d82bff"/><path d="M78.8 266.3Q78.5 259.3 82.3 259.3Q86.2 259.3 85.9 266.3Q85.6 273.2 82.3 273.2Q79.1 273.2 78.8 266.3Z" fill="#9a7a1a"/><path d="M94.9 248.1Q94.9 246.5 96.5 246.5Q98.0 246.5 98.0 248.1Q98.0 249.6 96.5 249.6Q94.9 249.6 94.9 248.1Z" fill="#40ffd0"/></g>
<g filter="url(#sp0)"><path d="M67.7 219.0Q63.9 217.5 65.4 214.4Q67.0 211.4 71.6 210.6Q76.2 209.8 80.8 209.1Q85.4 208.3 87.7 209.8Q90.0 211.4 89.2 214.4Q88.5 217.5 84.6 218.3Q80.8 219.0 76.2 219.8Q71.6 220.6 67.7 219.0Z" fill="#a81a1a"/><path d="M19.1 285.1Q19.1 281.3 24.4 281.3Q29.8 281.3 29.8 285.1Q29.8 288.9 24.4 288.9Q19.1 288.9 19.1 285.1Z" fill="#ff30c0"/><path d="M74.7 299.3Q74.4 296.2 77.4 295.5Q80.5 294.7 82.0 297.0Q83.6 299.3 82.0 301.1Q80.5 303.0 77.7 302.7Q75.0 302.4 74.7 299.3Z" fill="#2b2bff"/><path d="M55.5 256.8Q55.5 254.5 60.1 254.5Q64.7 254.5 64.7 256.8Q64.7 259.1 60.1 259.1Q55.5 259.1 55.5 256.8Z" fill="#ccff1a"/><path d="M67.8 261.5Q67.8 260.0 70.9 260.0Q74.0 260.0 74.0 261.5Q74.0 263.1 70.9 263.1Q67.8 263.1 67.8 261.5Z" fill="#ccff1a"/></g>
<path d="M112.1 232.7h0M86.0 255.3h0M55.8 220.1h0M95.1 248.4h0M57.4 251.1h0M97.6 252.5h0M52.8 241.0h0M60.7 243.4h0M78.3 261.1h0M73.9 262.2h0M85.0 209.7h0M52.6 239.2h0M65.2 252.3h0M71.5 211.0h0M92.2 217.3h0M84.6 213.2h0M62.8 258.4h0M54.9 249.2h0M64.5 255.0h0M94.2 250.4h0M57.3 231.7h0M98.0 248.0h0M96.8 219.3h0M68.6 256.6h0M87.3 254.3h0M110.5 235.6h0M75.8 210.0h0M102.9 248.9h0M62.5 214.8h0M59.2 255.0h0M99.0 244.2h0M56.2 242.9h0M88.7 254.3h0M88.7 254.2h0M66.9 255.7h0M116.8 228.4h0M56.8 231.0h0M56.1 231.1h0M66.4 260.4h0M54.2 246.9h0M54.0 226.6h0M96.2 253.8h0M59.0 254.9h0M59.7 217.9h0" stroke="#9a9a7a" stroke-width="1.00" stroke-linecap="round" fill="none"/>
<path d="M90.5 210.5h0M90.7 215.7h0M77.4 209.9h0M67.5 210.6h0M76.9 210.0h0M90.9 211.9h0M87.0 218.9h0M77.8 208.6h0M89.7 210.1h0M64.8 213.7h0M67.5 212.8h0M64.4 218.0h0M83.9 208.6h0M82.7 218.6h0M79.3 208.3h0M90.7 216.7h0M65.2 217.4h0M63.5 214.4h0M90.9 213.0h0M87.1 207.4h0M87.1 209.3h0M79.7 218.8h0M71.8 209.7h0M65.3 220.1h0M67.2 219.5h0M79.9 218.7h0" stroke="#a81a1a" stroke-width="1.00" stroke-linecap="round" fill="none"/>
<path d="M39.3 281.8h0M28.3 284.7h0M58.6 254.5h0M59.3 253.5h0M17.2 256.2h0M55.1 259.3h0M44.6 282.5h0M37.4 285.6h0M24.5 286.7h0M41.1 282.7h0M55.0 260.4h0M11.7 274.0h0M13.0 267.8h0M62.7 240.0h0M27.8 244.8h0M58.5 240.9h0M30.4 282.5h0M39.7 238.6h0M63.1 244.6h0M48.0 232.2h0M66.3 244.2h0M42.4 235.6h0M49.7 238.1h0M61.6 251.8h0M61.5 253.6h0M60.9 239.3h0M45.3 274.0h0M44.7 232.9h0M14.7 257.0h0M27.5 245.4h0M45.4 276.7h0M22.3 248.8h0M55.8 238.9h0M19.0 253.0h0M16.9 278.4h0M17.8 276.0h0M56.1 257.7h0M45.1 282.2h0M10.2 262.4h0M38.0 281.1h0M9.7 256.9h0M41.3 279.3h0M13.1 273.2h0M55.3 260.9h0" stroke="#7c6c9c" stroke-width="1.00" stroke-linecap="round" fill="none"/>
<path d="M45.1 271.5h0M45.5 274.0h0M35.7 254.2h0M36.0 254.1h0M43.3 273.6h0M19.1 267.9h0M35.3 279.5h0M42.4 276.2h0M47.2 264.9h0M27.5 256.1h0M22.1 277.2h0M18.8 264.8h0M37.0 252.4h0M47.3 267.6h0M42.7 250.1h0M47.5 263.8h0M17.9 267.0h0M45.5 275.8h0M47.2 270.3h0M22.8 272.0h0M28.1 278.4h0M128.0 285.4h0M117.2 286.9h0M128.7 287.0h0M129.3 285.1h0M124.6 291.2h0M117.2 285.7h0M129.1 286.8h0M128.0 283.2h0M116.7 283.1h0M129.3 288.0h0M129.0 284.1h0M123.8 282.2h0" stroke="#8050d0" stroke-width="1.00" stroke-linecap="round" fill="none"/>
<path d="M56.4 281.2h0M81.3 258.3h0M64.3 284.7h0M79.7 275.1h0M49.6 279.2h0M85.5 273.2h0M73.9 282.5h0M40.1 266.4h0M80.4 258.1h0M58.7 280.7h0M41.4 270.2h0M64.1 283.6h0M83.5 259.2h0M74.9 256.9h0M53.6 279.2h0M84.2 273.0h0M68.2 250.8h0M77.2 275.9h0M43.0 265.2h0M69.8 280.7h0M53.2 280.5h0M38.6 262.6h0M64.4 252.9h0M76.1 279.2h0M56.0 251.1h0M83.5 273.7h0M63.6 285.0h0M76.2 257.1h0M56.0 254.0h0M59.4 250.5h0M82.0 259.0h0M44.6 272.0h0M63.8 282.9h0M46.8 258.3h0M45.5 268.8h0M61.7 253.6h0M81.9 277.7h0M48.5 275.3h0M76.7 256.7h0M55.7 281.7h0" stroke="#7a1a6a" stroke-width="1.00" stroke-linecap="round" fill="none"/>
<path d="M110.3 296.5h0M126.5 278.0h0M102.1 301.7h0M86.1 292.7h0M156.1 259.1h0M98.3 306.2h0M84.7 265.0h0M131.5 237.3h0M130.6 277.5h0M95.2 248.8h0M83.1 252.1h0M149.5 265.4h0M121.2 243.3h0M114.7 237.7h0M80.4 290.6h0M148.6 265.9h0M155.9 252.3h0M81.7 294.4h0M118.2 283.6h0M120.6 281.6h0M78.3 268.3h0M87.7 268.9h0M109.2 242.7h0M90.9 300.7h0M142.9 245.9h0M92.7 299.6h0M145.2 275.6h0M103.5 238.3h0M135.5 245.3h0M142.5 276.6h0M101.8 298.5h0M112.1 291.0h0M93.6 307.0h0M152.7 249.2h0M136.1 279.3h0M88.6 257.5h0M93.4 250.4h0M141.4 280.0h0M106.3 298.8h0M118.9 284.7h0M147.8 247.6h0M137.7 279.8h0M133.0 238.2h0M110.5 242.5h0M144.0 276.7h0M143.5 251.1h0M84.9 271.7h0M157.5 266.9h0M159.6 255.8h0M90.5 302.4h0M156.2 258.6h0M111.7 296.1h0M132.2 245.5h0M90.4 254.2h0M123.0 244.0h0M138.3 279.1h0M145.5 279.1h0M143.4 277.0h0M84.9 286.7h0M108.1 301.7h0M154.9 272.7h0" stroke="#339a9e" stroke-width="1.00" stroke-linecap="round" fill="none"/>
<path d="M46.5 295.4h0M39.7 297.2h0M54.0 290.7h0M46.9 295.3h0M46.2 297.6h0M51.1 289.3h0M30.6 284.0h0M54.1 292.7h0M49.3 283.5h0M51.7 285.1h0M51.4 295.1h0M29.9 293.4h0M31.9 283.9h0M47.9 296.9h0M51.3 292.8h0M29.0 288.9h0M47.7 280.1h0M34.8 278.3h0M45.3 279.1h0M53.0 283.6h0M35.5 281.7h0M50.0 295.7h0" stroke="#2aa83a" stroke-width="1.00" stroke-linecap="round" fill="none"/>
<path d="M25.7 281.6h0M18.8 288.4h0M18.7 282.7h0M27.8 289.0h0M31.0 283.2h0M30.1 282.4h0M23.7 289.6h0M19.4 284.8h0M29.4 280.8h0M30.2 284.8h0M30.2 286.4h0M29.9 286.5h0M18.2 284.8h0M27.5 288.8h0M30.6 281.5h0M25.6 308.3h0M38.5 307.9h0M41.4 296.7h0M26.3 296.8h0M33.4 296.7h0M45.5 304.3h0M20.9 305.5h0M20.9 306.4h0M20.2 303.7h0M22.8 308.6h0M21.3 302.7h0M44.2 297.7h0" stroke="#ff30c0" stroke-width="1.00" stroke-linecap="round" fill="none"/>
<path d="M59.8 317.4h0M37.1 312.5h0M70.3 303.6h0M71.7 297.2h0M63.3 316.1h0M50.9 298.9h0M39.1 313.5h0M62.6 295.1h0M68.3 307.9h0M63.5 292.9h0M51.1 317.3h0M49.2 317.1h0M57.2 296.5h0M41.6 307.0h0M69.1 313.7h0M63.9 316.1h0M42.8 317.1h0M59.0 318.4h0M41.0 308.5h0M39.9 309.1h0M54.9 296.5h0M38.1 314.0h0M43.2 302.4h0M46.6 299.0h0M70.3 306.3h0M37.1 310.0h0M54.5 316.9h0M73.2 297.7h0M68.0 310.2h0M45.6 317.8h0M70.3 305.1h0M38.6 312.7h0M55.2 316.5h0M74.1 304.7h0M61.4 251.9h0M59.6 242.6h0M65.3 243.1h0M97.7 248.0h0M74.1 252.3h0M101.1 240.1h0M106.1 236.0h0M64.0 237.7h0M90.5 251.4h0M59.9 232.5h0M75.8 253.9h0M80.0 257.7h0M89.3 254.2h0M71.0 251.6h0M75.9 253.6h0M99.2 248.2h0M66.0 248.8h0M78.2 220.2h0M59.5 224.1h0" stroke="#ff2020" stroke-width="1.00" stroke-linecap="round" fill="none"/>
<path d="M60.6 316.4h0M64.9 323.5h0M34.7 336.8h0M53.1 314.8h0M27.6 330.2h0M63.6 322.7h0M59.0 318.7h0M48.5 337.6h0M68.5 325.4h0M61.0 336.3h0M60.4 336.3h0M30.5 313.0h0M68.3 329.2h0M38.2 335.7h0M28.1 321.0h0M32.6 315.9h0M27.0 323.8h0M42.8 337.7h0M44.9 314.9h0M29.0 316.1h0M59.5 319.2h0M60.5 316.8h0" stroke="#33ff33" stroke-width="1.00" stroke-linecap="round" fill="none"/>
<path d="M73.2 298.0h0M76.6 295.9h0M65.2 279.9h0M65.4 292.7h0M80.3 293.1h0M78.1 278.3h0M67.1 293.9h0M70.4 295.5h0M64.4 288.2h0M69.5 296.9h0M67.5 278.7h0M79.2 288.1h0M72.3 278.1h0M66.0 294.3h0M79.2 296.7h0M71.9 276.7h0M80.8 291.7h0M74.7 278.4h0M66.3 293.5h0M80.7 292.3h0M78.1 298.3h0M78.9 287.5h0" stroke="#ff9a50" stroke-width="1.00" stroke-linecap="round" fill="none"/>
<path d="M82.8 300.2h0M74.4 298.8h0M75.0 300.4h0M78.9 295.4h0M79.2 295.2h0M77.9 303.0h0M74.1 299.8h0M81.4 294.6h0M74.6 299.0h0M80.5 293.7h0M78.7 303.0h0M76.4 296.1h0" stroke="#2b2bff" stroke-width="1.00" stroke-linecap="round" fill="none"/>
<path d="M88.0 318.6h0M84.0 307.6h0M75.2 331.3h0M69.2 326.1h0M86.2 325.4h0M86.3 324.1h0M78.8 309.0h0M87.6 312.5h0M82.9 331.4h0M69.3 318.7h0M87.1 319.6h0M87.5 321.7h0M76.7 330.3h0M74.8 327.5h0M72.0 312.2h0M87.1 311.5h0M70.3 312.9h0M70.5 327.7h0M71.2 326.0h0M69.6 320.8h0M70.1 318.6h0M67.9 316.4h0M87.7 316.3h0M75.8 307.8h0M78.1 329.5h0" stroke="#ffcc1a" stroke-width="1.00" stroke-linecap="round" fill="none"/>
<path d="M84.8 322.5h0M95.3 337.9h0M101.6 334.2h0M91.7 341.5h0M92.5 338.1h0M101.2 336.5h0M85.0 325.6h0M82.6 319.2h0M82.0 311.7h0M84.4 307.8h0M87.4 339.7h0M101.4 339.8h0M96.7 339.5h0M102.0 309.8h0M86.8 330.7h0M82.8 307.9h0M100.4 305.6h0M86.1 329.7h0M98.7 301.0h0M99.0 335.3h0M96.5 342.9h0M90.9 303.0h0M83.7 317.8h0M85.4 334.8h0M100.5 304.8h0M90.4 336.3h0M100.8 333.4h0M89.7 339.3h0M103.8 308.6h0" stroke="#a86050" stroke-width="1.00" stroke-linecap="round" fill="none"/>
<path d="M130.2 307.3h0M106.7 341.2h0M97.0 303.7h0M131.5 325.3h0M133.9 313.9h0M110.6 297.1h0M101.1 317.9h0M102.5 339.2h0M126.8 336.5h0M116.7 300.5h0M101.3 310.3h0M96.7 310.7h0M98.9 340.6h0M124.0 300.2h0M133.7 311.8h0M129.3 313.0h0M132.1 317.1h0M131.4 307.3h0M122.8 336.8h0M111.8 343.4h0M107.2 301.9h0M132.7 310.8h0M109.8 340.7h0M107.9 342.4h0M98.7 310.9h0M112.1 297.8h0M114.4 342.9h0M118.8 297.4h0M120.8 303.1h0M126.5 337.9h0M126.4 303.6h0M99.0 334.4h0M102.6 334.7h0M116.2 339.3h0M97.4 335.4h0M131.4 331.1h0M103.6 338.7h0M110.1 301.3h0M124.9 308.0h0M103.3 338.9h0M96.4 303.3h0M112.5 342.6h0" stroke="#30a8ff" stroke-width="1.00" stroke-linecap="round" fill="none"/>
<path d="M86.1 308.0h0M111.8 296.4h0M113.9 301.4h0M98.2 293.7h0M110.9 299.2h0M95.8 293.0h0M91.9 309.3h0M98.4 309.1h0M103.3 295.3h0M88.5 307.0h0M110.5 297.6h0M83.2 300.5h0M98.0 294.9h0M83.4 307.3h0M93.3 293.0h0M99.7 292.7h0M107.7 308.5h0M110.8 299.4h0M89.4 308.9h0M85.1 303.7h0M93.0 309.5h0M101.2 309.7h0M81.1 301.1h0M104.3 294.8h0" stroke="#e0306e" stroke-width="1.00" stroke-linecap="round" fill="none"/>
<path d="M136.0 286.8h0M121.9 310.7h0M126.6 284.6h0M118.8 306.5h0M141.5 305.8h0M117.4 289.7h0M124.8 312.7h0M139.7 286.4h0M130.9 311.8h0M124.5 308.4h0M128.9 285.9h0M117.9 306.5h0M128.5 309.6h0M124.3 287.3h0M148.0 297.4h0M126.8 283.2h0M137.6 309.4h0M141.4 290.6h0M142.6 293.3h0M140.0 290.7h0M114.0 298.5h0M129.3 284.2h0M114.1 298.3h0M113.6 298.0h0M118.9 308.6h0M146.9 296.0h0M115.7 308.4h0M124.6 287.1h0M114.9 289.6h0M111.5 302.1h0M117.5 307.6h0M118.4 286.7h0" stroke="#b4cc88" stroke-width="1.00" stroke-linecap="round" fill="none"/>
<path d="M133.2 267.7h0M138.0 272.9h0M134.4 266.3h0M133.7 268.8h0M141.7 266.7h0M142.0 268.5h0M140.4 272.5h0M135.9 272.8h0M140.7 267.3h0M141.7 271.9h0" stroke="#d82bff" stroke-width="1.00" stroke-linecap="round" fill="none"/>
<path d="M127.7 282.6h0M125.5 281.9h0M127.5 280.0h0M125.1 276.1h0M120.8 275.6h0M126.3 275.8h0M126.4 282.1h0M124.6 275.5h0M126.4 276.1h0M117.6 276.1h0" stroke="#ffaaf5" stroke-width="1.00" stroke-linecap="round" fill="none"/>
<path d="M55.9 254.6h0M54.9 258.6h0M55.6 255.3h0M61.3 259.6h0M64.4 257.1h0M58.6 259.2h0M59.3 259.1h0M64.4 257.2h0M61.0 254.0h0M63.6 259.5h0M55.0 255.8h0M71.1 260.1h0M69.6 263.0h0M67.1 259.8h0M73.7 263.4h0M73.0 263.3h0M69.0 259.8h0M67.7 263.4h0" stroke="#ccff1a" stroke-width="1.00" stroke-linecap="round" fill="none"/>
<path d="M78.4 266.3h0M78.7 258.3h0M78.3 262.0h0M78.9 271.1h0M84.2 258.4h0M87.0 259.9h0M78.4 262.7h0M78.3 261.9h0M79.6 260.0h0M86.4 263.8h0M78.5 260.6h0M77.9 258.4h0M85.6 272.2h0M82.7 258.5h0M78.1 265.9h0M86.0 271.4h0" stroke="#9a7a1a" stroke-width="1.00" stroke-linecap="round" fill="none"/>
<path d="M93.9 254.7h0M89.1 256.4h0M94.6 252.6h0M92.2 258.0h0M93.6 258.0h0M90.6 257.7h0" stroke="#ffb8a8" stroke-width="1.00" stroke-linecap="round" fill="none"/>
<path d="M98.4 248.3h0M97.9 247.5h0M94.9 247.4h0M97.9 249.1h0" stroke="#40ffd0" stroke-width="1.00" stroke-linecap="round" fill="none"/>
<text x="82.1" y="238.7" font-size="3.4" text-anchor="middle" fill="#111">C23</text>
<text x="77.9" y="215.6" font-size="3.4" text-anchor="middle" fill="#111">C24</text>
<text x="38.2" y="261.2" font-size="3.4" text-anchor="middle" fill="#111">C18</text>
<text x="34.1" y="268.8" font-size="3.4" text-anchor="middle" fill="#111">C10</text>
<text x="63.0" y="269.0" font-size="3.4" text-anchor="middle" fill="#111">C17</text>
<text x="116.8" y="270.9" font-size="3.4" text-anchor="middle" fill="#111">C11</text>
<text x="41.3" y="289.6" font-size="3.4" text-anchor="middle" fill="#111">C19</text>
<text x="24.4" y="286.3" font-size="3.4" text-anchor="middle" fill="#111">C04</text>
<text x="56.2" y="307.7" font-size="3.4" text-anchor="middle" fill="#111">C02</text>
<text x="46.8" y="326.3" font-size="3.4" text-anchor="middle" fill="#111">C03</text>
<text x="72.7" y="289.0" font-size="3.4" text-anchor="middle" fill="#111">C15</text>
<text x="78.8" y="300.3" font-size="3.4" text-anchor="middle" fill="#111">C01</text>
<text x="77.7" y="320.2" font-size="3.4" text-anchor="middle" fill="#111">C06</text>
<text x="93.6" y="322.2" font-size="3.4" text-anchor="middle" fill="#111">C08</text>
<text x="115.1" y="321.5" font-size="3.4" text-anchor="middle" fill="#111">C07</text>
<text x="98.1" y="303.1" font-size="3.4" text-anchor="middle" fill="#111">C14</text>
<text x="128.9" y="299.1" font-size="3.4" text-anchor="middle" fill="#111">C13</text>
<text x="122.7" y="287.6" font-size="3.4" text-anchor="middle" fill="#111">C10</text>
<text x="82.3" y="267.5" font-size="3.4" text-anchor="middle" fill="#111">C21</text></g>
<g clip-path="url(#c2)"><g filter="url(#sp7)"><path d="M208.5 217.5Q204.7 216.0 206.2 212.9Q207.8 209.9 212.4 209.1Q217.0 208.3 221.6 207.6Q226.2 206.8 228.5 208.3Q230.8 209.9 230.0 212.9Q229.3 216.0 225.4 216.8Q221.6 217.5 217.0 218.3Q212.4 219.1 208.5 217.5Z" fill="#a81a1a"/><path d="M203.9 234.1Q202.3 220.3 223.8 221.8Q245.3 223.3 243.8 234.1Q242.2 244.8 231.5 249.4Q220.7 254.0 213.1 251.0Q205.4 247.9 203.9 234.1Z" fill="#ff2020"/></g>
<g filter="url(#sp5)"><path d="M161.7 266.3Q160.2 256.3 172.5 253.2Q184.7 250.2 186.3 259.4Q187.8 268.6 183.2 274.0Q178.6 279.3 170.9 277.8Q163.3 276.3 161.7 266.3Z" fill="#8050d0"/></g>
<g filter="url(#sp3)"><path d="M159.9 283.6Q159.9 279.8 165.2 279.8Q170.6 279.8 170.6 283.6Q170.6 287.4 165.2 287.4Q159.9 287.4 159.9 283.6Z" fill="#ff30c0"/><path d="M258.2 277.5Q258.2 274.5 262.8 274.5Q267.5 274.5 267.5 277.5Q267.5 280.6 262.8 280.6Q258.2 280.6 258.2 277.5Z" fill="#ffaaf5"/><path d="M230.3 254.0Q230.3 251.7 232.6 251.7Q234.9 251.7 234.9 254.0Q234.9 256.3 232.6 256.3Q230.3 256.3 230.3 254.0Z" fill="#ffb8a8"/><path d="M235.7 246.6Q235.7 245.0 237.3 245.0Q238.8 245.0 238.8 246.6Q238.8 248.1 237.3 248.1Q235.7 248.1 235.7 246.6Z" fill="#40ffd0"/></g>
<g filter="url(#sp2)"><path d="M157.9 257.7Q159.0 252.2 161.7 248.8Q164.5 245.4 168.6 242.0Q172.7 238.5 178.2 237.2Q183.7 235.8 188.5 236.5Q193.4 237.2 196.1 239.2Q198.9 241.3 199.5 244.7Q200.2 248.1 197.5 251.5Q194.7 254.9 192.0 257.0Q189.2 259.1 187.9 263.2Q186.5 267.3 185.1 270.7Q183.7 274.1 179.6 276.1Q175.5 278.2 171.3 277.5Q167.2 276.8 163.8 274.1Q160.3 271.4 158.6 267.3Q156.8 263.2 157.9 257.7Z" fill="#7c6c9c"/><path d="M227.8 322.7Q226.9 317.6 230.6 313.8Q234.4 310.1 239.1 310.7Q243.7 311.3 247.5 314.5Q251.2 317.6 252.2 322.7Q253.1 327.7 250.3 332.7Q247.5 337.8 243.7 339.6Q240.0 341.5 236.3 339.6Q232.5 337.8 230.6 332.7Q228.8 327.7 227.8 322.7Z" fill="#a86050"/><path d="M227.5 303.6Q226.8 300.4 230.5 297.2Q234.1 294.0 239.3 294.0Q244.4 294.0 248.8 295.6Q253.2 297.2 254.0 301.2Q254.7 305.2 250.3 307.6Q245.9 310.0 240.8 309.2Q235.6 308.4 231.9 307.6Q228.3 306.8 227.5 303.6Z" fill="#e0306e"/></g>
<g filter="url(#sp1)"><path d="M203.7 222.5Q205.1 216.7 207.7 215.2Q210.4 213.8 218.3 213.0Q226.2 212.3 231.5 213.8Q236.8 215.2 242.1 218.1Q247.4 221.1 249.4 224.0Q251.4 226.9 250.1 230.6Q248.7 234.2 245.4 237.2Q242.1 240.1 239.5 243.7Q236.8 247.4 234.2 248.9Q231.5 250.3 228.9 251.8Q226.2 253.2 222.9 254.0Q219.6 254.7 216.3 253.2Q213.0 251.8 210.4 248.9Q207.7 245.9 205.7 241.5Q203.7 237.2 203.1 232.8Q202.4 228.4 203.7 222.5Z" fill="#9a9a7a"/><path d="M186.7 266.0Q186.1 261.6 188.5 258.5Q191.0 255.3 194.7 254.1Q198.3 252.8 203.2 253.5Q208.1 254.1 211.8 256.0Q215.5 257.8 216.7 261.0Q217.9 264.1 216.7 267.9Q215.5 271.7 212.4 273.5Q209.3 275.4 205.1 276.0Q200.8 276.7 197.1 275.4Q193.4 274.2 190.4 272.3Q187.3 270.4 186.7 266.0Z" fill="#7a1a6a"/><path d="M227.4 263.6Q228.2 257.0 230.3 251.9Q232.4 246.8 236.6 243.8Q240.8 240.9 246.5 239.4Q252.1 238.0 259.2 238.0Q266.2 238.0 271.8 239.4Q277.5 240.9 281.7 243.8Q285.9 246.8 287.3 251.2Q288.8 255.6 288.1 260.0Q287.3 264.4 285.2 267.3Q283.1 270.2 279.6 271.7Q276.1 273.1 271.1 272.4Q266.2 271.7 262.7 273.9Q259.2 276.1 257.0 279.0Q254.9 281.9 252.1 286.3Q249.3 290.7 245.1 292.9Q240.8 295.1 236.6 292.9Q232.4 290.7 230.3 286.3Q228.2 281.9 227.4 276.1Q226.7 270.2 227.4 263.6Z" fill="#339a9e"/><path d="M173.2 286.6Q173.2 283.3 176.5 280.1Q179.7 276.9 184.6 277.2Q189.5 277.6 192.7 280.4Q196.0 283.3 196.0 287.4Q196.0 291.4 192.7 293.0Q189.5 294.6 184.6 294.6Q179.7 294.6 176.5 292.2Q173.2 289.8 173.2 286.6Z" fill="#2aa83a"/><path d="M181.1 309.7Q181.9 305.8 186.4 300.8Q190.9 295.8 196.2 293.8Q201.4 291.8 205.9 292.8Q210.4 293.8 211.2 298.8Q211.9 303.8 209.7 308.7Q207.4 313.7 203.7 316.7Q199.9 319.7 193.9 319.7Q187.9 319.7 184.1 316.7Q180.4 313.7 181.1 309.7Z" fill="#ff2020"/><path d="M202.1 281.9Q201.0 276.7 205.2 273.7Q209.4 270.7 213.7 272.2Q217.9 273.7 220.0 278.2Q222.1 282.7 221.0 286.4Q220.0 290.2 215.8 290.9Q211.6 291.7 207.3 289.4Q203.1 287.2 202.1 281.9Z" fill="#ff9a50"/><path d="M209.2 318.0Q209.8 314.5 213.7 310.9Q217.6 307.4 222.6 306.6Q227.5 305.7 229.4 310.1Q231.4 314.5 230.4 321.5Q229.4 328.5 225.5 330.3Q221.6 332.0 216.7 330.3Q211.7 328.5 210.2 325.0Q208.6 321.5 209.2 318.0Z" fill="#ffcc1a"/><path d="M242.9 317.6Q242.9 309.9 247.1 307.3Q251.4 304.8 255.6 305.4Q259.8 306.1 264.0 309.3Q268.2 312.5 271.1 316.3Q273.9 320.1 272.5 325.3Q271.1 330.4 266.8 334.2Q262.6 338.1 257.7 339.3Q252.8 340.6 248.6 338.1Q244.3 335.5 243.6 330.4Q242.9 325.3 242.9 317.6Z" fill="#30a8ff"/><path d="M251.7 292.8Q252.9 288.5 259.1 285.8Q265.3 283.2 272.3 284.1Q279.4 285.0 282.9 288.5Q286.4 292.0 286.4 297.2Q286.4 302.4 282.9 305.9Q279.4 309.4 272.3 310.3Q265.3 311.2 260.0 308.6Q254.7 305.9 252.6 301.6Q250.5 297.2 251.7 292.8Z" fill="#b4cc88"/><path d="M274.8 268.1Q274.5 265.1 278.3 265.4Q282.1 265.7 282.3 268.4Q282.5 271.2 278.8 271.2Q275.1 271.2 274.8 268.1Z" fill="#d82bff"/><path d="M258.1 284.9Q258.1 281.1 263.5 281.1Q268.9 281.1 268.9 284.9Q268.9 288.8 263.5 288.8Q258.1 288.8 258.1 284.9Z" fill="#8050d0"/></g>
<g filter="url(#sp0)"><path d="M160.8 306.5Q160.8 296.8 173.1 296.8Q185.3 296.8 185.3 306.5Q185.3 316.2 173.1 316.2Q160.8 316.2 160.8 306.5Z" fill="#ff30c0"/><path d="M175.7 323.5Q173.6 315.9 177.7 314.4Q181.9 312.9 188.7 313.6Q195.6 314.4 201.1 316.7Q206.6 318.9 207.3 323.5Q208.0 328.0 204.5 331.1Q201.1 334.1 194.2 334.9Q187.4 335.6 182.6 333.4Q177.7 331.1 175.7 323.5Z" fill="#33ff33"/><path d="M215.6 298.7Q215.2 294.8 219.4 293.8Q223.6 292.9 225.7 295.8Q227.8 298.7 225.7 301.0Q223.6 303.3 219.8 303.0Q216.1 302.6 215.6 298.7Z" fill="#2b2bff"/><path d="M198.1 258.0Q198.1 254.6 205.2 254.6Q212.4 254.6 212.4 258.0Q212.4 261.4 205.2 261.4Q198.1 261.4 198.1 258.0Z" fill="#ccff1a"/><path d="M208.6 260.0Q208.6 258.5 211.7 258.5Q214.8 258.5 214.8 260.0Q214.8 261.6 211.7 261.6Q208.6 261.6 208.6 260.0Z" fill="#ccff1a"/><path d="M217.5 265.0Q217.2 258.8 221.6 258.8Q225.9 258.8 225.6 265.0Q225.2 271.2 221.6 271.2Q217.9 271.2 217.5 265.0Z" fill="#9a7a1a"/></g>
<path d="M251.0 221.1h0M204.8 235.5h0M215.2 251.1h0M231.8 250.4h0M252.2 233.7h0M206.6 239.3h0M208.0 214.8h0M246.2 235.2h0M221.0 210.3h0M236.2 248.4h0M248.4 222.8h0M250.7 230.0h0M217.1 213.4h0M228.9 252.6h0M251.3 229.0h0M204.6 213.8h0M200.2 240.3h0M202.8 247.8h0M217.8 257.9h0M225.0 207.3h0M239.0 242.4h0M249.6 235.3h0M216.9 258.5h0M244.2 236.6h0M253.7 224.6h0M243.2 237.8h0M249.9 237.1h0M204.9 236.6h0M255.7 222.1h0M205.4 223.7h0M214.1 250.8h0M231.2 248.7h0M215.2 253.2h0M252.4 231.2h0M235.1 246.9h0M245.2 236.2h0M246.6 237.6h0M228.1 212.9h0M245.0 216.8h0M208.9 252.2h0M252.1 227.0h0M211.7 210.0h0M210.9 253.9h0M206.1 241.8h0M245.1 242.4h0M256.9 226.8h0M225.9 254.7h0M237.4 248.4h0M203.3 212.8h0M249.2 238.8h0M240.5 243.8h0M215.7 257.6h0M206.9 212.4h0M241.1 213.0h0M216.2 257.7h0M235.8 247.9h0M254.9 228.6h0" stroke="#9a9a7a" stroke-width="1.00" stroke-linecap="round" fill="none"/>
<path d="M204.9 217.7h0M228.7 208.2h0M210.4 208.8h0M228.7 209.2h0M218.5 217.6h0M218.8 207.9h0M204.2 212.7h0M204.0 215.5h0" stroke="#a81a1a" stroke-width="1.00" stroke-linecap="round" fill="none"/>
<path d="M160.4 244.9h0M167.0 238.2h0M200.0 235.4h0M156.7 252.9h0M187.3 265.3h0M175.5 281.3h0M155.6 260.9h0M197.7 246.9h0M185.4 231.3h0M202.6 237.3h0M164.6 244.0h0M199.2 247.9h0M196.0 238.5h0M159.3 267.8h0M195.3 232.5h0M201.4 246.9h0M195.8 239.7h0M182.2 233.0h0M188.0 259.9h0M190.9 238.1h0M192.4 256.3h0M200.2 248.4h0M202.2 248.1h0M155.2 258.4h0M160.1 249.1h0M157.4 266.1h0M201.2 236.3h0M165.0 243.6h0M165.5 278.4h0M160.9 275.4h0M163.9 247.4h0M165.4 274.9h0M172.9 281.8h0M171.5 279.7h0M181.6 233.8h0M194.0 257.4h0M197.1 240.8h0M186.5 234.4h0M181.1 273.7h0M155.3 260.9h0M203.2 242.3h0M169.5 241.7h0M202.7 249.3h0M172.6 236.4h0" stroke="#7c6c9c" stroke-width="1.00" stroke-linecap="round" fill="none"/>
<path d="M181.4 275.0h0M161.3 262.1h0M185.8 251.0h0M187.2 268.6h0M189.0 271.2h0M159.4 264.1h0M185.0 273.0h0M188.7 262.9h0M182.1 276.8h0M182.0 277.1h0M189.3 265.7h0M175.3 252.2h0M181.0 249.9h0M168.9 277.6h0M167.4 276.3h0M174.5 279.8h0M162.2 265.1h0M179.6 279.5h0M177.3 250.8h0M264.5 289.7h0M264.4 281.5h0M265.5 288.7h0M257.1 287.0h0M269.3 288.5h0M257.3 288.5h0M261.8 280.4h0M268.7 287.6h0M265.5 289.4h0M268.5 280.4h0M257.3 283.7h0M258.4 282.1h0M263.4 280.5h0M257.4 287.3h0" stroke="#8050d0" stroke-width="1.00" stroke-linecap="round" fill="none"/>
<path d="M202.8 251.2h0M187.8 258.6h0M194.4 255.4h0M206.0 275.9h0M187.4 273.6h0M216.9 264.2h0M202.3 276.6h0M202.8 253.9h0M191.3 255.7h0M212.4 276.2h0M185.3 268.3h0M216.5 269.8h0M193.4 251.3h0M200.1 252.6h0M196.1 251.3h0M214.8 269.2h0M205.4 278.4h0M207.6 275.4h0M214.4 258.7h0M208.5 275.8h0M194.2 251.1h0M214.3 272.2h0M215.2 256.1h0M184.2 266.9h0M216.7 265.1h0M221.3 263.7h0M184.6 267.6h0M218.9 261.3h0M183.5 267.4h0M212.2 256.9h0M220.9 266.3h0M188.3 268.1h0M202.2 276.5h0" stroke="#7a1a6a" stroke-width="1.00" stroke-linecap="round" fill="none"/>
<path d="M258.2 233.5h0M233.6 250.8h0M233.5 293.0h0M277.8 236.1h0M278.2 244.6h0M281.8 237.6h0M246.4 294.3h0M224.6 293.0h0M288.7 268.3h0M234.6 241.6h0M221.7 254.9h0M232.4 286.0h0M251.7 288.1h0M266.1 272.7h0M263.4 273.3h0M267.3 238.2h0M257.8 277.9h0M262.2 277.2h0M271.4 273.8h0M283.8 269.2h0M259.9 277.9h0M252.0 285.9h0M259.7 231.3h0M280.6 241.2h0M249.6 236.9h0M232.4 300.0h0M248.4 291.7h0M239.8 294.7h0M288.2 270.8h0M225.7 275.3h0M278.3 274.0h0M257.4 278.2h0M233.6 299.7h0M229.2 294.8h0M219.8 269.7h0M261.6 276.5h0M231.8 239.1h0M259.1 276.0h0M262.4 273.0h0M286.5 246.2h0M238.5 245.5h0M238.6 236.9h0M248.3 294.6h0M226.8 286.8h0M273.6 236.8h0M264.3 237.7h0M258.0 281.2h0M235.6 236.1h0M286.2 252.0h0M229.9 284.0h0M227.0 268.0h0M290.7 267.4h0M226.6 277.6h0M281.5 271.5h0M292.9 266.1h0M231.9 242.4h0M277.0 234.3h0M277.9 240.4h0M277.8 271.3h0M235.8 301.6h0M228.3 276.4h0M229.0 241.9h0M226.3 255.2h0M227.6 275.0h0M223.6 250.3h0M292.7 267.3h0M227.0 266.6h0M227.4 259.0h0M274.9 240.6h0M234.7 243.8h0M265.1 235.7h0M236.1 290.0h0M270.0 272.9h0" stroke="#339a9e" stroke-width="1.00" stroke-linecap="round" fill="none"/>
<path d="M191.1 293.4h0M195.2 280.4h0M198.4 291.8h0M173.9 283.6h0M172.6 291.1h0M191.2 279.8h0M172.7 283.7h0M173.1 288.2h0M195.5 290.9h0M171.6 284.5h0M175.7 293.9h0M171.9 284.5h0M195.0 293.9h0M181.7 275.9h0M196.6 285.9h0M177.6 295.3h0M172.3 291.4h0M185.1 294.6h0M196.8 290.7h0M189.6 295.6h0M189.9 277.5h0M184.9 277.9h0M196.5 291.7h0M172.8 287.4h0M175.2 280.2h0" stroke="#2aa83a" stroke-width="1.00" stroke-linecap="round" fill="none"/>
<path d="M170.4 286.1h0M162.0 288.3h0M163.7 287.9h0M158.5 279.0h0M164.6 279.3h0M165.3 287.3h0M160.3 283.5h0M171.2 280.8h0M162.6 279.6h0M171.0 288.0h0M165.9 295.5h0M159.5 312.8h0M161.4 299.9h0M166.3 316.2h0M178.5 294.6h0M165.2 294.7h0M177.6 295.6h0M188.1 309.3h0M185.5 311.3h0M158.8 298.0h0M173.8 297.7h0M173.0 297.3h0M187.5 301.2h0M169.2 295.7h0M179.2 318.2h0M159.6 296.0h0M165.3 296.3h0M160.5 304.3h0M159.1 303.6h0M187.9 312.5h0M187.5 294.7h0M187.8 316.9h0M159.3 298.1h0M160.6 306.3h0M185.7 300.9h0M161.9 296.9h0M184.9 299.7h0M159.4 306.3h0M172.7 296.5h0M181.1 295.0h0M185.0 316.1h0M161.1 316.7h0M181.4 294.5h0M168.3 295.6h0M162.4 316.1h0M178.2 297.2h0" stroke="#ff30c0" stroke-width="1.00" stroke-linecap="round" fill="none"/>
<path d="M200.3 291.9h0M212.0 307.1h0M208.7 292.1h0M182.6 307.9h0M180.1 313.7h0M206.7 294.5h0M181.7 312.7h0M184.3 315.8h0M179.7 311.7h0M214.1 298.4h0M184.9 321.0h0M203.1 319.9h0M201.6 291.8h0M214.0 303.5h0M179.7 312.8h0M211.8 290.3h0M181.3 315.5h0M190.0 298.5h0M213.5 297.8h0M208.4 315.0h0M187.6 320.2h0M203.6 291.7h0M188.4 318.1h0M211.5 307.7h0M198.8 294.0h0M188.8 320.5h0M181.2 314.0h0M202.3 291.5h0M192.0 320.9h0M185.0 320.0h0M182.0 310.4h0M181.5 304.3h0M197.7 322.8h0M213.4 299.4h0M199.1 292.9h0M205.0 317.2h0M200.9 321.3h0M211.9 250.3h0M204.1 235.3h0M217.7 254.4h0M241.7 235.8h0M234.0 247.7h0M208.6 248.3h0M204.4 242.2h0M233.3 251.9h0M207.8 252.2h0M223.6 222.0h0M226.8 253.9h0M233.7 222.2h0M202.7 225.7h0M198.4 221.5h0M243.0 239.7h0M204.8 220.7h0" stroke="#ff2020" stroke-width="1.00" stroke-linecap="round" fill="none"/>
<path d="M177.3 313.9h0M177.6 326.1h0M210.5 322.8h0M180.0 330.9h0M203.2 334.6h0M205.8 316.3h0M210.9 324.9h0M195.6 334.1h0M207.1 332.3h0M174.7 317.6h0M210.9 326.2h0M172.3 318.7h0M209.6 317.4h0M199.6 314.9h0M199.0 333.3h0M200.2 333.1h0M208.2 324.2h0M201.8 333.3h0M197.7 314.6h0M196.1 336.3h0M179.9 312.4h0M173.6 321.0h0M202.8 317.5h0M176.3 322.2h0M198.8 333.7h0M179.4 331.1h0M180.6 335.5h0M174.5 321.8h0M206.4 329.8h0M206.0 319.7h0M194.3 335.5h0M203.4 316.8h0M184.8 333.2h0M206.1 322.7h0M179.7 331.9h0M171.3 319.0h0M208.4 329.4h0M174.4 323.7h0M205.3 317.1h0M169.8 314.0h0" stroke="#33ff33" stroke-width="1.00" stroke-linecap="round" fill="none"/>
<path d="M219.1 273.7h0M213.8 270.7h0M203.8 288.5h0M200.6 286.9h0M223.1 282.1h0M222.5 286.4h0M219.8 279.7h0M217.7 275.3h0M222.8 280.0h0M207.1 290.1h0M206.7 289.1h0M200.7 277.9h0M214.4 272.3h0M210.7 269.0h0M221.1 282.5h0M223.5 285.3h0M202.6 279.6h0M220.5 278.8h0M202.9 276.0h0M212.2 293.6h0M209.3 290.6h0M207.7 288.7h0M217.9 274.3h0M212.6 272.8h0M211.3 271.0h0M217.0 291.7h0" stroke="#ff9a50" stroke-width="1.00" stroke-linecap="round" fill="none"/>
<path d="M214.6 297.3h0M214.4 296.9h0M213.9 294.0h0M217.6 303.1h0M222.9 303.8h0M218.1 302.3h0M219.0 293.8h0M224.5 292.0h0M222.4 293.3h0M224.7 294.0h0M219.2 294.3h0M223.3 304.3h0M215.1 294.3h0M216.1 301.1h0M214.6 300.4h0M221.5 293.7h0" stroke="#2b2bff" stroke-width="1.00" stroke-linecap="round" fill="none"/>
<path d="M223.1 305.0h0M233.0 311.8h0M232.9 311.9h0M207.4 321.1h0M232.7 310.8h0M208.7 327.8h0M209.4 330.1h0M207.5 318.5h0M227.0 329.0h0M208.5 323.8h0M216.7 329.3h0M213.7 311.0h0M226.0 304.3h0M216.5 307.6h0M228.2 309.3h0M211.6 326.2h0M210.4 313.2h0M213.2 311.3h0M206.6 318.9h0M224.9 330.7h0M223.4 334.5h0M227.0 330.1h0M209.9 330.9h0M232.4 319.9h0M210.8 327.6h0M210.4 327.1h0M213.4 308.1h0M217.1 330.8h0M214.2 329.5h0M229.8 329.4h0M208.3 318.6h0" stroke="#ffcc1a" stroke-width="1.00" stroke-linecap="round" fill="none"/>
<path d="M234.8 309.5h0M251.5 336.1h0M253.2 317.1h0M244.7 342.4h0M249.0 337.3h0M251.5 335.1h0M228.5 331.7h0M224.8 317.5h0M224.7 315.8h0M233.0 308.8h0M250.1 314.3h0M250.6 313.7h0M241.5 343.0h0M239.7 340.1h0M227.3 327.4h0M242.9 310.1h0M245.3 310.8h0M227.4 314.7h0M227.6 312.7h0M246.5 338.1h0M253.6 330.6h0M231.7 337.2h0M236.6 343.2h0M247.0 312.2h0M228.9 324.5h0M238.3 311.4h0M253.4 324.3h0M251.8 333.1h0M236.1 310.1h0M225.9 319.8h0M252.0 314.9h0" stroke="#a86050" stroke-width="1.00" stroke-linecap="round" fill="none"/>
<path d="M255.1 341.9h0M244.8 329.1h0M269.1 308.7h0M241.6 337.0h0M250.1 301.9h0M272.0 329.0h0M243.5 323.9h0M241.4 315.5h0M244.1 310.1h0M243.8 334.7h0M244.2 329.3h0M261.1 307.8h0M273.8 325.0h0M253.3 303.0h0M271.6 319.4h0M260.8 342.2h0M277.1 323.0h0M268.5 334.0h0M247.5 304.8h0M239.9 320.2h0M246.4 305.0h0M267.9 333.7h0M247.7 336.1h0M256.9 303.2h0M274.5 323.6h0M241.9 336.2h0M243.5 324.0h0M271.0 317.5h0M261.4 306.0h0M270.2 313.1h0M266.3 311.6h0M250.0 340.1h0M245.2 333.4h0M249.4 302.1h0M240.1 330.1h0M252.5 303.8h0M273.8 317.1h0M257.6 339.1h0M245.6 304.2h0M248.1 340.3h0" stroke="#30a8ff" stroke-width="1.00" stroke-linecap="round" fill="none"/>
<path d="M231.6 294.9h0M229.6 296.5h0M228.2 308.2h0M235.4 293.4h0M226.8 305.0h0M255.4 304.3h0M256.7 303.3h0M236.7 309.8h0M224.0 301.9h0M226.5 305.2h0M255.6 298.5h0M245.2 293.2h0M255.3 296.3h0M227.7 301.6h0M246.7 311.4h0M224.7 302.5h0M256.4 299.2h0M257.0 299.3h0M230.4 307.2h0M255.7 306.7h0M246.6 293.3h0M244.3 311.0h0M246.7 311.9h0" stroke="#e0306e" stroke-width="1.00" stroke-linecap="round" fill="none"/>
<path d="M285.0 298.5h0M277.6 312.4h0M290.2 293.0h0M260.6 285.9h0M263.5 311.2h0M256.4 287.4h0M260.4 308.2h0M287.2 302.1h0M288.9 289.8h0M260.5 283.6h0M284.0 302.9h0M248.9 296.3h0M284.4 284.4h0M278.1 284.3h0M282.3 304.8h0M248.6 302.5h0M281.5 311.8h0M262.1 310.4h0M274.5 285.5h0M252.7 298.9h0M252.0 285.8h0M290.1 302.9h0M262.3 284.5h0M282.1 312.0h0M255.0 307.2h0M286.1 289.1h0M253.2 306.8h0M250.9 295.8h0M250.6 305.9h0M275.6 311.3h0M276.7 311.6h0M280.7 306.3h0M285.2 294.2h0M250.1 289.1h0M252.3 293.1h0M267.2 283.7h0M263.4 314.1h0M280.5 306.3h0M265.2 310.0h0" stroke="#b4cc88" stroke-width="1.00" stroke-linecap="round" fill="none"/>
<path d="M274.6 266.2h0M282.0 271.3h0M282.1 266.7h0M278.5 271.4h0M274.3 271.5h0M274.1 265.5h0M276.5 271.1h0M282.0 271.8h0M276.2 265.3h0M278.0 265.1h0" stroke="#d82bff" stroke-width="1.00" stroke-linecap="round" fill="none"/>
<path d="M267.6 274.6h0M265.4 274.8h0M264.5 274.4h0M257.7 280.4h0M260.2 274.4h0M267.3 275.6h0M263.1 280.8h0M260.5 280.4h0M267.4 277.4h0" stroke="#ffaaf5" stroke-width="1.00" stroke-linecap="round" fill="none"/>
<path d="M201.6 262.2h0M196.8 255.0h0M209.4 261.9h0M198.7 260.0h0M206.6 254.6h0M202.9 261.7h0M197.3 256.7h0M198.4 261.5h0M206.6 261.8h0M208.7 253.9h0M209.5 254.4h0M196.5 260.7h0M203.5 254.6h0M198.6 262.1h0M211.8 256.5h0M198.7 258.0h0M198.3 260.0h0M214.7 259.8h0M212.6 258.4h0M208.5 259.5h0M211.2 261.9h0M208.4 259.4h0M208.2 261.1h0M209.6 261.5h0" stroke="#ccff1a" stroke-width="1.00" stroke-linecap="round" fill="none"/>
<path d="M225.1 267.3h0M217.8 267.4h0M216.9 269.4h0M217.2 262.4h0M217.2 267.2h0M218.0 267.3h0M222.2 257.8h0M226.2 258.3h0M225.7 268.9h0M217.7 269.7h0M217.1 262.3h0M222.6 271.9h0M216.9 267.4h0M218.1 269.4h0M225.2 270.5h0M221.0 271.5h0M217.8 262.8h0" stroke="#9a7a1a" stroke-width="1.00" stroke-linecap="round" fill="none"/>
<path d="M229.9 251.7h0M230.5 256.8h0M230.6 251.3h0M233.3 256.2h0M232.3 256.5h0" stroke="#ffb8a8" stroke-width="1.00" stroke-linecap="round" fill="none"/>
<path d="M235.7 246.6h0M236.9 248.3h0M235.7 248.2h0" stroke="#40ffd0" stroke-width="1.00" stroke-linecap="round" fill="none"/>
<text x="225.6" y="235.5" font-size="3.4" text-anchor="middle" fill="#111">C23</text>
<text x="179.1" y="257.4" font-size="3.4" text-anchor="middle" fill="#111">C18</text>
<text x="174.9" y="267.3" font-size="3.4" text-anchor="middle" fill="#111">C10</text>
<text x="202.1" y="266.1" font-size="3.4" text-anchor="middle" fill="#111">C17</text>
<text x="256.6" y="265.9" font-size="3.4" text-anchor="middle" fill="#111">C11</text>
<text x="184.6" y="287.6" font-size="3.4" text-anchor="middle" fill="#111">C19</text>
<text x="165.2" y="284.8" font-size="3.4" text-anchor="middle" fill="#111">C04</text>
<text x="173.1" y="307.7" font-size="3.4" text-anchor="middle" fill="#111">C04</text>
<text x="196.9" y="307.6" font-size="3.4" text-anchor="middle" fill="#111">C02</text>
<text x="191.5" y="325.1" font-size="3.4" text-anchor="middle" fill="#111">C03</text>
<text x="212.2" y="283.0" font-size="3.4" text-anchor="middle" fill="#111">C15</text>
<text x="221.2" y="299.6" font-size="3.4" text-anchor="middle" fill="#111">C01</text>
<text x="219.7" y="320.3" font-size="3.4" text-anchor="middle" fill="#111">C06</text>
<text x="239.8" y="326.7" font-size="3.4" text-anchor="middle" fill="#111">C08</text>
<text x="257.0" y="323.5" font-size="3.4" text-anchor="middle" fill="#111">C07</text>
<text x="240.4" y="303.2" font-size="3.4" text-anchor="middle" fill="#111">C14</text>
<text x="268.9" y="298.4" font-size="3.4" text-anchor="middle" fill="#111">C13</text>
<text x="263.5" y="286.1" font-size="3.4" text-anchor="middle" fill="#111">C10</text>
<text x="221.6" y="266.2" font-size="3.4" text-anchor="middle" fill="#111">C21</text></g>
<g clip-path="url(#c3)"><g filter="url(#sp7)"><path d="M345.1 234.1Q343.5 220.3 365.0 221.8Q386.5 223.3 385.0 234.1Q383.4 244.8 372.7 249.4Q361.9 254.0 354.3 251.0Q346.6 247.9 345.1 234.1Z" fill="#ff2020"/></g>
<g filter="url(#sp5)"><path d="M302.9 266.3Q301.4 256.3 313.7 253.2Q325.9 250.2 327.5 259.4Q329.0 268.6 324.4 274.0Q319.8 279.3 312.1 277.8Q304.5 276.3 302.9 266.3Z" fill="#8050d0"/></g>
<g filter="url(#sp3)"><path d="M301.1 283.6Q301.1 279.8 306.4 279.8Q311.8 279.8 311.8 283.6Q311.8 287.4 306.4 287.4Q301.1 287.4 301.1 283.6Z" fill="#ff30c0"/><path d="M399.4 277.5Q399.4 274.5 404.0 274.5Q408.7 274.5 408.7 277.5Q408.7 280.6 404.0 280.6Q399.4 280.6 399.4 277.5Z" fill="#ffaaf5"/><path d="M334.9 256.5Q334.9 251.4 343.8 251.4Q352.6 251.4 352.6 256.5Q352.6 261.6 343.8 261.6Q334.9 261.6 334.9 256.5Z" fill="#ccff1a"/><path d="M371.5 254.0Q371.5 251.7 373.8 251.7Q376.1 251.7 376.1 254.0Q376.1 256.3 373.8 256.3Q371.5 256.3 371.5 254.0Z" fill="#ffb8a8"/><path d="M376.9 246.6Q376.9 245.0 378.5 245.0Q380.0 245.0 380.0 246.6Q380.0 248.1 378.5 248.1Q376.9 248.1 376.9 246.6Z" fill="#40ffd0"/></g>
<g filter="url(#sp2)"><path d="M297.6 257.9Q298.7 252.6 301.4 249.4Q304.2 246.1 308.4 242.8Q312.5 239.5 318.1 238.2Q323.6 236.8 328.5 237.5Q333.3 238.2 336.1 240.1Q338.9 242.1 339.5 245.4Q340.2 248.7 337.5 252.0Q334.7 255.3 331.9 257.2Q329.2 259.2 327.8 263.2Q326.4 267.1 325.0 270.4Q323.6 273.7 319.5 275.7Q315.3 277.7 311.1 277.0Q307.0 276.3 303.5 273.7Q300.1 271.1 298.3 267.1Q296.5 263.2 297.6 257.9Z" fill="#7c6c9c"/><path d="M367.8 322.7Q366.9 317.6 370.6 313.8Q374.4 310.1 379.1 310.7Q383.7 311.3 387.5 314.5Q391.2 317.6 392.2 322.7Q393.1 327.7 390.3 332.7Q387.5 337.8 383.7 339.6Q380.0 341.5 376.3 339.6Q372.5 337.8 370.6 332.7Q368.8 327.7 367.8 322.7Z" fill="#a86050"/><path d="M366.0 303.6Q365.2 300.4 369.1 297.2Q373.0 294.0 378.4 294.0Q383.9 294.0 388.6 295.6Q393.3 297.2 394.0 301.2Q394.8 305.2 390.1 307.6Q385.5 310.0 380.0 309.2Q374.5 308.4 370.6 307.6Q366.7 306.8 366.0 303.6Z" fill="#e0306e"/></g>
<g filter="url(#sp1)"><path d="M343.9 227.0Q345.2 222.2 347.8 221.0Q350.3 219.8 358.0 219.2Q365.6 218.6 370.7 219.8Q375.8 221.0 380.9 223.4Q386.0 225.8 387.9 228.2Q389.8 230.6 388.6 233.6Q387.3 236.7 384.1 239.1Q380.9 241.5 378.4 244.5Q375.8 247.5 373.3 248.7Q370.7 249.9 368.2 251.1Q365.6 252.3 362.4 252.9Q359.2 253.5 356.1 252.3Q352.9 251.1 350.3 248.7Q347.8 246.3 345.9 242.7Q343.9 239.1 343.3 235.4Q342.7 231.8 343.9 227.0Z" fill="#9a9a7a"/><path d="M323.5 266.9Q322.8 262.8 325.5 259.8Q328.1 256.8 332.0 255.6Q336.0 254.4 341.2 255.0Q346.5 255.6 350.4 257.4Q354.3 259.2 355.7 262.2Q357.0 265.2 355.7 268.7Q354.3 272.3 351.1 274.1Q347.8 275.9 343.2 276.5Q338.6 277.1 334.6 275.9Q330.7 274.7 327.4 272.9Q324.1 271.1 323.5 266.9Z" fill="#7a1a6a"/><path d="M367.4 262.7Q368.2 255.9 370.3 250.7Q372.4 245.4 376.6 242.4Q380.8 239.4 386.5 237.8Q392.1 236.3 399.2 236.3Q406.2 236.3 411.8 237.8Q417.5 239.4 421.7 242.4Q425.9 245.4 427.3 249.9Q428.8 254.4 428.1 259.0Q427.3 263.5 425.2 266.5Q423.1 269.5 419.6 271.0Q416.1 272.5 411.1 271.8Q406.2 271.0 402.7 273.3Q399.2 275.6 397.0 278.6Q394.9 281.6 392.1 286.1Q389.3 290.6 385.1 292.9Q380.8 295.2 376.6 292.9Q372.4 290.6 370.3 286.1Q368.2 281.6 367.4 275.6Q366.7 269.5 367.4 262.7Z" fill="#339a9e"/><path d="M314.7 286.6Q314.7 283.3 317.7 280.1Q320.8 276.9 325.3 277.2Q329.8 277.6 332.9 280.4Q335.9 283.3 335.9 287.4Q335.9 291.4 332.9 293.0Q329.8 294.6 325.3 294.6Q320.8 294.6 317.7 292.2Q314.7 289.8 314.7 286.6Z" fill="#2aa83a"/><path d="M322.6 309.7Q323.4 305.8 327.9 300.8Q332.4 295.8 337.6 293.8Q342.9 291.8 347.4 292.8Q351.9 293.8 352.7 298.8Q353.4 303.8 351.2 308.7Q348.9 313.7 345.2 316.7Q341.4 319.7 335.4 319.7Q329.4 319.7 325.6 316.7Q321.9 313.7 322.6 309.7Z" fill="#ff2020"/><path d="M342.1 285.0Q341.0 279.7 345.2 276.7Q349.4 273.7 353.7 275.2Q357.9 276.7 360.0 281.2Q362.1 285.8 361.0 289.5Q360.0 293.3 355.8 294.0Q351.6 294.8 347.3 292.5Q343.1 290.3 342.1 285.0Z" fill="#ff9a50"/><path d="M350.7 318.0Q351.3 314.5 355.2 310.9Q359.1 307.4 364.1 306.6Q369.0 305.7 370.9 310.1Q372.9 314.5 371.9 321.5Q370.9 328.5 367.0 330.3Q363.1 332.0 358.2 330.3Q353.2 328.5 351.7 325.0Q350.1 321.5 350.7 318.0Z" fill="#ffcc1a"/><path d="M381.4 316.4Q381.4 308.3 385.8 305.6Q390.3 302.9 394.7 303.6Q399.1 304.3 403.6 307.6Q408.0 311.0 411.0 315.1Q413.9 319.1 412.4 324.5Q411.0 329.9 406.5 333.9Q402.1 338.0 396.9 339.3Q391.7 340.7 387.3 338.0Q382.9 335.3 382.1 329.9Q381.4 324.5 381.4 316.4Z" fill="#30a8ff"/><path d="M394.8 292.8Q395.9 288.5 401.5 285.8Q407.1 283.2 413.5 284.1Q419.9 285.0 423.1 288.5Q426.3 292.0 426.3 297.2Q426.3 302.4 423.1 305.9Q419.9 309.4 413.5 310.3Q407.1 311.2 402.3 308.6Q397.5 305.9 395.6 301.6Q393.7 297.2 394.8 292.8Z" fill="#b4cc88"/><path d="M416.0 268.1Q415.7 265.1 419.5 265.4Q423.3 265.7 423.5 268.4Q423.7 271.2 420.0 271.2Q416.3 271.2 416.0 268.1Z" fill="#d82bff"/><path d="M399.3 284.9Q399.3 281.1 404.7 281.1Q410.1 281.1 410.1 284.9Q410.1 288.8 404.7 288.8Q399.3 288.8 399.3 284.9Z" fill="#8050d0"/></g>
<g filter="url(#sp0)"><path d="M302.4 306.5Q302.4 296.8 313.8 296.8Q325.2 296.8 325.2 306.5Q325.2 316.2 313.8 316.2Q302.4 316.2 302.4 306.5Z" fill="#ff30c0"/><path d="M315.7 323.5Q313.6 315.9 317.7 314.4Q321.9 312.9 328.7 313.6Q335.6 314.4 341.1 316.7Q346.6 318.9 347.3 323.5Q348.0 328.0 344.5 331.1Q341.1 334.1 334.2 334.9Q327.4 335.6 322.6 333.4Q317.7 331.1 315.7 323.5Z" fill="#33ff33"/><path d="M355.6 298.7Q355.2 294.8 359.4 293.8Q363.6 292.9 365.7 295.8Q367.8 298.7 365.7 301.0Q363.6 303.3 359.8 303.0Q356.1 302.6 355.6 298.7Z" fill="#2b2bff"/><path d="M349.8 260.0Q349.8 258.5 352.9 258.5Q356.0 258.5 356.0 260.0Q356.0 261.6 352.9 261.6Q349.8 261.6 349.8 260.0Z" fill="#ccff1a"/><path d="M358.8 264.2Q358.4 257.1 363.0 257.1Q367.6 257.1 367.2 264.2Q366.8 271.3 363.0 271.3Q359.2 271.3 358.8 264.2Z" fill="#9a7a1a"/></g>
<path d="M366.1 250.9h0M368.9 252.1h0M388.6 229.4h0M345.2 220.8h0M341.1 218.4h0M342.1 227.1h0M347.9 243.1h0M358.6 216.8h0M381.5 241.4h0M353.1 251.1h0M361.4 256.0h0M390.5 234.8h0M344.0 234.3h0M391.7 233.5h0M382.2 239.3h0M347.7 246.0h0M371.7 249.6h0M352.5 252.6h0M343.4 235.1h0M381.1 224.7h0M341.3 228.9h0M384.6 226.0h0M350.5 219.0h0M346.4 222.1h0M347.5 216.8h0M357.0 214.9h0M370.1 215.3h0M351.6 247.7h0M373.2 248.2h0M343.3 232.3h0M383.6 222.0h0M380.3 243.3h0M347.1 220.8h0M340.3 241.2h0M343.4 247.9h0M378.8 245.1h0M366.9 253.2h0M363.1 219.9h0M389.4 226.5h0M342.6 246.3h0M369.6 217.0h0M379.5 220.7h0M339.7 221.1h0M376.1 247.8h0M389.8 229.1h0M345.0 220.9h0M343.1 239.5h0M374.5 250.3h0M388.6 233.8h0M367.7 220.5h0M345.6 229.0h0" stroke="#9a9a7a" stroke-width="1.00" stroke-linecap="round" fill="none"/>
<path d="M331.4 257.7h0M343.1 242.7h0M339.0 241.7h0M344.4 247.4h0M319.7 277.4h0M338.8 238.0h0M338.9 250.2h0M299.0 270.3h0M324.7 269.4h0M323.7 270.7h0M296.4 249.8h0M332.2 236.0h0M337.3 255.3h0M335.9 237.2h0M323.7 271.5h0M310.2 279.3h0M337.8 244.9h0M295.7 255.8h0M300.8 244.0h0M323.2 237.9h0M323.0 277.0h0M329.8 258.8h0M298.4 275.2h0M323.9 271.1h0M300.7 252.1h0M294.6 272.5h0M339.4 247.3h0M324.3 273.6h0M339.1 245.9h0M326.7 266.6h0M293.0 256.2h0M322.7 274.8h0M301.7 278.8h0M334.6 256.9h0M303.2 272.2h0M337.8 245.7h0M341.2 246.3h0M319.1 237.1h0M331.7 239.7h0M335.1 240.6h0M297.2 269.0h0M299.6 248.2h0M335.1 254.1h0M330.6 259.5h0M335.7 255.1h0" stroke="#7c6c9c" stroke-width="1.00" stroke-linecap="round" fill="none"/>
<path d="M310.8 253.5h0M319.6 251.1h0M320.7 281.1h0M322.1 275.8h0M320.5 249.0h0M311.7 277.0h0M311.2 252.0h0M326.8 269.5h0M301.4 264.0h0M330.7 265.8h0M326.5 271.5h0M303.4 278.9h0M300.6 271.4h0M305.5 253.5h0M302.3 274.2h0M327.3 262.7h0M319.8 278.2h0M305.1 274.1h0M319.8 248.5h0M409.9 288.6h0M410.6 288.5h0M405.4 288.9h0M401.0 289.6h0M406.0 289.4h0M398.2 282.7h0M409.7 282.2h0M405.7 280.7h0M401.3 281.3h0M410.1 283.0h0M406.7 289.1h0M406.5 288.8h0M398.2 288.9h0M411.2 286.4h0" stroke="#8050d0" stroke-width="1.00" stroke-linecap="round" fill="none"/>
<path d="M324.2 270.8h0M332.6 278.2h0M320.6 272.2h0M324.5 265.1h0M337.9 254.8h0M323.8 256.7h0M355.2 265.1h0M350.3 276.0h0M329.0 272.6h0M320.6 261.2h0M358.8 270.7h0M331.1 275.4h0M347.1 276.2h0M324.7 265.2h0M337.8 252.6h0M329.8 256.9h0M327.2 271.9h0M349.1 274.8h0M341.6 254.0h0M324.0 274.0h0M353.0 258.6h0M329.0 275.3h0M337.0 253.9h0M328.9 255.5h0M354.0 270.4h0M348.5 254.9h0M350.8 273.6h0M332.2 275.4h0M323.6 274.3h0M343.5 255.7h0M336.0 275.3h0M326.4 260.5h0M354.8 261.4h0M324.8 268.1h0M349.8 277.3h0M330.1 254.4h0" stroke="#7a1a6a" stroke-width="1.00" stroke-linecap="round" fill="none"/>
<path d="M396.5 278.0h0M361.4 256.1h0M361.9 253.7h0M408.4 271.0h0M408.0 272.0h0M410.0 239.0h0M431.8 267.3h0M360.9 260.4h0M396.3 279.0h0M426.2 266.0h0M419.4 233.5h0M424.0 272.7h0M373.7 300.2h0M390.1 292.3h0M423.8 264.5h0M428.3 262.6h0M433.7 259.2h0M369.7 284.2h0M433.2 252.8h0M368.2 269.4h0M410.6 272.6h0M412.1 271.8h0M390.7 287.2h0M395.2 282.8h0M393.2 237.9h0M419.6 238.8h0M409.3 239.1h0M404.6 273.4h0M377.8 302.5h0M433.6 251.3h0M414.4 271.8h0M428.9 239.8h0M383.2 296.7h0M375.7 246.5h0M400.4 277.4h0M381.4 296.9h0M413.1 239.2h0M370.8 240.1h0M433.5 242.1h0M370.8 258.1h0M428.7 265.1h0M431.6 239.7h0M390.8 287.3h0M436.3 251.5h0M393.9 285.6h0M432.3 264.7h0M425.3 257.1h0M420.5 271.4h0M420.2 242.5h0M375.4 235.5h0M389.7 239.8h0M406.9 271.9h0M370.3 287.2h0M369.5 295.8h0M433.8 255.7h0M405.5 238.5h0M393.3 236.7h0M418.5 235.3h0M384.0 295.2h0M364.4 287.8h0M377.9 242.9h0M412.8 272.7h0M371.0 250.1h0M367.2 260.5h0M366.5 288.6h0M363.6 286.6h0M378.3 292.7h0M420.2 273.3h0M411.5 272.6h0M425.1 271.5h0M392.9 288.1h0M372.7 244.7h0M366.0 264.4h0M434.6 258.8h0" stroke="#339a9e" stroke-width="1.00" stroke-linecap="round" fill="none"/>
<path d="M331.5 278.5h0M325.7 276.7h0M318.2 280.7h0M325.6 275.4h0M337.8 283.1h0M333.3 280.4h0M330.0 294.2h0M336.7 281.9h0M335.1 282.2h0M313.1 289.1h0M312.8 282.3h0M319.5 293.3h0M329.2 296.4h0M317.5 279.0h0M312.8 288.9h0M314.1 284.8h0M324.9 276.1h0M317.6 294.0h0M320.5 295.7h0M322.0 294.3h0M324.6 295.1h0M335.5 285.0h0M320.9 277.9h0M328.8 294.0h0" stroke="#2aa83a" stroke-width="1.00" stroke-linecap="round" fill="none"/>
<path d="M302.9 279.4h0M309.7 287.9h0M303.7 279.7h0M311.6 286.8h0M303.9 287.2h0M301.2 280.5h0M301.1 283.3h0M311.6 284.4h0M300.9 282.6h0M300.0 285.4h0M303.0 315.4h0M316.5 295.0h0M308.6 295.7h0M321.8 297.3h0M302.0 301.9h0M307.7 316.1h0M307.0 317.6h0M327.9 310.0h0M303.1 311.4h0M302.1 313.6h0M311.1 296.4h0M326.0 295.4h0M324.1 310.1h0M324.3 317.1h0M326.4 309.5h0M323.5 317.2h0M303.1 310.5h0M325.7 312.8h0M300.1 301.0h0M299.7 309.8h0M306.7 295.4h0M325.5 310.1h0M320.6 295.3h0M302.0 317.6h0M322.2 296.0h0M325.5 315.1h0M302.2 304.2h0M322.2 316.0h0M306.9 315.3h0M316.8 316.7h0M326.6 299.1h0M301.4 302.8h0M325.7 306.5h0M300.8 311.0h0M309.8 295.8h0" stroke="#ff30c0" stroke-width="1.00" stroke-linecap="round" fill="none"/>
<path d="M328.8 300.7h0M323.0 310.0h0M351.3 296.3h0M321.1 312.0h0M321.6 304.4h0M350.7 313.4h0M347.0 317.0h0M356.1 301.2h0M328.1 297.7h0M319.0 311.5h0M331.0 293.1h0M336.1 322.2h0M322.5 309.8h0M350.0 292.4h0M323.4 305.6h0M327.5 300.7h0M330.8 299.2h0M355.9 302.1h0M331.7 293.1h0M354.1 294.8h0M355.8 299.3h0M338.1 320.5h0M320.5 304.9h0M340.5 292.5h0M354.6 307.2h0M348.3 317.6h0M331.6 297.5h0M333.6 321.7h0M352.7 294.6h0M352.2 291.1h0M340.5 319.8h0M335.3 319.7h0M326.2 302.4h0M337.3 319.7h0M355.5 294.3h0M329.9 295.0h0M324.9 314.4h0M384.1 246.9h0M353.9 254.3h0M346.0 249.2h0M361.0 254.2h0M351.1 250.6h0M357.9 256.4h0M386.8 228.5h0M369.8 223.3h0M358.6 219.0h0M385.3 226.1h0M385.6 226.2h0M378.7 247.0h0M351.7 219.9h0M341.3 237.5h0M386.3 226.7h0M363.5 222.8h0" stroke="#ff2020" stroke-width="1.00" stroke-linecap="round" fill="none"/>
<path d="M315.2 330.1h0M336.8 312.4h0M318.7 331.9h0M313.5 325.0h0M314.1 318.1h0M327.1 334.4h0M326.6 313.1h0M320.1 314.2h0M313.5 324.3h0M338.7 337.0h0M345.1 316.5h0M337.5 315.1h0M338.1 314.2h0M329.1 337.9h0M322.3 335.4h0M329.1 336.5h0M336.9 312.8h0M320.4 310.3h0M347.8 320.2h0M316.3 313.1h0M311.6 313.7h0M338.8 333.3h0M317.4 313.3h0M342.2 335.1h0M320.7 312.3h0M335.9 312.4h0M333.6 314.7h0M348.1 329.9h0M333.7 335.2h0M345.9 328.1h0M343.7 331.7h0M317.9 330.7h0M329.4 335.6h0M319.9 333.7h0M346.0 330.1h0M342.5 332.0h0M346.8 323.8h0M328.0 313.8h0M323.1 311.8h0M349.3 323.8h0" stroke="#33ff33" stroke-width="1.00" stroke-linecap="round" fill="none"/>
<path d="M360.8 288.2h0M345.4 291.0h0M360.9 284.5h0M358.8 278.0h0M359.9 290.1h0M350.3 294.4h0M358.2 293.2h0M342.1 283.2h0M353.2 275.9h0M348.1 292.5h0M343.1 291.0h0M360.2 292.6h0M345.3 274.7h0M340.3 278.3h0M341.7 288.9h0M355.9 274.8h0M343.2 290.5h0M362.4 284.0h0M358.8 279.0h0M345.9 291.0h0M352.8 294.0h0M361.7 282.7h0M353.5 294.0h0M345.2 291.1h0M362.1 292.1h0M341.5 279.8h0" stroke="#ff9a50" stroke-width="1.00" stroke-linecap="round" fill="none"/>
<path d="M356.1 298.6h0M364.1 292.1h0M355.8 303.6h0M354.8 297.4h0M366.2 299.7h0M366.9 297.4h0M366.0 301.1h0M358.2 294.2h0M354.1 296.5h0M359.6 303.3h0M368.3 299.5h0M355.0 297.4h0M365.6 301.1h0M362.2 292.4h0M356.1 303.3h0M360.3 303.2h0" stroke="#2b2bff" stroke-width="1.00" stroke-linecap="round" fill="none"/>
<path d="M369.8 327.7h0M368.5 304.0h0M349.8 313.6h0M350.5 317.3h0M371.7 308.9h0M366.5 329.2h0M372.0 315.8h0M371.7 315.8h0M363.2 330.7h0M349.6 319.3h0M370.4 309.3h0M360.3 308.3h0M375.1 311.8h0M354.3 331.2h0M350.6 325.9h0M355.0 328.3h0M370.4 306.8h0M349.7 315.7h0M357.7 305.6h0M369.2 307.2h0M372.0 324.3h0M357.7 331.9h0M350.4 316.1h0M373.7 327.7h0M350.7 316.6h0M350.6 329.1h0M372.9 316.2h0M352.7 329.0h0M348.9 319.2h0M347.8 322.7h0M355.1 309.0h0" stroke="#ffcc1a" stroke-width="1.00" stroke-linecap="round" fill="none"/>
<path d="M376.5 341.1h0M375.4 339.7h0M370.3 333.5h0M372.0 333.8h0M378.3 308.8h0M388.1 310.9h0M373.8 337.2h0M367.8 332.5h0M383.9 313.2h0M386.1 339.8h0M392.1 316.9h0M383.4 338.3h0M378.5 311.6h0M367.8 312.6h0M364.6 317.7h0M371.6 337.8h0M368.8 325.7h0M376.7 338.4h0M374.5 308.7h0M369.5 315.2h0M391.1 337.8h0M378.4 309.4h0M367.3 320.2h0M372.3 310.8h0M372.4 340.6h0M366.0 314.2h0M381.3 341.1h0M394.0 328.0h0M394.5 331.3h0M363.9 315.8h0M391.7 317.2h0" stroke="#a86050" stroke-width="1.00" stroke-linecap="round" fill="none"/>
<path d="M381.7 335.2h0M415.3 322.6h0M380.8 337.0h0M386.3 305.2h0M411.3 329.0h0M403.0 304.4h0M402.9 305.7h0M391.0 344.8h0M396.8 337.6h0M401.1 340.3h0M410.8 313.6h0M389.1 341.4h0M410.0 315.6h0M388.2 342.3h0M414.3 331.7h0M385.2 304.3h0M416.4 324.7h0M396.1 304.1h0M411.3 334.8h0M406.8 308.1h0M386.3 342.0h0M381.2 304.1h0M394.0 304.8h0M408.6 310.6h0M385.9 307.2h0M380.4 338.5h0M413.8 313.9h0M394.1 300.5h0M381.9 305.7h0M396.8 341.9h0M379.7 323.4h0M409.1 312.4h0M397.0 342.3h0M379.0 318.6h0M386.5 339.3h0M383.7 339.5h0M378.7 307.3h0M400.1 337.2h0M390.6 302.6h0M404.2 336.8h0M405.3 335.8h0M382.9 329.8h0M391.5 300.3h0" stroke="#30a8ff" stroke-width="1.00" stroke-linecap="round" fill="none"/>
<path d="M395.9 306.1h0M366.9 298.6h0M394.5 308.0h0M385.3 293.3h0M367.2 304.3h0M365.1 298.0h0M387.1 294.6h0M367.2 299.4h0M369.1 296.8h0M384.7 310.5h0M387.8 295.7h0M386.1 293.5h0M375.2 293.5h0M382.3 309.9h0M366.0 304.6h0M385.7 309.9h0M391.4 307.5h0M379.7 309.8h0M366.2 298.5h0M367.9 294.9h0M389.3 294.3h0M373.1 308.3h0M395.0 296.7h0M365.5 305.3h0" stroke="#e0306e" stroke-width="1.00" stroke-linecap="round" fill="none"/>
<path d="M428.0 298.9h0M408.5 311.4h0M415.4 312.9h0M424.6 291.9h0M397.0 304.6h0M398.9 307.1h0M410.2 281.7h0M423.8 286.9h0M420.4 286.9h0M399.3 310.3h0M401.7 310.0h0M423.5 289.7h0M427.8 300.5h0M419.8 285.2h0M408.7 310.0h0M393.0 291.1h0M392.7 302.3h0M429.2 301.6h0M396.9 284.8h0M394.0 306.8h0M401.8 310.7h0M396.0 306.7h0M407.2 309.7h0M401.3 285.6h0M396.6 302.5h0M397.0 304.3h0M410.6 310.9h0M409.1 283.8h0M425.8 304.3h0M396.8 285.7h0M419.9 283.0h0M391.4 298.5h0M430.1 302.2h0M423.3 309.0h0M392.6 293.2h0M399.4 305.4h0M395.0 303.6h0" stroke="#b4cc88" stroke-width="1.00" stroke-linecap="round" fill="none"/>
<path d="M423.8 266.1h0M422.0 271.7h0M423.7 270.5h0M423.2 265.5h0M420.1 265.3h0M416.1 265.2h0M422.0 271.7h0M418.0 264.9h0M416.3 264.4h0M415.8 266.4h0" stroke="#d82bff" stroke-width="1.00" stroke-linecap="round" fill="none"/>
<path d="M399.0 280.9h0M407.2 274.2h0M408.2 281.2h0M403.7 280.5h0M401.3 274.2h0M408.6 280.2h0M402.4 280.7h0M403.7 281.0h0M403.2 280.7h0" stroke="#ffaaf5" stroke-width="1.00" stroke-linecap="round" fill="none"/>
<path d="M335.2 255.3h0M335.1 251.0h0M348.4 250.6h0M347.0 262.5h0M338.3 250.6h0M352.5 252.9h0M333.7 262.2h0M335.3 258.3h0M340.9 251.0h0M351.7 261.4h0M346.7 251.2h0M351.3 250.5h0M342.6 262.4h0M353.4 252.6h0M352.7 260.7h0M351.5 251.6h0M333.8 253.2h0M349.7 259.1h0M356.5 260.8h0M349.3 260.6h0M356.4 260.6h0M349.7 258.7h0M353.8 258.2h0M352.4 258.4h0" stroke="#ccff1a" stroke-width="1.00" stroke-linecap="round" fill="none"/>
<path d="M361.9 257.0h0M361.2 256.6h0M366.7 256.6h0M363.0 257.8h0M357.7 263.3h0M364.6 271.0h0M359.5 270.1h0M367.3 270.9h0M360.9 272.5h0M361.7 272.2h0M367.8 263.0h0M363.0 257.8h0M357.7 261.2h0M358.1 263.5h0M358.2 255.5h0M368.0 269.2h0M358.0 257.7h0M359.1 266.7h0" stroke="#9a7a1a" stroke-width="1.00" stroke-linecap="round" fill="none"/>
<path d="M371.6 252.3h0M375.9 251.8h0M376.1 252.5h0M376.5 251.2h0M375.5 256.3h0" stroke="#ffb8a8" stroke-width="1.00" stroke-linecap="round" fill="none"/>
<path d="M378.5 248.2h0M376.9 245.5h0M378.3 244.7h0" stroke="#40ffd0" stroke-width="1.00" stroke-linecap="round" fill="none"/>
<text x="365.0" y="237.9" font-size="3.4" text-anchor="middle" fill="#111">C23</text>
<text x="318.9" y="257.7" font-size="3.4" text-anchor="middle" fill="#111">C18</text>
<text x="316.1" y="267.3" font-size="3.4" text-anchor="middle" fill="#111">C10</text>
<text x="340.0" y="267.1" font-size="3.4" text-anchor="middle" fill="#111">C17</text>
<text x="396.6" y="265.1" font-size="3.4" text-anchor="middle" fill="#111">C11</text>
<text x="325.3" y="287.6" font-size="3.4" text-anchor="middle" fill="#111">C19</text>
<text x="306.4" y="284.8" font-size="3.4" text-anchor="middle" fill="#111">C04</text>
<text x="313.8" y="307.7" font-size="3.4" text-anchor="middle" fill="#111">C04</text>
<text x="338.4" y="307.6" font-size="3.4" text-anchor="middle" fill="#111">C02</text>
<text x="331.5" y="325.1" font-size="3.4" text-anchor="middle" fill="#111">C03</text>
<text x="352.2" y="286.1" font-size="3.4" text-anchor="middle" fill="#111">C15</text>
<text x="361.2" y="299.6" font-size="3.4" text-anchor="middle" fill="#111">C01</text>
<text x="361.2" y="320.3" font-size="3.4" text-anchor="middle" fill="#111">C06</text>
<text x="379.8" y="326.7" font-size="3.4" text-anchor="middle" fill="#111">C08</text>
<text x="396.2" y="322.6" font-size="3.4" text-anchor="middle" fill="#111">C07</text>
<text x="379.6" y="303.2" font-size="3.4" text-anchor="middle" fill="#111">C14</text>
<text x="410.4" y="298.4" font-size="3.4" text-anchor="middle" fill="#111">C13</text>
<text x="404.7" y="286.1" font-size="3.4" text-anchor="middle" fill="#111">C10</text>
<text x="363.0" y="265.4" font-size="3.4" text-anchor="middle" fill="#111">C21</text></g>
<circle cx="438.70" cy="210.20" r="2.6" fill="#2b2bff"/>
<text x="443.70" y="213.40" font-size="8.8" text-anchor="start" >TC01</text>
<circle cx="438.70" cy="221.98" r="2.6" fill="#ff2020"/>
<text x="443.70" y="225.18" font-size="8.8" text-anchor="start" >TC02</text>
<circle cx="438.70" cy="233.76" r="2.6" fill="#33ff33"/>
<text x="443.70" y="236.96" font-size="8.8" text-anchor="start" >TC03</text>
<circle cx="438.70" cy="245.54" r="2.6" fill="#ff30c0"/>
<text x="443.70" y="248.74" font-size="8.8" text-anchor="start" >TC04</text>
<circle cx="438.70" cy="257.32" r="2.6" fill="#1f6b1f"/>
<text x="443.70" y="260.52" font-size="8.8" text-anchor="start" >TC05</text>
<circle cx="438.70" cy="269.10" r="2.6" fill="#ffcc1a"/>
<text x="443.70" y="272.30" font-size="8.8" text-anchor="start" >TC06</text>
<circle cx="438.70" cy="280.88" r="2.6" fill="#30a8ff"/>
<text x="443.70" y="284.08" font-size="8.8" text-anchor="start" >TC07</text>
<circle cx="438.70" cy="292.66" r="2.6" fill="#a86050"/>
<text x="443.70" y="295.86" font-size="8.8" text-anchor="start" >TC08</text>
<circle cx="438.70" cy="304.44" r="2.6" fill="#40ffd0"/>
<text x="443.70" y="307.64" font-size="8.8" text-anchor="start" >TC09</text>
<circle cx="438.70" cy="316.22" r="2.6" fill="#8050d0"/>
<text x="443.70" y="319.42" font-size="8.8" text-anchor="start" >TC10</text>
<circle cx="438.70" cy="328.00" r="2.6" fill="#339a9e"/>
<text x="443.70" y="331.20" font-size="8.8" text-anchor="start" >TC11</text>
<circle cx="438.70" cy="339.78" r="2.6" fill="#ffaaf5"/>
<text x="443.70" y="342.98" font-size="8.8" text-anchor="start" >TC12</text>
<circle cx="475.00" cy="210.20" r="2.6" fill="#b4cc88"/>
<text x="480.00" y="213.40" font-size="8.8" text-anchor="start" >TC13</text>
<circle cx="475.00" cy="221.98" r="2.6" fill="#e0306e"/>
<text x="480.00" y="225.18" font-size="8.8" text-anchor="start" >TC14</text>
<circle cx="475.00" cy="233.76" r="2.6" fill="#ff9a50"/>
<text x="480.00" y="236.96" font-size="8.8" text-anchor="start" >TC15</text>
<circle cx="475.00" cy="245.54" r="2.6" fill="#d82bff"/>
<text x="480.00" y="248.74" font-size="8.8" text-anchor="start" >TC16</text>
<circle cx="475.00" cy="257.32" r="2.6" fill="#7a1a6a"/>
<text x="480.00" y="260.52" font-size="8.8" text-anchor="start" >TC17</text>
<circle cx="475.00" cy="269.10" r="2.6" fill="#7c6c9c"/>
<text x="480.00" y="272.30" font-size="8.8" text-anchor="start" >TC18</text>
<circle cx="475.00" cy="280.88" r="2.6" fill="#2aa83a"/>
<text x="480.00" y="284.08" font-size="8.8" text-anchor="start" >TC19</text>
<circle cx="475.00" cy="292.66" r="2.6" fill="#ccff1a"/>
<text x="480.00" y="295.86" font-size="8.8" text-anchor="start" >TC20</text>
<circle cx="475.00" cy="304.44" r="2.6" fill="#9a7a1a"/>
<text x="480.00" y="307.64" font-size="8.8" text-anchor="start" >TC21</text>
<circle cx="475.00" cy="316.22" r="2.6" fill="#ffb8a8"/>
<text x="480.00" y="319.42" font-size="8.8" text-anchor="start" >TC22</text>
<circle cx="475.00" cy="328.00" r="2.6" fill="#9a9a7a"/>
<text x="480.00" y="331.20" font-size="8.8" text-anchor="start" >TC23</text>
<circle cx="475.00" cy="339.78" r="2.6" fill="#a81a1a"/>
<text x="480.00" y="342.98" font-size="8.8" text-anchor="start" >TC24</text>
<g class="b">
<line x1="32.40" y1="447.97" x2="83.20" y2="447.97" stroke="#f0f0f0" stroke-width="0.6"/>
<line x1="32.40" y1="413.33" x2="83.20" y2="413.33" stroke="#f0f0f0" stroke-width="0.6"/>
<line x1="32.40" y1="378.70" x2="83.20" y2="378.70" stroke="#f0f0f0" stroke-width="0.6"/>
<rect x="31.50" y="378.50" width="53.00" height="104.00" fill="none" stroke="#222" stroke-width="0.9"/>
<text x="29.80" y="485.00" font-size="6.8" text-anchor="end" >0.0</text>
<text x="29.80" y="450.37" font-size="6.8" text-anchor="end" >0.5</text>
<text x="29.80" y="415.73" font-size="6.8" text-anchor="end" >1.0</text>
<text x="29.80" y="381.10" font-size="6.8" text-anchor="end" >1.5</text>
<line x1="42.10" y1="482.60" x2="42.10" y2="484.80" stroke="#222" stroke-width="0.6"/>
<text transform="translate(44.30,489.80) rotate(-45)" font-size="6.9" text-anchor="end" >HC</text>
<line x1="57.50" y1="482.60" x2="57.50" y2="484.80" stroke="#222" stroke-width="0.6"/>
<text transform="translate(59.70,489.80) rotate(-45)" font-size="6.9" text-anchor="end" >GA-A</text>
<line x1="73.20" y1="482.60" x2="73.20" y2="484.80" stroke="#222" stroke-width="0.6"/>
<text transform="translate(75.40,489.80) rotate(-45)" font-size="6.9" text-anchor="end" >GA-I</text>
<text x="57.50" y="366.70" font-size="6.5" text-anchor="middle" >CCR4+CD38+</text>
<text x="57.50" y="374.10" font-size="6.5" text-anchor="middle" >CD4+naive T(TC05)</text>
<text transform="translate(17.20,434.05) rotate(-90)" font-size="7.3" text-anchor="middle" >Frequencies in T cells</text>
</g>
<line x1="37.30" y1="481.60" x2="46.90" y2="481.60" stroke="#222" stroke-width="0.9"/>
<circle cx="38.50" cy="481.30" r="0.85" fill="#111"/>
<circle cx="40.30" cy="481.30" r="0.85" fill="#111"/>
<circle cx="42.10" cy="481.30" r="0.85" fill="#111"/>
<circle cx="43.90" cy="481.30" r="0.85" fill="#111"/>
<circle cx="45.70" cy="481.30" r="0.85" fill="#111"/>
<path d="M57.50 444.90Q58.10 444.90 59.05 445.15Q60.00 445.40 60.85 446.20Q61.70 447.00 62.15 448.50Q62.60 450.00 62.55 452.00Q62.50 454.00 61.60 455.50Q60.70 457.00 59.55 458.75Q58.40 460.50 58.65 461.50Q58.90 462.50 59.60 463.65Q60.30 464.80 59.90 465.60Q59.50 466.40 58.75 466.60Q58.00 466.80 57.50 466.80Q57.00 466.80 56.25 466.60Q55.50 466.40 55.10 465.60Q54.70 464.80 55.40 463.65Q56.10 462.50 56.35 461.50Q56.60 460.50 55.45 458.75Q54.30 457.00 53.40 455.50Q52.50 454.00 52.45 452.00Q52.40 450.00 52.85 448.50Q53.30 447.00 54.15 446.20Q55.00 445.40 55.95 445.15Q56.90 444.90 57.50 444.90Z" fill="#f1b874" stroke="#b07a35" stroke-width="0.5"/>
<line x1="52.49" y1="453.70" x2="62.51" y2="453.70" stroke="#111" stroke-width="0.9"/>
<circle cx="57.50" cy="445.80" r="0.95" fill="#111"/>
<circle cx="57.10" cy="448.80" r="0.95" fill="#111"/>
<circle cx="54.20" cy="453.60" r="0.95" fill="#111"/>
<circle cx="57.50" cy="453.60" r="0.95" fill="#111"/>
<circle cx="60.70" cy="453.60" r="0.95" fill="#111"/>
<circle cx="57.50" cy="451.00" r="0.95" fill="#111"/>
<circle cx="55.60" cy="465.60" r="0.95" fill="#111"/>
<circle cx="59.50" cy="465.20" r="0.95" fill="#111"/>
<path d="M73.20 400.30Q73.70 400.30 74.10 400.65Q74.50 401.00 74.60 405.50Q74.70 410.00 74.75 417.50Q74.80 425.00 75.10 430.00Q75.40 435.00 76.00 438.50Q76.60 442.00 77.20 445.00Q77.80 448.00 78.20 451.00Q78.60 454.00 78.60 458.00Q78.60 462.00 78.35 464.50Q78.10 467.00 77.25 468.50Q76.40 470.00 75.05 470.50Q73.70 471.00 73.20 471.00Q72.70 471.00 71.35 470.50Q70.00 470.00 69.15 468.50Q68.30 467.00 68.05 464.50Q67.80 462.00 67.80 458.00Q67.80 454.00 68.20 451.00Q68.60 448.00 69.20 445.00Q69.80 442.00 70.40 438.50Q71.00 435.00 71.30 430.00Q71.60 425.00 71.65 417.50Q71.70 410.00 71.80 405.50Q71.90 401.00 72.30 400.65Q72.70 400.30 73.20 400.30Z" fill="#7597b6" stroke="#3f6384" stroke-width="0.5"/>
<line x1="67.81" y1="453.90" x2="78.59" y2="453.90" stroke="#111" stroke-width="0.9"/>
<circle cx="73.20" cy="400.80" r="0.95" fill="#111"/>
<circle cx="73.20" cy="425.40" r="0.95" fill="#111"/>
<circle cx="73.20" cy="450.80" r="0.95" fill="#111"/>
<circle cx="71.60" cy="454.80" r="0.95" fill="#111"/>
<circle cx="75.10" cy="453.60" r="0.95" fill="#111"/>
<circle cx="73.20" cy="467.10" r="0.95" fill="#111"/>
<circle cx="73.20" cy="470.40" r="0.95" fill="#111"/>
<line x1="42.20" y1="389.50" x2="73.00" y2="389.50" stroke="#111" stroke-width="1.05"/>
<path d="M55.60 383.15V386.65M54.08 384.02L57.12 385.77M54.08 385.77L57.12 384.02M59.60 383.15V386.65M58.08 384.02L61.12 385.77M58.08 385.77L61.12 384.02" stroke="#000" stroke-width="1.55" stroke-linecap="round" fill="none"/>
<line x1="42.20" y1="400.50" x2="58.10" y2="400.50" stroke="#111" stroke-width="1.05"/>
<path d="M46.05 393.65V397.15M44.53 394.52L47.57 396.27M44.53 396.27L47.57 394.52M50.15 393.65V397.15M48.63 394.52L51.67 396.27M48.63 396.27L51.67 394.52M54.25 393.65V397.15M52.73 394.52L55.77 396.27M52.73 396.27L55.77 394.52" stroke="#000" stroke-width="1.55" stroke-linecap="round" fill="none"/>
<g class="b"><line x1="150.50" y1="470.82" x2="448.7" y2="470.82" stroke="#e2e2e2" stroke-width="0.7"/>
<line x1="150.50" y1="454.24" x2="448.7" y2="454.24" stroke="#e2e2e2" stroke-width="0.7"/>
<line x1="150.50" y1="437.66" x2="448.7" y2="437.66" stroke="#e2e2e2" stroke-width="0.7"/>
<line x1="150.50" y1="421.08" x2="448.7" y2="421.08" stroke="#e2e2e2" stroke-width="0.7"/>
<line x1="150.50" y1="404.50" x2="448.7" y2="404.50" stroke="#e2e2e2" stroke-width="0.7"/>
<line x1="150.50" y1="387.92" x2="448.7" y2="387.92" stroke="#e2e2e2" stroke-width="0.7"/>
<line x1="147.10" y1="487.40" x2="150.50" y2="487.40" stroke="#111" stroke-width="0.8"/>
<text x="145.90" y="490.00" font-size="8.8" text-anchor="end" >0.0</text>
<line x1="147.10" y1="470.82" x2="150.50" y2="470.82" stroke="#111" stroke-width="0.8"/>
<text x="145.90" y="473.42" font-size="8.8" text-anchor="end" >0.2</text>
<line x1="147.10" y1="454.24" x2="150.50" y2="454.24" stroke="#111" stroke-width="0.8"/>
<text x="145.90" y="456.84" font-size="8.8" text-anchor="end" >0.4</text>
<line x1="147.10" y1="437.66" x2="150.50" y2="437.66" stroke="#111" stroke-width="0.8"/>
<text x="145.90" y="440.26" font-size="8.8" text-anchor="end" >0.6</text>
<line x1="147.10" y1="421.08" x2="150.50" y2="421.08" stroke="#111" stroke-width="0.8"/>
<text x="145.90" y="423.68" font-size="8.8" text-anchor="end" >0.8</text>
<line x1="147.10" y1="404.50" x2="150.50" y2="404.50" stroke="#111" stroke-width="0.8"/>
<text x="145.90" y="407.10" font-size="8.8" text-anchor="end" >1.0</text>
<line x1="147.10" y1="387.92" x2="150.50" y2="387.92" stroke="#111" stroke-width="0.8"/>
<text x="145.90" y="390.52" font-size="8.8" text-anchor="end" >1.2</text>
<path d="M150.50 387.92V487.5H448.7" fill="none" stroke="#111" stroke-width="1"/>
<line x1="174.30" y1="487.40" x2="174.30" y2="490.00" stroke="#111" stroke-width="0.8"/>
<text x="174.30" y="501.70" font-size="10.4" text-anchor="middle" >Ki67</text>
<line x1="224.30" y1="487.40" x2="224.30" y2="490.00" stroke="#111" stroke-width="0.8"/>
<text x="224.30" y="501.70" font-size="10.4" text-anchor="middle" >ICOS</text>
<line x1="274.30" y1="487.40" x2="274.30" y2="490.00" stroke="#111" stroke-width="0.8"/>
<text x="274.30" y="501.70" font-size="10.4" text-anchor="middle" >PD1</text>
<line x1="324.30" y1="487.40" x2="324.30" y2="490.00" stroke="#111" stroke-width="0.8"/>
<text x="324.30" y="501.70" font-size="10.4" text-anchor="middle" >CD38</text>
<line x1="374.30" y1="487.40" x2="374.30" y2="490.00" stroke="#111" stroke-width="0.8"/>
<text x="374.30" y="501.70" font-size="10.4" text-anchor="middle" >CCR4</text>
<line x1="424.30" y1="487.40" x2="424.30" y2="490.00" stroke="#111" stroke-width="0.8"/>
<text x="424.30" y="501.70" font-size="10.4" text-anchor="middle" >OX40</text>
<text transform="translate(129.80,434.70) rotate(-90)" font-size="9.5" text-anchor="middle" >Median antigen intensities</text>
<line x1="161.95" y1="464.30" x2="161.95" y2="478.40" stroke="#a8a8a8" stroke-width="0.9"/>
<line x1="159.75" y1="464.30" x2="164.15" y2="464.30" stroke="#a8a8a8" stroke-width="0.9"/>
<line x1="159.75" y1="478.40" x2="164.15" y2="478.40" stroke="#a8a8a8" stroke-width="0.9"/>
<rect x="156.50" y="470.30" width="10.90" height="8.10" fill="#fff" stroke="#a8a8a8" stroke-width="1.1"/>
<line x1="156.50" y1="478.40" x2="167.40" y2="478.40" stroke="#a8a8a8" stroke-width="0.9"/>
<circle cx="161.95" cy="464.60" r="1.0" fill="#111"/>
<circle cx="158.55" cy="478.20" r="1.0" fill="#111"/>
<circle cx="161.95" cy="478.20" r="1.0" fill="#111"/>
<circle cx="165.35" cy="478.20" r="1.0" fill="#111"/>
<line x1="174.75" y1="441.20" x2="174.75" y2="477.70" stroke="#f39a1f" stroke-width="0.9"/>
<line x1="172.55" y1="441.20" x2="176.95" y2="441.20" stroke="#f39a1f" stroke-width="0.9"/>
<line x1="172.55" y1="477.70" x2="176.95" y2="477.70" stroke="#f39a1f" stroke-width="0.9"/>
<rect x="169.20" y="444.20" width="11.10" height="24.30" fill="#fff" stroke="#f39a1f" stroke-width="1.1"/>
<line x1="169.20" y1="454.60" x2="180.30" y2="454.60" stroke="#f39a1f" stroke-width="0.9"/>
<circle cx="174.75" cy="441.60" r="1.0" fill="#111"/>
<circle cx="175.05" cy="449.50" r="1.0" fill="#111"/>
<circle cx="173.25" cy="454.60" r="1.0" fill="#111"/>
<circle cx="177.25" cy="454.60" r="1.0" fill="#111"/>
<circle cx="175.25" cy="468.90" r="1.0" fill="#111"/>
<circle cx="174.75" cy="477.40" r="1.0" fill="#111"/>
<line x1="187.60" y1="454.60" x2="187.60" y2="483.50" stroke="#2f7fc1" stroke-width="0.9"/>
<line x1="185.40" y1="454.60" x2="189.80" y2="454.60" stroke="#2f7fc1" stroke-width="0.9"/>
<line x1="185.40" y1="483.50" x2="189.80" y2="483.50" stroke="#2f7fc1" stroke-width="0.9"/>
<rect x="182.20" y="457.60" width="10.80" height="21.90" fill="#fff" stroke="#2f7fc1" stroke-width="1.1"/>
<line x1="182.20" y1="472.60" x2="193.00" y2="472.60" stroke="#2f7fc1" stroke-width="0.9"/>
<circle cx="187.60" cy="455.00" r="1.0" fill="#111"/>
<circle cx="187.60" cy="461.00" r="1.0" fill="#111"/>
<circle cx="185.60" cy="471.00" r="1.0" fill="#111"/>
<circle cx="188.60" cy="479.00" r="1.0" fill="#111"/>
<circle cx="185.00" cy="483.20" r="1.0" fill="#111"/>
<line x1="211.90" y1="466.60" x2="211.90" y2="486.50" stroke="#a8a8a8" stroke-width="0.9"/>
<line x1="209.70" y1="466.60" x2="214.10" y2="466.60" stroke="#a8a8a8" stroke-width="0.9"/>
<line x1="209.70" y1="486.50" x2="214.10" y2="486.50" stroke="#a8a8a8" stroke-width="0.9"/>
<rect x="206.50" y="466.60" width="10.80" height="19.90" fill="#fff" stroke="#a8a8a8" stroke-width="1.1"/>
<line x1="206.50" y1="472.60" x2="217.30" y2="472.60" stroke="#a8a8a8" stroke-width="0.9"/>
<circle cx="209.40" cy="466.60" r="1.0" fill="#111"/>
<circle cx="214.40" cy="466.60" r="1.0" fill="#111"/>
<circle cx="214.90" cy="472.40" r="1.0" fill="#111"/>
<circle cx="209.40" cy="486.60" r="1.0" fill="#111"/>
<circle cx="214.40" cy="486.60" r="1.0" fill="#111"/>
<line x1="224.85" y1="469.20" x2="224.85" y2="485.30" stroke="#f39a1f" stroke-width="0.9"/>
<line x1="222.65" y1="469.20" x2="227.05" y2="469.20" stroke="#f39a1f" stroke-width="0.9"/>
<line x1="222.65" y1="485.30" x2="227.05" y2="485.30" stroke="#f39a1f" stroke-width="0.9"/>
<rect x="219.20" y="469.20" width="11.30" height="16.10" fill="#fff" stroke="#f39a1f" stroke-width="1.1"/>
<line x1="219.20" y1="476.50" x2="230.50" y2="476.50" stroke="#f39a1f" stroke-width="0.9"/>
<circle cx="222.35" cy="469.40" r="1.0" fill="#111"/>
<circle cx="227.35" cy="469.40" r="1.0" fill="#111"/>
<circle cx="224.85" cy="472.50" r="1.0" fill="#111"/>
<circle cx="222.35" cy="476.40" r="1.0" fill="#111"/>
<circle cx="224.85" cy="480.40" r="1.0" fill="#111"/>
<circle cx="227.35" cy="485.20" r="1.0" fill="#111"/>
<line x1="237.75" y1="462.20" x2="237.75" y2="486.20" stroke="#2f7fc1" stroke-width="0.9"/>
<line x1="235.55" y1="462.20" x2="239.95" y2="462.20" stroke="#2f7fc1" stroke-width="0.9"/>
<line x1="235.55" y1="486.20" x2="239.95" y2="486.20" stroke="#2f7fc1" stroke-width="0.9"/>
<rect x="232.30" y="477.70" width="10.90" height="8.50" fill="#fff" stroke="#2f7fc1" stroke-width="1.1"/>
<line x1="232.30" y1="483.00" x2="243.20" y2="483.00" stroke="#2f7fc1" stroke-width="0.9"/>
<circle cx="237.75" cy="462.40" r="1.0" fill="#111"/>
<circle cx="234.75" cy="480.80" r="1.0" fill="#111"/>
<circle cx="237.75" cy="483.00" r="1.0" fill="#111"/>
<circle cx="240.75" cy="483.00" r="1.0" fill="#111"/>
<circle cx="235.25" cy="486.10" r="1.0" fill="#111"/>
<circle cx="240.25" cy="486.10" r="1.0" fill="#111"/>
<line x1="261.95" y1="462.20" x2="261.95" y2="486.50" stroke="#a8a8a8" stroke-width="0.9"/>
<line x1="259.75" y1="462.20" x2="264.15" y2="462.20" stroke="#a8a8a8" stroke-width="0.9"/>
<line x1="259.75" y1="486.50" x2="264.15" y2="486.50" stroke="#a8a8a8" stroke-width="0.9"/>
<rect x="256.50" y="462.20" width="10.90" height="13.90" fill="#fff" stroke="#a8a8a8" stroke-width="1.1"/>
<line x1="256.50" y1="466.90" x2="267.40" y2="466.90" stroke="#a8a8a8" stroke-width="0.9"/>
<circle cx="259.45" cy="462.40" r="1.0" fill="#111"/>
<circle cx="263.95" cy="462.60" r="1.0" fill="#111"/>
<circle cx="261.45" cy="466.70" r="1.0" fill="#111"/>
<circle cx="264.45" cy="466.70" r="1.0" fill="#111"/>
<circle cx="261.95" cy="486.50" r="1.0" fill="#111"/>
<line x1="274.60" y1="458.50" x2="274.60" y2="470.10" stroke="#f39a1f" stroke-width="0.9"/>
<line x1="272.40" y1="458.50" x2="276.80" y2="458.50" stroke="#f39a1f" stroke-width="0.9"/>
<line x1="272.40" y1="470.10" x2="276.80" y2="470.10" stroke="#f39a1f" stroke-width="0.9"/>
<rect x="269.20" y="459.90" width="10.80" height="5.60" fill="#fff" stroke="#f39a1f" stroke-width="1.1"/>
<line x1="269.20" y1="462.20" x2="280.00" y2="462.20" stroke="#f39a1f" stroke-width="0.9"/>
<circle cx="272.10" cy="459.90" r="1.0" fill="#111"/>
<circle cx="274.60" cy="460.00" r="1.0" fill="#111"/>
<circle cx="277.10" cy="460.00" r="1.0" fill="#111"/>
<circle cx="274.60" cy="462.40" r="1.0" fill="#111"/>
<circle cx="272.60" cy="465.50" r="1.0" fill="#111"/>
<circle cx="277.10" cy="465.30" r="1.0" fill="#111"/>
<circle cx="274.60" cy="469.80" r="1.0" fill="#111"/>
<line x1="287.50" y1="466.90" x2="287.50" y2="477.70" stroke="#2f7fc1" stroke-width="0.9"/>
<line x1="285.30" y1="466.90" x2="289.70" y2="466.90" stroke="#2f7fc1" stroke-width="0.9"/>
<line x1="285.30" y1="477.70" x2="289.70" y2="477.70" stroke="#2f7fc1" stroke-width="0.9"/>
<rect x="282.00" y="466.90" width="11.00" height="10.80" fill="#fff" stroke="#2f7fc1" stroke-width="1.1"/>
<line x1="282.00" y1="473.10" x2="293.00" y2="473.10" stroke="#2f7fc1" stroke-width="0.9"/>
<circle cx="285.00" cy="467.00" r="1.0" fill="#111"/>
<circle cx="290.00" cy="467.00" r="1.0" fill="#111"/>
<circle cx="285.00" cy="473.20" r="1.0" fill="#111"/>
<circle cx="290.00" cy="473.20" r="1.0" fill="#111"/>
<circle cx="286.00" cy="477.60" r="1.0" fill="#111"/>
<circle cx="290.00" cy="477.60" r="1.0" fill="#111"/>
<line x1="311.90" y1="406.90" x2="311.90" y2="432.00" stroke="#a8a8a8" stroke-width="0.9"/>
<line x1="309.70" y1="406.90" x2="314.10" y2="406.90" stroke="#a8a8a8" stroke-width="0.9"/>
<line x1="309.70" y1="432.00" x2="314.10" y2="432.00" stroke="#a8a8a8" stroke-width="0.9"/>
<rect x="306.60" y="416.80" width="10.60" height="13.40" fill="#fff" stroke="#a8a8a8" stroke-width="1.1"/>
<line x1="306.60" y1="425.00" x2="317.20" y2="425.00" stroke="#a8a8a8" stroke-width="0.9"/>
<circle cx="311.90" cy="407.20" r="1.0" fill="#111"/>
<circle cx="309.40" cy="425.00" r="1.0" fill="#111"/>
<circle cx="314.40" cy="425.00" r="1.0" fill="#111"/>
<circle cx="309.40" cy="430.40" r="1.0" fill="#111"/>
<circle cx="313.40" cy="431.00" r="1.0" fill="#111"/>
<line x1="324.20" y1="404.30" x2="324.20" y2="416.80" stroke="#f39a1f" stroke-width="0.9"/>
<line x1="322.00" y1="404.30" x2="326.40" y2="404.30" stroke="#f39a1f" stroke-width="0.9"/>
<line x1="322.00" y1="416.80" x2="326.40" y2="416.80" stroke="#f39a1f" stroke-width="0.9"/>
<rect x="318.80" y="404.30" width="10.80" height="12.50" fill="#fff" stroke="#f39a1f" stroke-width="1.1"/>
<line x1="318.80" y1="410.00" x2="329.60" y2="410.00" stroke="#f39a1f" stroke-width="0.9"/>
<circle cx="321.20" cy="404.50" r="1.0" fill="#111"/>
<circle cx="324.20" cy="404.40" r="1.0" fill="#111"/>
<circle cx="327.20" cy="404.50" r="1.0" fill="#111"/>
<circle cx="321.20" cy="410.20" r="1.0" fill="#111"/>
<circle cx="327.20" cy="410.20" r="1.0" fill="#111"/>
<circle cx="321.70" cy="416.60" r="1.0" fill="#111"/>
<circle cx="326.70" cy="416.60" r="1.0" fill="#111"/>
<line x1="337.30" y1="406.20" x2="337.30" y2="418.40" stroke="#2f7fc1" stroke-width="0.9"/>
<line x1="335.10" y1="406.20" x2="339.50" y2="406.20" stroke="#2f7fc1" stroke-width="0.9"/>
<line x1="335.10" y1="418.40" x2="339.50" y2="418.40" stroke="#2f7fc1" stroke-width="0.9"/>
<rect x="331.80" y="406.20" width="11.00" height="12.20" fill="#fff" stroke="#2f7fc1" stroke-width="1.1"/>
<line x1="331.80" y1="412.00" x2="342.80" y2="412.00" stroke="#2f7fc1" stroke-width="0.9"/>
<circle cx="334.80" cy="406.30" r="1.0" fill="#111"/>
<circle cx="339.80" cy="406.30" r="1.0" fill="#111"/>
<circle cx="334.80" cy="412.20" r="1.0" fill="#111"/>
<circle cx="339.80" cy="412.20" r="1.0" fill="#111"/>
<circle cx="334.80" cy="418.30" r="1.0" fill="#111"/>
<circle cx="337.30" cy="418.50" r="1.0" fill="#111"/>
<circle cx="340.10" cy="418.30" r="1.0" fill="#111"/>
<line x1="362.00" y1="431.60" x2="362.00" y2="454.40" stroke="#a8a8a8" stroke-width="0.9"/>
<line x1="359.80" y1="431.60" x2="364.20" y2="431.60" stroke="#a8a8a8" stroke-width="0.9"/>
<line x1="359.80" y1="454.40" x2="364.20" y2="454.40" stroke="#a8a8a8" stroke-width="0.9"/>
<rect x="356.50" y="434.40" width="11.00" height="13.60" fill="#fff" stroke="#a8a8a8" stroke-width="1.1"/>
<line x1="356.50" y1="441.00" x2="367.50" y2="441.00" stroke="#a8a8a8" stroke-width="0.9"/>
<circle cx="362.00" cy="431.90" r="1.0" fill="#111"/>
<circle cx="360.00" cy="437.00" r="1.0" fill="#111"/>
<circle cx="362.00" cy="441.00" r="1.0" fill="#111"/>
<circle cx="364.50" cy="441.20" r="1.0" fill="#111"/>
<circle cx="362.00" cy="454.20" r="1.0" fill="#111"/>
<line x1="374.35" y1="404.30" x2="374.35" y2="426.60" stroke="#f39a1f" stroke-width="0.9"/>
<line x1="372.15" y1="404.30" x2="376.55" y2="404.30" stroke="#f39a1f" stroke-width="0.9"/>
<line x1="372.15" y1="426.60" x2="376.55" y2="426.60" stroke="#f39a1f" stroke-width="0.9"/>
<rect x="368.70" y="404.30" width="11.30" height="10.10" fill="#fff" stroke="#f39a1f" stroke-width="1.1"/>
<line x1="368.70" y1="414.00" x2="380.00" y2="414.00" stroke="#f39a1f" stroke-width="0.9"/>
<circle cx="371.85" cy="404.50" r="1.0" fill="#111"/>
<circle cx="376.85" cy="404.50" r="1.0" fill="#111"/>
<circle cx="374.35" cy="408.00" r="1.0" fill="#111"/>
<circle cx="371.85" cy="414.20" r="1.0" fill="#111"/>
<circle cx="376.85" cy="414.20" r="1.0" fill="#111"/>
<circle cx="374.35" cy="426.30" r="1.0" fill="#111"/>
<line x1="387.05" y1="406.60" x2="387.05" y2="422.60" stroke="#2f7fc1" stroke-width="0.9"/>
<line x1="384.85" y1="406.60" x2="389.25" y2="406.60" stroke="#2f7fc1" stroke-width="0.9"/>
<line x1="384.85" y1="422.60" x2="389.25" y2="422.60" stroke="#2f7fc1" stroke-width="0.9"/>
<rect x="381.60" y="408.00" width="10.90" height="12.30" fill="#fff" stroke="#2f7fc1" stroke-width="1.1"/>
<line x1="381.60" y1="414.00" x2="392.50" y2="414.00" stroke="#2f7fc1" stroke-width="0.9"/>
<circle cx="387.05" cy="407.00" r="1.0" fill="#111"/>
<circle cx="387.05" cy="411.00" r="1.0" fill="#111"/>
<circle cx="384.55" cy="414.00" r="1.0" fill="#111"/>
<circle cx="389.55" cy="414.00" r="1.0" fill="#111"/>
<circle cx="387.05" cy="418.00" r="1.0" fill="#111"/>
<circle cx="387.05" cy="422.30" r="1.0" fill="#111"/>
<line x1="411.45" y1="442.60" x2="411.45" y2="470.40" stroke="#a8a8a8" stroke-width="0.9"/>
<line x1="409.25" y1="442.60" x2="413.65" y2="442.60" stroke="#a8a8a8" stroke-width="0.9"/>
<line x1="409.25" y1="470.40" x2="413.65" y2="470.40" stroke="#a8a8a8" stroke-width="0.9"/>
<rect x="405.90" y="445.70" width="11.10" height="18.80" fill="#fff" stroke="#a8a8a8" stroke-width="1.1"/>
<line x1="405.90" y1="454.00" x2="417.00" y2="454.00" stroke="#a8a8a8" stroke-width="0.9"/>
<circle cx="411.45" cy="442.90" r="1.0" fill="#111"/>
<circle cx="411.45" cy="447.50" r="1.0" fill="#111"/>
<circle cx="411.45" cy="454.00" r="1.0" fill="#111"/>
<circle cx="411.45" cy="459.50" r="1.0" fill="#111"/>
<circle cx="411.45" cy="470.10" r="1.0" fill="#111"/>
<line x1="424.15" y1="428.50" x2="424.15" y2="454.90" stroke="#f39a1f" stroke-width="0.9"/>
<line x1="421.95" y1="428.50" x2="426.35" y2="428.50" stroke="#f39a1f" stroke-width="0.9"/>
<line x1="421.95" y1="454.90" x2="426.35" y2="454.90" stroke="#f39a1f" stroke-width="0.9"/>
<rect x="418.40" y="435.60" width="11.50" height="11.80" fill="#fff" stroke="#f39a1f" stroke-width="1.1"/>
<line x1="418.40" y1="441.00" x2="429.90" y2="441.00" stroke="#f39a1f" stroke-width="0.9"/>
<circle cx="424.15" cy="428.80" r="1.0" fill="#111"/>
<circle cx="424.15" cy="436.00" r="1.0" fill="#111"/>
<circle cx="424.15" cy="439.00" r="1.0" fill="#111"/>
<circle cx="421.65" cy="441.00" r="1.0" fill="#111"/>
<circle cx="426.65" cy="441.50" r="1.0" fill="#111"/>
<circle cx="424.15" cy="444.50" r="1.0" fill="#111"/>
<circle cx="424.15" cy="454.60" r="1.0" fill="#111"/>
<line x1="436.85" y1="434.90" x2="436.85" y2="453.70" stroke="#2f7fc1" stroke-width="0.9"/>
<line x1="434.65" y1="434.90" x2="439.05" y2="434.90" stroke="#2f7fc1" stroke-width="0.9"/>
<line x1="434.65" y1="453.70" x2="439.05" y2="453.70" stroke="#2f7fc1" stroke-width="0.9"/>
<rect x="431.30" y="441.50" width="11.10" height="11.70" fill="#fff" stroke="#2f7fc1" stroke-width="1.1"/>
<line x1="431.30" y1="448.00" x2="442.40" y2="448.00" stroke="#2f7fc1" stroke-width="0.9"/>
<circle cx="436.85" cy="435.20" r="1.0" fill="#111"/>
<circle cx="436.85" cy="441.80" r="1.0" fill="#111"/>
<circle cx="436.85" cy="445.50" r="1.0" fill="#111"/>
<circle cx="434.35" cy="452.80" r="1.0" fill="#111"/>
<circle cx="436.85" cy="453.50" r="1.0" fill="#111"/>
<circle cx="439.35" cy="452.80" r="1.0" fill="#111"/>
<line x1="161.20" y1="437.50" x2="174.50" y2="437.50" stroke="#111" stroke-width="1.05"/>
<path d="M167.85 427.90V433.70M165.34 429.35L170.36 432.25M165.34 432.25L170.36 429.35" stroke="#000" stroke-width="1.25" stroke-linecap="round" fill="none"/>
<line x1="173.90" y1="427.50" x2="187.20" y2="427.50" stroke="#111" stroke-width="1.05"/>
<path d="M180.55 417.90V423.70M178.04 419.35L183.06 422.25M178.04 422.25L183.06 419.35" stroke="#000" stroke-width="1.25" stroke-linecap="round" fill="none"/>
<line x1="277.30" y1="455.50" x2="286.50" y2="455.50" stroke="#111" stroke-width="1.05"/>
<path d="M281.90 445.90V451.70M279.39 447.35L284.41 450.25M279.39 450.25L284.41 447.35" stroke="#000" stroke-width="1.25" stroke-linecap="round" fill="none"/>
<line x1="309.90" y1="387.50" x2="337.00" y2="387.50" stroke="#111" stroke-width="1.05"/>
<path d="M323.45 377.90V383.70M320.94 379.35L325.96 382.25M320.94 382.25L325.96 379.35" stroke="#000" stroke-width="1.25" stroke-linecap="round" fill="none"/>
<line x1="309.90" y1="400.50" x2="323.50" y2="400.50" stroke="#111" stroke-width="1.05"/>
<path d="M316.70 390.90V396.70M314.19 392.35L319.21 395.25M314.19 395.25L319.21 392.35" stroke="#000" stroke-width="1.25" stroke-linecap="round" fill="none"/>
<line x1="361.20" y1="386.50" x2="388.10" y2="386.50" stroke="#111" stroke-width="1.05"/>
<path d="M369.35 377.50V382.10M367.36 378.65L371.34 380.95M367.36 380.95L371.34 378.65M374.65 377.50V382.10M372.66 378.65L376.64 380.95M372.66 380.95L376.64 378.65M379.95 377.50V382.10M377.96 378.65L381.94 380.95M377.96 380.95L381.94 378.65" stroke="#000" stroke-width="1.2" stroke-linecap="round" fill="none"/>
<line x1="361.20" y1="399.50" x2="374.60" y2="399.50" stroke="#111" stroke-width="1.05"/>
<path d="M362.65 390.20V394.80M360.66 391.35L364.64 393.65M360.66 393.65L364.64 391.35M367.90 390.20V394.80M365.91 391.35L369.89 393.65M365.91 393.65L369.89 391.35M373.15 390.20V394.80M371.16 391.35L375.14 393.65M371.16 393.65L375.14 391.35" stroke="#000" stroke-width="1.2" stroke-linecap="round" fill="none"/>
<line x1="411.00" y1="423.50" x2="424.20" y2="423.50" stroke="#111" stroke-width="1.05"/>
<path d="M417.60 413.90V419.70M415.09 415.35L420.11 418.25M415.09 418.25L420.11 415.35" stroke="#000" stroke-width="1.25" stroke-linecap="round" fill="none"/>
<rect x="457.2" y="390.20" width="11.8" height="5.8" fill="#fff" stroke="#a8a8a8" stroke-width="0.95"/>
<text x="474.60" y="396.10" font-size="8.6" text-anchor="start" >HC</text>
<rect x="457.2" y="404.35" width="11.8" height="5.8" fill="#fff" stroke="#f39a1f" stroke-width="0.95"/>
<text x="474.60" y="410.25" font-size="8.6" text-anchor="start" >GA-A</text>
<rect x="457.2" y="418.50" width="11.8" height="5.8" fill="#fff" stroke="#2f7fc1" stroke-width="0.95"/>
<text x="474.60" y="424.40" font-size="8.6" text-anchor="start" >GA-I</text></g>
<g class="b">
<line x1="27.20" y1="609.39" x2="77.20" y2="609.39" stroke="#f0f0f0" stroke-width="0.6"/>
<line x1="27.20" y1="579.47" x2="77.20" y2="579.47" stroke="#f0f0f0" stroke-width="0.6"/>
<line x1="27.20" y1="549.56" x2="77.20" y2="549.56" stroke="#f0f0f0" stroke-width="0.6"/>
<rect x="26.50" y="535.50" width="52.00" height="104.00" fill="none" stroke="#222" stroke-width="0.9"/>
<text transform="translate(23.80,639.30) rotate(-90)" font-size="6.8" text-anchor="middle" >0</text>
<text transform="translate(23.80,609.39) rotate(-90)" font-size="6.8" text-anchor="middle" >2</text>
<text transform="translate(23.80,579.47) rotate(-90)" font-size="6.8" text-anchor="middle" >4</text>
<text transform="translate(23.80,549.56) rotate(-90)" font-size="6.8" text-anchor="middle" >6</text>
<line x1="36.30" y1="639.30" x2="36.30" y2="641.50" stroke="#222" stroke-width="0.6"/>
<text transform="translate(38.50,646.50) rotate(-45)" font-size="6.9" text-anchor="end" >HC</text>
<line x1="52.00" y1="639.30" x2="52.00" y2="641.50" stroke="#222" stroke-width="0.6"/>
<text transform="translate(54.20,646.50) rotate(-45)" font-size="6.9" text-anchor="end" >GA-A</text>
<line x1="67.70" y1="639.30" x2="67.70" y2="641.50" stroke="#222" stroke-width="0.6"/>
<text transform="translate(69.90,646.50) rotate(-45)" font-size="6.9" text-anchor="end" >GA-I</text>
<text x="51.80" y="523.20" font-size="6.5" text-anchor="middle" >GZMB+ICOS+</text>
<text x="51.80" y="530.60" font-size="6.5" text-anchor="middle" >CD4+naive T(TC12)</text>
<text transform="translate(17.60,590.65) rotate(-90)" font-size="7.3" text-anchor="middle" >Frequencies in T cells</text>
</g>
<g class="b">
<line x1="130.40" y1="621.95" x2="180.70" y2="621.95" stroke="#f0f0f0" stroke-width="0.6"/>
<line x1="130.40" y1="604.60" x2="180.70" y2="604.60" stroke="#f0f0f0" stroke-width="0.6"/>
<line x1="130.40" y1="587.25" x2="180.70" y2="587.25" stroke="#f0f0f0" stroke-width="0.6"/>
<line x1="130.40" y1="569.90" x2="180.70" y2="569.90" stroke="#f0f0f0" stroke-width="0.6"/>
<line x1="130.40" y1="552.55" x2="180.70" y2="552.55" stroke="#f0f0f0" stroke-width="0.6"/>
<line x1="130.40" y1="535.20" x2="180.70" y2="535.20" stroke="#f0f0f0" stroke-width="0.6"/>
<rect x="129.50" y="535.50" width="52.00" height="104.00" fill="none" stroke="#222" stroke-width="0.9"/>
<text x="127.80" y="641.70" font-size="6.8" text-anchor="end" >0</text>
<text x="127.80" y="624.35" font-size="6.8" text-anchor="end" >2</text>
<text x="127.80" y="607.00" font-size="6.8" text-anchor="end" >4</text>
<text x="127.80" y="589.65" font-size="6.8" text-anchor="end" >6</text>
<text x="127.80" y="572.30" font-size="6.8" text-anchor="end" >8</text>
<text x="127.80" y="554.95" font-size="6.8" text-anchor="end" >10</text>
<text x="127.80" y="537.60" font-size="6.8" text-anchor="end" >12</text>
<line x1="139.70" y1="639.30" x2="139.70" y2="641.50" stroke="#222" stroke-width="0.6"/>
<text transform="translate(141.90,646.50) rotate(-45)" font-size="6.9" text-anchor="end" >HC</text>
<line x1="155.60" y1="639.30" x2="155.60" y2="641.50" stroke="#222" stroke-width="0.6"/>
<text transform="translate(157.80,646.50) rotate(-45)" font-size="6.9" text-anchor="end" >GA-A</text>
<line x1="171.20" y1="639.30" x2="171.20" y2="641.50" stroke="#222" stroke-width="0.6"/>
<text transform="translate(173.40,646.50) rotate(-45)" font-size="6.9" text-anchor="end" >GA-I</text>
<text x="155.20" y="523.20" font-size="6.5" text-anchor="middle" >CXCR3+GZMB+</text>
<text x="155.20" y="530.60" font-size="6.5" text-anchor="middle" >CD8+ naive T(TC24)</text>
<text transform="translate(116.90,590.65) rotate(-90)" font-size="7.3" text-anchor="middle" >Frequencies in T cells</text>
</g>
<g class="b">
<line x1="234.40" y1="604.60" x2="284.70" y2="604.60" stroke="#f0f0f0" stroke-width="0.6"/>
<line x1="234.40" y1="569.90" x2="284.70" y2="569.90" stroke="#f0f0f0" stroke-width="0.6"/>
<line x1="234.40" y1="535.20" x2="284.70" y2="535.20" stroke="#f0f0f0" stroke-width="0.6"/>
<rect x="233.50" y="535.50" width="52.00" height="104.00" fill="none" stroke="#222" stroke-width="0.9"/>
<text x="231.80" y="641.70" font-size="6.8" text-anchor="end" >0</text>
<text x="231.80" y="607.00" font-size="6.8" text-anchor="end" >5</text>
<text x="231.80" y="572.30" font-size="6.8" text-anchor="end" >10</text>
<text x="231.80" y="537.60" font-size="6.8" text-anchor="end" >15</text>
<line x1="243.20" y1="639.30" x2="243.20" y2="641.50" stroke="#222" stroke-width="0.6"/>
<text transform="translate(245.40,646.50) rotate(-45)" font-size="6.9" text-anchor="end" >HC</text>
<line x1="259.10" y1="639.30" x2="259.10" y2="641.50" stroke="#222" stroke-width="0.6"/>
<text transform="translate(261.30,646.50) rotate(-45)" font-size="6.9" text-anchor="end" >GA-A</text>
<line x1="274.70" y1="639.30" x2="274.70" y2="641.50" stroke="#222" stroke-width="0.6"/>
<text transform="translate(276.90,646.50) rotate(-45)" font-size="6.9" text-anchor="end" >GA-I</text>
<text x="258.60" y="523.20" font-size="6.5" text-anchor="middle" >CXCR5+CCR7+ICOS+</text>
<text x="258.60" y="530.60" font-size="6.5" text-anchor="middle" >Tfh (TC13)</text>
<text transform="translate(221.00,590.65) rotate(-90)" font-size="7.3" text-anchor="middle" >Frequencies in T cells</text>
</g>
<g class="b">
<line x1="337.70" y1="616.24" x2="387.70" y2="616.24" stroke="#f0f0f0" stroke-width="0.6"/>
<line x1="337.70" y1="593.19" x2="387.70" y2="593.19" stroke="#f0f0f0" stroke-width="0.6"/>
<line x1="337.70" y1="570.13" x2="387.70" y2="570.13" stroke="#f0f0f0" stroke-width="0.6"/>
<line x1="337.70" y1="547.07" x2="387.70" y2="547.07" stroke="#f0f0f0" stroke-width="0.6"/>
<rect x="336.50" y="535.50" width="52.00" height="104.00" fill="none" stroke="#222" stroke-width="0.9"/>
<text x="335.10" y="641.70" font-size="6.8" text-anchor="end" >0</text>
<text x="335.10" y="618.64" font-size="6.8" text-anchor="end" >2</text>
<text x="335.10" y="595.59" font-size="6.8" text-anchor="end" >4</text>
<text x="335.10" y="572.53" font-size="6.8" text-anchor="end" >6</text>
<text x="335.10" y="549.47" font-size="6.8" text-anchor="end" >8</text>
<line x1="346.70" y1="639.30" x2="346.70" y2="641.50" stroke="#222" stroke-width="0.6"/>
<text transform="translate(348.90,646.50) rotate(-45)" font-size="6.9" text-anchor="end" >HC</text>
<line x1="362.60" y1="639.30" x2="362.60" y2="641.50" stroke="#222" stroke-width="0.6"/>
<text transform="translate(364.80,646.50) rotate(-45)" font-size="6.9" text-anchor="end" >GA-A</text>
<line x1="378.20" y1="639.30" x2="378.20" y2="641.50" stroke="#222" stroke-width="0.6"/>
<text transform="translate(380.40,646.50) rotate(-45)" font-size="6.9" text-anchor="end" >GA-I</text>
<text x="361.80" y="523.20" font-size="6.5" text-anchor="middle" >CXCR5+PD1+ICOS+</text>
<text x="361.80" y="530.60" font-size="6.5" text-anchor="middle" >Tfh (TC14)</text>
<text transform="translate(328.60,590.65) rotate(-90)" font-size="7.3" text-anchor="middle" >Frequencies in T cells</text>
</g>
<g class="b">
<line x1="442.70" y1="604.60" x2="492.70" y2="604.60" stroke="#f0f0f0" stroke-width="0.6"/>
<line x1="442.70" y1="569.90" x2="492.70" y2="569.90" stroke="#f0f0f0" stroke-width="0.6"/>
<line x1="442.70" y1="535.20" x2="492.70" y2="535.20" stroke="#f0f0f0" stroke-width="0.6"/>
<rect x="441.50" y="535.50" width="52.00" height="104.00" fill="none" stroke="#222" stroke-width="0.9"/>
<text x="440.10" y="641.70" font-size="6.8" text-anchor="end" >0</text>
<text x="440.10" y="607.00" font-size="6.8" text-anchor="end" >5</text>
<text x="440.10" y="572.30" font-size="6.8" text-anchor="end" >10</text>
<text x="440.10" y="537.60" font-size="6.8" text-anchor="end" >15</text>
<line x1="451.70" y1="639.30" x2="451.70" y2="641.50" stroke="#222" stroke-width="0.6"/>
<text transform="translate(453.90,646.50) rotate(-45)" font-size="6.9" text-anchor="end" >HC</text>
<line x1="467.60" y1="639.30" x2="467.60" y2="641.50" stroke="#222" stroke-width="0.6"/>
<text transform="translate(469.80,646.50) rotate(-45)" font-size="6.9" text-anchor="end" >GA-A</text>
<line x1="483.20" y1="639.30" x2="483.20" y2="641.50" stroke="#222" stroke-width="0.6"/>
<text transform="translate(485.40,646.50) rotate(-45)" font-size="6.9" text-anchor="end" >GA-I</text>
<text x="467.80" y="523.20" font-size="6.5" text-anchor="middle" >CXCR5+GZMB+</text>
<text x="467.80" y="530.60" font-size="6.5" text-anchor="middle" >CD8+ TEM(TC17)</text>
<text transform="translate(430.20,590.65) rotate(-90)" font-size="7.3" text-anchor="middle" >Frequencies in T cells</text>
</g>
<path d="M36.30 564.30Q38.70 564.30 38.50 566.45Q38.30 568.60 38.30 570.80Q38.30 573.00 38.50 575.00Q38.70 577.00 39.20 579.65Q39.70 582.30 40.40 585.65Q41.10 589.00 41.30 591.80Q41.50 594.60 41.35 598.80Q41.20 603.00 41.00 607.50Q40.80 612.00 40.60 615.50Q40.40 619.00 39.80 620.15Q39.20 621.30 38.25 621.65Q37.30 622.00 36.30 622.00Q35.30 622.00 34.35 621.65Q33.40 621.30 32.80 620.15Q32.20 619.00 32.00 615.50Q31.80 612.00 31.60 607.50Q31.40 603.00 31.25 598.80Q31.10 594.60 31.30 591.80Q31.50 589.00 32.20 585.65Q32.90 582.30 33.40 579.65Q33.90 577.00 34.10 575.00Q34.30 573.00 34.30 570.80Q34.30 568.60 34.10 566.45Q33.90 564.30 36.30 564.30Z" fill="#86c383" stroke="#4f8f4c" stroke-width="0.5"/>
<line x1="33.96" y1="576.40" x2="38.64" y2="576.40" stroke="#4f8f4c" stroke-width="0.4"/>
<line x1="31.97" y1="615.00" x2="40.63" y2="615.00" stroke="#4f8f4c" stroke-width="0.4"/>
<line x1="31.10" y1="594.60" x2="41.50" y2="594.60" stroke="#111" stroke-width="0.9"/>
<circle cx="36.30" cy="564.60" r="0.95" fill="#111"/>
<circle cx="36.30" cy="588.20" r="0.95" fill="#111"/>
<circle cx="36.30" cy="594.60" r="0.95" fill="#111"/>
<circle cx="36.30" cy="610.00" r="0.95" fill="#111"/>
<circle cx="36.30" cy="621.50" r="0.95" fill="#111"/>
<line x1="47.40" y1="638.20" x2="56.60" y2="638.20" stroke="#222" stroke-width="0.9"/>
<circle cx="48.55" cy="637.90" r="0.85" fill="#111"/>
<circle cx="50.27" cy="637.90" r="0.85" fill="#111"/>
<circle cx="52.00" cy="637.90" r="0.85" fill="#111"/>
<circle cx="53.72" cy="637.90" r="0.85" fill="#111"/>
<circle cx="55.45" cy="637.90" r="0.85" fill="#111"/>
<line x1="63.10" y1="638.20" x2="72.30" y2="638.20" stroke="#222" stroke-width="0.9"/>
<circle cx="64.25" cy="637.90" r="0.85" fill="#111"/>
<circle cx="65.97" cy="637.90" r="0.85" fill="#111"/>
<circle cx="67.70" cy="637.90" r="0.85" fill="#111"/>
<circle cx="69.42" cy="637.90" r="0.85" fill="#111"/>
<circle cx="71.15" cy="637.90" r="0.85" fill="#111"/>
<line x1="35.40" y1="546.50" x2="66.20" y2="546.50" stroke="#111" stroke-width="1.05"/>
<path d="M46.70 539.80V543.20M45.23 540.65L48.17 542.35M45.23 542.35L48.17 540.65M50.80 539.80V543.20M49.33 540.65L52.27 542.35M49.33 542.35L52.27 540.65M54.90 539.80V543.20M53.43 540.65L56.37 542.35M53.43 542.35L56.37 540.65" stroke="#000" stroke-width="1.55" stroke-linecap="round" fill="none"/>
<line x1="35.40" y1="557.50" x2="50.80" y2="557.50" stroke="#111" stroke-width="1.05"/>
<path d="M39.00 550.80V554.20M37.53 551.65L40.47 553.35M37.53 553.35L40.47 551.65M43.10 550.80V554.20M41.63 551.65L44.57 553.35M41.63 553.35L44.57 551.65M47.20 550.80V554.20M45.73 551.65L48.67 553.35M45.73 553.35L48.67 551.65" stroke="#000" stroke-width="1.55" stroke-linecap="round" fill="none"/>
<path d="M139.70 556.80Q144.80 556.80 144.75 557.40Q144.70 558.00 144.35 560.50Q144.00 563.00 143.45 566.50Q142.90 570.00 142.30 574.00Q141.70 578.00 141.15 582.00Q140.60 586.00 140.30 589.85Q140.00 593.70 140.25 596.85Q140.50 600.00 140.90 603.50Q141.30 607.00 141.65 610.50Q142.00 614.00 142.05 616.50Q142.10 619.00 141.80 620.75Q141.50 622.50 140.90 622.85Q140.30 623.20 139.70 623.20Q139.10 623.20 138.50 622.85Q137.90 622.50 137.60 620.75Q137.30 619.00 137.35 616.50Q137.40 614.00 137.75 610.50Q138.10 607.00 138.50 603.50Q138.90 600.00 139.15 596.85Q139.40 593.70 139.10 589.85Q138.80 586.00 138.25 582.00Q137.70 578.00 137.10 574.00Q136.50 570.00 135.95 566.50Q135.40 563.00 135.05 560.50Q134.70 558.00 134.65 557.40Q134.60 556.80 139.70 556.80Z" fill="#86c383" stroke="#4f8f4c" stroke-width="0.5"/>
<line x1="137.32" y1="618.00" x2="142.08" y2="618.00" stroke="#4f8f4c" stroke-width="0.4"/>
<line x1="135.57" y1="564.10" x2="143.83" y2="564.10" stroke="#111" stroke-width="0.9"/>
<circle cx="139.70" cy="557.80" r="0.95" fill="#111"/>
<circle cx="139.70" cy="560.20" r="0.95" fill="#111"/>
<circle cx="139.70" cy="564.10" r="0.95" fill="#111"/>
<circle cx="139.70" cy="611.60" r="0.95" fill="#111"/>
<circle cx="139.70" cy="622.30" r="0.95" fill="#111"/>
<line x1="151.00" y1="638.20" x2="160.20" y2="638.20" stroke="#222" stroke-width="0.9"/>
<circle cx="152.15" cy="637.90" r="0.85" fill="#111"/>
<circle cx="153.88" cy="637.90" r="0.85" fill="#111"/>
<circle cx="155.60" cy="637.90" r="0.85" fill="#111"/>
<circle cx="157.33" cy="637.90" r="0.85" fill="#111"/>
<circle cx="159.05" cy="637.90" r="0.85" fill="#111"/>
<line x1="166.60" y1="638.20" x2="175.80" y2="638.20" stroke="#222" stroke-width="0.9"/>
<circle cx="167.75" cy="637.90" r="0.85" fill="#111"/>
<circle cx="169.47" cy="637.90" r="0.85" fill="#111"/>
<circle cx="171.20" cy="637.90" r="0.85" fill="#111"/>
<circle cx="172.93" cy="637.90" r="0.85" fill="#111"/>
<circle cx="174.65" cy="637.90" r="0.85" fill="#111"/>
<line x1="138.50" y1="543.50" x2="169.60" y2="543.50" stroke="#111" stroke-width="1.05"/>
<path d="M149.95 536.80V540.20M148.48 537.65L151.42 539.35M148.48 539.35L151.42 537.65M154.05 536.80V540.20M152.58 537.65L155.52 539.35M152.58 539.35L155.52 537.65M158.15 536.80V540.20M156.68 537.65L159.62 539.35M156.68 539.35L159.62 537.65" stroke="#000" stroke-width="1.55" stroke-linecap="round" fill="none"/>
<line x1="138.50" y1="554.50" x2="154.20" y2="554.50" stroke="#111" stroke-width="1.05"/>
<path d="M142.25 547.80V551.20M140.78 548.65L143.72 550.35M140.78 550.35L143.72 548.65M146.35 547.80V551.20M144.88 548.65L147.82 550.35M144.88 550.35L147.82 548.65M150.45 547.80V551.20M148.98 548.65L151.92 550.35M148.98 550.35L151.92 548.65" stroke="#000" stroke-width="1.55" stroke-linecap="round" fill="none"/>
<path d="M243.20 561.70Q247.70 561.70 247.75 562.35Q247.80 563.00 247.50 565.50Q247.20 568.00 246.30 571.50Q245.40 575.00 244.80 578.50Q244.20 582.00 244.50 585.00Q244.80 588.00 245.75 590.50Q246.70 593.00 247.20 596.50Q247.70 600.00 247.60 602.50Q247.50 605.00 246.35 605.80Q245.20 606.60 243.20 606.60Q241.20 606.60 240.05 605.80Q238.90 605.00 238.80 602.50Q238.70 600.00 239.20 596.50Q239.70 593.00 240.65 590.50Q241.60 588.00 241.90 585.00Q242.20 582.00 241.60 578.50Q241.00 575.00 240.10 571.50Q239.20 568.00 238.90 565.50Q238.60 563.00 238.65 562.35Q238.70 561.70 243.20 561.70Z" fill="#86c383" stroke="#4f8f4c" stroke-width="0.5"/>
<line x1="240.88" y1="589.90" x2="245.52" y2="589.90" stroke="#111" stroke-width="0.9"/>
<circle cx="243.20" cy="562.20" r="0.95" fill="#111"/>
<circle cx="243.20" cy="566.20" r="0.95" fill="#111"/>
<circle cx="243.20" cy="589.80" r="0.95" fill="#111"/>
<circle cx="243.20" cy="600.80" r="0.95" fill="#111"/>
<circle cx="243.20" cy="605.40" r="0.95" fill="#111"/>
<path d="M259.10 582.00Q259.60 582.00 260.05 583.00Q260.50 584.00 260.85 587.00Q261.20 590.00 261.90 594.00Q262.60 598.00 263.00 602.00Q263.40 606.00 263.00 609.00Q262.60 612.00 261.85 615.00Q261.10 618.00 261.40 621.00Q261.70 624.00 261.60 625.25Q261.50 626.50 260.55 626.75Q259.60 627.00 259.10 627.00Q258.60 627.00 257.65 626.75Q256.70 626.50 256.60 625.25Q256.50 624.00 256.80 621.00Q257.10 618.00 256.35 615.00Q255.60 612.00 255.20 609.00Q254.80 606.00 255.20 602.00Q255.60 598.00 256.30 594.00Q257.00 590.00 257.35 587.00Q257.70 584.00 258.15 583.00Q258.60 582.00 259.10 582.00Z" fill="#f1b874" stroke="#b07a35" stroke-width="0.5"/>
<line x1="255.07" y1="608.00" x2="263.13" y2="608.00" stroke="#111" stroke-width="0.9"/>
<circle cx="259.10" cy="583.70" r="0.95" fill="#111"/>
<circle cx="259.10" cy="597.20" r="0.95" fill="#111"/>
<circle cx="256.90" cy="608.00" r="0.95" fill="#111"/>
<circle cx="261.60" cy="608.00" r="0.95" fill="#111"/>
<circle cx="259.10" cy="613.80" r="0.95" fill="#111"/>
<circle cx="259.10" cy="617.20" r="0.95" fill="#111"/>
<circle cx="259.10" cy="626.40" r="0.95" fill="#111"/>
<path d="M274.70 590.50Q275.20 590.50 275.75 591.25Q276.30 592.00 277.20 595.00Q278.10 598.00 278.40 601.50Q278.70 605.00 278.55 608.00Q278.40 611.00 277.90 613.00Q277.40 615.00 276.75 617.50Q276.10 620.00 276.65 622.00Q277.20 624.00 277.15 625.50Q277.10 627.00 276.15 627.25Q275.20 627.50 274.70 627.50Q274.20 627.50 273.25 627.25Q272.30 627.00 272.25 625.50Q272.20 624.00 272.75 622.00Q273.30 620.00 272.65 617.50Q272.00 615.00 271.50 613.00Q271.00 611.00 270.85 608.00Q270.70 605.00 271.00 601.50Q271.30 598.00 272.20 595.00Q273.10 592.00 273.65 591.25Q274.20 590.50 274.70 590.50Z" fill="#7597b6" stroke="#3f6384" stroke-width="0.5"/>
<line x1="270.85" y1="608.00" x2="278.55" y2="608.00" stroke="#111" stroke-width="0.9"/>
<circle cx="274.70" cy="591.80" r="0.95" fill="#111"/>
<circle cx="274.70" cy="600.70" r="0.95" fill="#111"/>
<circle cx="274.70" cy="603.50" r="0.95" fill="#111"/>
<circle cx="274.70" cy="608.00" r="0.95" fill="#111"/>
<circle cx="274.70" cy="620.50" r="0.95" fill="#111"/>
<circle cx="272.70" cy="626.50" r="0.95" fill="#111"/>
<circle cx="276.70" cy="626.50" r="0.95" fill="#111"/>
<line x1="242.00" y1="546.50" x2="273.60" y2="546.50" stroke="#111" stroke-width="1.05"/>
<path d="M257.80 539.75V543.25M256.28 540.62L259.32 542.38M256.28 542.38L259.32 540.62" stroke="#000" stroke-width="1.6" stroke-linecap="round" fill="none"/>
<line x1="242.00" y1="557.50" x2="258.40" y2="557.50" stroke="#111" stroke-width="1.05"/>
<path d="M250.20 550.75V554.25M248.68 551.62L251.72 553.38M248.68 553.38L251.72 551.62" stroke="#000" stroke-width="1.6" stroke-linecap="round" fill="none"/>
<path d="M346.70 561.00Q347.30 561.00 347.90 561.50Q348.50 562.00 349.05 564.50Q349.60 567.00 350.25 570.00Q350.90 573.00 351.30 576.00Q351.70 579.00 351.60 581.00Q351.50 583.00 350.75 586.00Q350.00 589.00 349.25 592.00Q348.50 595.00 348.10 597.50Q347.70 600.00 347.35 600.95Q347.00 601.90 346.70 601.90Q346.40 601.90 346.05 600.95Q345.70 600.00 345.30 597.50Q344.90 595.00 344.15 592.00Q343.40 589.00 342.65 586.00Q341.90 583.00 341.80 581.00Q341.70 579.00 342.10 576.00Q342.50 573.00 343.15 570.00Q343.80 567.00 344.35 564.50Q344.90 562.00 345.50 561.50Q346.10 561.00 346.70 561.00Z" fill="#86c383" stroke="#4f8f4c" stroke-width="0.5"/>
<line x1="341.88" y1="582.70" x2="351.51" y2="582.70" stroke="#111" stroke-width="0.9"/>
<circle cx="346.70" cy="561.80" r="0.95" fill="#111"/>
<circle cx="346.70" cy="577.80" r="0.95" fill="#111"/>
<circle cx="344.20" cy="582.70" r="0.95" fill="#111"/>
<circle cx="349.20" cy="582.70" r="0.95" fill="#111"/>
<circle cx="348.70" cy="584.70" r="0.95" fill="#111"/>
<circle cx="346.70" cy="600.70" r="0.95" fill="#111"/>
<path d="M362.60 581.10Q363.00 581.10 363.40 582.05Q363.80 583.00 364.15 586.50Q364.50 590.00 365.10 594.00Q365.70 598.00 366.30 601.00Q366.90 604.00 366.05 606.50Q365.20 609.00 364.55 612.00Q363.90 615.00 364.85 618.00Q365.80 621.00 366.10 624.00Q366.40 627.00 365.25 628.75Q364.10 630.50 362.60 630.50Q361.10 630.50 359.95 628.75Q358.80 627.00 359.10 624.00Q359.40 621.00 360.35 618.00Q361.30 615.00 360.65 612.00Q360.00 609.00 359.15 606.50Q358.30 604.00 358.90 601.00Q359.50 598.00 360.10 594.00Q360.70 590.00 361.05 586.50Q361.40 583.00 361.80 582.05Q362.20 581.10 362.60 581.10Z" fill="#f1b874" stroke="#b07a35" stroke-width="0.5"/>
<line x1="358.87" y1="627.10" x2="366.33" y2="627.10" stroke="#b07a35" stroke-width="0.4"/>
<line x1="359.15" y1="606.50" x2="366.05" y2="606.50" stroke="#111" stroke-width="0.9"/>
<circle cx="362.60" cy="581.80" r="0.95" fill="#111"/>
<circle cx="361.60" cy="604.00" r="0.95" fill="#111"/>
<circle cx="360.10" cy="606.50" r="0.95" fill="#111"/>
<circle cx="365.10" cy="606.50" r="0.95" fill="#111"/>
<circle cx="360.10" cy="626.00" r="0.95" fill="#111"/>
<circle cx="365.10" cy="625.00" r="0.95" fill="#111"/>
<circle cx="362.60" cy="630.00" r="0.95" fill="#111"/>
<path d="M378.20 600.30Q380.20 600.30 380.70 600.65Q381.20 601.00 381.30 604.00Q381.40 607.00 380.90 610.00Q380.40 613.00 381.20 615.50Q382.00 618.00 382.60 620.50Q383.20 623.00 383.00 625.50Q382.80 628.00 382.40 629.30Q382.00 630.60 378.20 630.60Q374.40 630.60 374.00 629.30Q373.60 628.00 373.40 625.50Q373.20 623.00 373.80 620.50Q374.40 618.00 375.20 615.50Q376.00 613.00 375.50 610.00Q375.00 607.00 375.10 604.00Q375.20 601.00 375.70 600.65Q376.20 600.30 378.20 600.30Z" fill="#7597b6" stroke="#3f6384" stroke-width="0.5"/>
<line x1="373.97" y1="619.80" x2="382.43" y2="619.80" stroke="#111" stroke-width="0.9"/>
<circle cx="378.20" cy="601.20" r="0.95" fill="#111"/>
<circle cx="378.20" cy="606.20" r="0.95" fill="#111"/>
<circle cx="378.20" cy="611.60" r="0.95" fill="#111"/>
<circle cx="375.70" cy="619.80" r="0.95" fill="#111"/>
<circle cx="380.70" cy="619.80" r="0.95" fill="#111"/>
<circle cx="376.20" cy="629.50" r="0.95" fill="#111"/>
<circle cx="380.20" cy="627.80" r="0.95" fill="#111"/>
<line x1="346.00" y1="544.50" x2="377.00" y2="544.50" stroke="#111" stroke-width="1.05"/>
<path d="M361.50 537.75V541.25M359.98 538.62L363.02 540.38M359.98 540.38L363.02 538.62" stroke="#000" stroke-width="1.6" stroke-linecap="round" fill="none"/>
<line x1="346.00" y1="555.50" x2="361.90" y2="555.50" stroke="#111" stroke-width="1.05"/>
<path d="M353.95 548.75V552.25M352.43 549.62L355.47 551.38M352.43 551.38L355.47 549.62" stroke="#000" stroke-width="1.6" stroke-linecap="round" fill="none"/>
<path d="M451.70 559.90Q455.30 559.90 455.50 560.45Q455.70 561.00 455.60 563.50Q455.50 566.00 455.10 569.00Q454.70 572.00 454.20 576.00Q453.70 580.00 453.80 584.00Q453.90 588.00 454.60 591.50Q455.30 595.00 455.65 598.00Q456.00 601.00 456.00 603.50Q456.00 606.00 454.45 606.50Q452.90 607.00 451.70 607.00Q450.50 607.00 448.95 606.50Q447.40 606.00 447.40 603.50Q447.40 601.00 447.75 598.00Q448.10 595.00 448.80 591.50Q449.50 588.00 449.60 584.00Q449.70 580.00 449.20 576.00Q448.70 572.00 448.30 569.00Q447.90 566.00 447.80 563.50Q447.70 561.00 447.90 560.45Q448.10 559.90 451.70 559.90Z" fill="#86c383" stroke="#4f8f4c" stroke-width="0.5"/>
<line x1="448.03" y1="567.00" x2="455.37" y2="567.00" stroke="#4f8f4c" stroke-width="0.4"/>
<line x1="448.03" y1="595.60" x2="455.37" y2="595.60" stroke="#111" stroke-width="0.9"/>
<circle cx="450.50" cy="560.60" r="0.95" fill="#111"/>
<circle cx="451.70" cy="575.00" r="0.95" fill="#111"/>
<circle cx="451.70" cy="595.60" r="0.95" fill="#111"/>
<circle cx="449.20" cy="605.80" r="0.95" fill="#111"/>
<circle cx="453.20" cy="604.50" r="0.95" fill="#111"/>
<path d="M467.60 590.70Q468.10 590.70 468.70 591.35Q469.30 592.00 469.55 595.00Q469.80 598.00 469.85 600.50Q469.90 603.00 469.65 605.50Q469.40 608.00 470.30 610.50Q471.20 613.00 471.65 615.50Q472.10 618.00 472.00 620.00Q471.90 622.00 470.35 622.80Q468.80 623.60 467.60 623.60Q466.40 623.60 464.85 622.80Q463.30 622.00 463.20 620.00Q463.10 618.00 463.55 615.50Q464.00 613.00 464.90 610.50Q465.80 608.00 465.55 605.50Q465.30 603.00 465.35 600.50Q465.40 598.00 465.65 595.00Q465.90 592.00 466.50 591.35Q467.10 590.70 467.60 590.70Z" fill="#f1b874" stroke="#b07a35" stroke-width="0.5"/>
<line x1="463.82" y1="614.00" x2="471.38" y2="614.00" stroke="#111" stroke-width="0.9"/>
<circle cx="467.60" cy="591.40" r="0.95" fill="#111"/>
<circle cx="467.60" cy="598.00" r="0.95" fill="#111"/>
<circle cx="467.60" cy="605.80" r="0.95" fill="#111"/>
<circle cx="465.10" cy="614.00" r="0.95" fill="#111"/>
<circle cx="470.10" cy="614.00" r="0.95" fill="#111"/>
<circle cx="467.60" cy="619.80" r="0.95" fill="#111"/>
<circle cx="467.60" cy="623.30" r="0.95" fill="#111"/>
<path d="M483.20 591.00Q483.60 591.00 484.25 591.75Q484.90 592.50 485.25 595.25Q485.60 598.00 485.70 600.50Q485.80 603.00 485.55 606.00Q485.30 609.00 486.00 611.50Q486.70 614.00 487.10 616.50Q487.50 619.00 487.35 620.50Q487.20 622.00 485.80 622.80Q484.40 623.60 483.20 623.60Q482.00 623.60 480.60 622.80Q479.20 622.00 479.05 620.50Q478.90 619.00 479.30 616.50Q479.70 614.00 480.40 611.50Q481.10 609.00 480.85 606.00Q480.60 603.00 480.70 600.50Q480.80 598.00 481.15 595.25Q481.50 592.50 482.15 591.75Q482.80 591.00 483.20 591.00Z" fill="#7597b6" stroke="#3f6384" stroke-width="0.5"/>
<line x1="479.70" y1="614.00" x2="486.70" y2="614.00" stroke="#111" stroke-width="0.9"/>
<circle cx="483.20" cy="591.40" r="0.95" fill="#111"/>
<circle cx="483.20" cy="601.00" r="0.95" fill="#111"/>
<circle cx="480.70" cy="614.00" r="0.95" fill="#111"/>
<circle cx="485.70" cy="614.00" r="0.95" fill="#111"/>
<circle cx="481.20" cy="622.50" r="0.95" fill="#111"/>
<circle cx="485.20" cy="622.50" r="0.95" fill="#111"/>
<circle cx="483.20" cy="605.00" r="0.95" fill="#111"/>
<line x1="451.00" y1="546.50" x2="482.10" y2="546.50" stroke="#111" stroke-width="1.05"/>
<path d="M466.55 539.75V543.25M465.03 540.62L468.07 542.38M465.03 542.38L468.07 540.62" stroke="#000" stroke-width="1.6" stroke-linecap="round" fill="none"/>
<line x1="451.00" y1="557.50" x2="466.90" y2="557.50" stroke="#111" stroke-width="1.05"/>
<path d="M458.95 550.75V554.25M457.43 551.62L460.47 553.38M457.43 553.38L460.47 551.62" stroke="#000" stroke-width="1.6" stroke-linecap="round" fill="none"/>
</svg></body></html>
